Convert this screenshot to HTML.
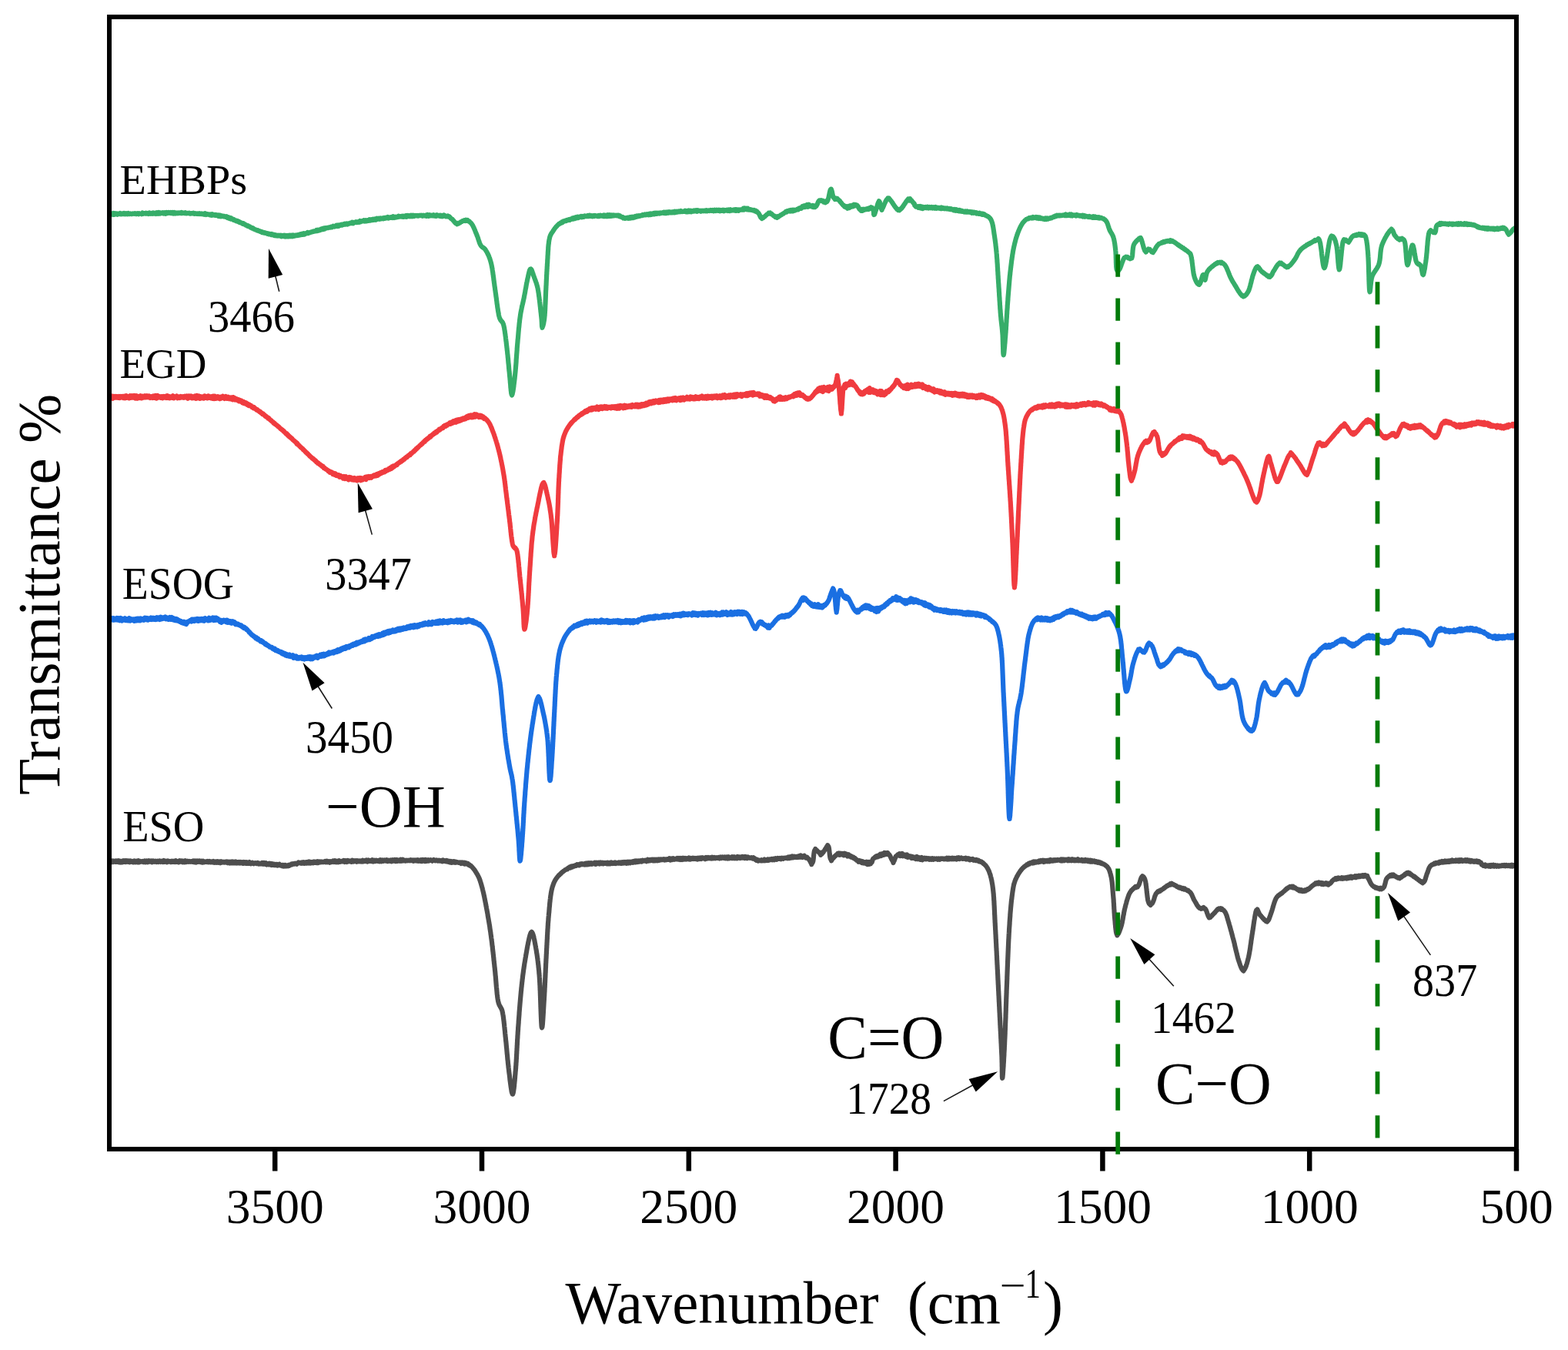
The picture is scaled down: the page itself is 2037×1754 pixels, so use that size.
<!DOCTYPE html><html><head><meta charset="utf-8"><title>FTIR spectra</title><style>html,body{margin:0;padding:0;background:#fff;overflow:hidden;width:2037px;height:1754px;}svg{display:block;}text{font-family:"Liberation Serif","Times New Roman",serif;fill:#000;}</style></head><body>
<svg width="2037" height="1754" viewBox="0 0 2037 1754">
<rect width="2037" height="1754" fill="#fff"/>
<g fill="none" stroke-width="6.2" stroke-linejoin="round" stroke-linecap="round">
<path d="M143.0,1118.6 143.6,1120.2 144.3,1118.2 144.9,1119.8 145.6,1118.4 146.4,1120.1 147.1,1118.5 147.9,1119.6 148.7,1119.0 149.5,1119.8 150.4,1118.4 151.3,1119.7 152.2,1118.6 153.1,1119.8 154.1,1118.3 155.1,1120.3 156.1,1118.7 157.1,1120.4 158.2,1119.0 159.2,1120.2 160.3,1118.3 161.4,1119.6 162.6,1118.4 163.7,1120.0 164.9,1118.2 166.0,1119.6 167.2,1118.5 168.4,1120.2 169.7,1118.4 170.9,1119.7 172.1,1118.9 173.4,1120.3 174.7,1118.6 176.0,1120.3 177.3,1118.9 178.6,1120.1 179.9,1118.3 181.2,1120.2 182.5,1119.0 183.9,1119.7 185.2,1118.9 186.6,1120.1 188.0,1118.6 189.3,1120.2 190.7,1118.6 192.1,1120.1 193.4,1118.2 194.8,1119.6 196.2,1118.5 197.6,1120.2 199.0,1118.5 200.4,1119.7 201.8,1118.7 203.2,1120.1 204.6,1118.8 205.9,1119.9 207.3,1118.5 208.7,1119.9 210.1,1118.8 211.5,1120.0 212.8,1118.1 214.2,1119.7 215.5,1118.7 216.9,1120.2 218.2,1118.4 219.6,1119.6 220.9,1119.0 222.2,1120.1 223.5,1118.7 224.8,1119.8 226.1,1118.7 227.4,1120.0 228.6,1118.4 229.9,1119.7 231.1,1119.0 232.3,1120.3 233.5,1118.2 234.7,1119.5 235.9,1118.6 237.1,1120.1 238.2,1118.7 239.5,1120.2 240.7,1118.3 242.0,1120.1 243.3,1118.8 244.6,1119.8 245.8,1118.9 247.1,1119.8 248.4,1119.1 249.7,1119.8 251.0,1118.5 252.3,1120.2 253.6,1118.6 254.9,1120.5 256.2,1118.6 257.5,1119.8 258.9,1118.5 260.2,1119.9 261.5,1118.7 262.8,1120.6 264.1,1118.9 265.4,1120.3 266.7,1119.4 268.0,1120.0 269.3,1119.0 270.6,1120.2 271.9,1119.1 273.2,1120.3 274.5,1119.5 275.8,1120.4 277.1,1119.1 278.4,1120.6 279.7,1119.4 281.0,1120.7 282.3,1119.3 283.5,1120.7 284.8,1119.5 286.1,1121.2 287.3,1119.3 288.6,1120.6 289.8,1119.7 291.0,1120.6 292.3,1119.7 293.5,1120.5 294.7,1119.5 295.9,1121.1 297.1,1119.8 298.3,1121.4 299.4,1119.9 300.6,1121.2 301.8,1119.5 302.9,1121.3 304.0,1119.8 305.2,1121.1 306.3,1119.5 307.4,1121.6 308.5,1120.2 309.6,1121.3 310.6,1120.0 311.7,1121.5 312.7,1120.1 313.8,1121.2 314.8,1120.2 315.8,1121.8 316.8,1120.1 317.7,1121.6 318.7,1120.4 319.6,1121.7 320.6,1120.4 321.5,1121.7 322.4,1120.9 323.2,1121.6 324.1,1120.1 326.0,1122.2 327.9,1120.7 329.7,1122.3 331.4,1121.1 333.1,1122.0 334.7,1121.0 336.2,1122.6 337.7,1121.6 339.1,1122.5 340.5,1121.0 341.8,1122.8 343.1,1121.1 344.3,1122.6 345.5,1121.4 346.6,1123.4 347.7,1122.3 348.8,1123.3 349.8,1121.8 350.8,1123.2 351.7,1122.1 352.7,1123.9 353.6,1122.2 354.4,1123.7 355.3,1122.9 356.2,1124.0 357.0,1123.0 357.8,1124.1 358.6,1123.1 359.4,1124.1 360.2,1123.0 361.0,1124.6 363.0,1122.8 364.7,1124.6 366.0,1124.0 367.0,1125.3 367.9,1124.1 368.7,1125.6 369.4,1124.0 370.2,1125.2 371.0,1124.1 372.0,1125.4 373.2,1124.4 374.1,1125.3 374.8,1124.0 375.5,1124.8 376.1,1123.8 376.7,1124.3 377.2,1123.5 377.9,1123.7 378.7,1122.5 379.6,1123.2 380.7,1122.2 382.0,1122.7 383.6,1121.6 385.5,1122.7 387.7,1120.5 390.4,1121.5 391.2,1120.7 391.9,1121.7 392.7,1120.4 393.5,1121.5 394.4,1120.3 395.2,1121.8 396.1,1120.5 397.0,1121.5 397.9,1120.4 398.8,1121.4 399.8,1120.1 400.8,1121.5 401.7,1119.6 402.8,1121.6 403.8,1119.9 404.8,1121.2 405.9,1120.0 406.9,1121.1 408.0,1119.4 409.1,1120.8 410.2,1119.7 411.4,1121.0 412.5,1119.2 413.7,1121.0 414.9,1119.5 416.0,1120.4 417.2,1119.5 418.5,1120.2 419.7,1119.6 420.9,1120.1 422.2,1119.1 423.4,1120.3 424.7,1118.7 426.0,1120.2 427.3,1119.2 428.6,1120.6 429.9,1119.2 431.2,1120.0 432.6,1118.5 433.9,1119.9 435.2,1118.3 436.6,1120.2 438.0,1118.8 439.3,1120.2 440.7,1118.2 442.1,1119.8 443.5,1118.8 444.9,1119.4 446.3,1118.1 447.7,1120.0 449.1,1118.2 450.5,1119.9 451.9,1118.0 453.4,1119.3 454.8,1118.5 456.2,1119.8 457.7,1117.9 459.1,1119.4 460.1,1118.3 461.2,1119.0 462.2,1118.2 463.3,1119.7 464.4,1118.3 465.5,1119.2 466.6,1118.4 467.8,1119.4 468.9,1118.4 470.1,1119.4 471.3,1117.9 472.5,1119.2 473.7,1118.1 474.9,1119.0 476.1,1117.5 477.3,1119.5 478.6,1117.6 479.8,1118.9 481.1,1118.0 482.4,1119.0 483.7,1117.4 484.9,1119.4 486.2,1117.9 487.5,1119.1 488.8,1117.8 490.2,1118.9 491.5,1117.9 492.8,1119.1 494.1,1117.4 495.5,1119.3 496.8,1117.6 498.1,1118.8 499.5,1117.4 500.8,1118.5 502.2,1117.2 503.5,1119.1 504.8,1117.7 506.2,1118.7 507.5,1117.5 508.9,1119.1 510.2,1117.3 511.5,1118.5 512.9,1117.0 514.2,1119.1 515.5,1117.1 516.8,1118.7 518.2,1117.4 519.5,1118.6 520.8,1116.9 522.1,1118.6 523.4,1116.9 524.6,1118.4 525.9,1117.7 527.2,1118.6 528.4,1117.6 529.7,1118.4 530.9,1117.7 532.2,1118.3 533.4,1117.3 534.6,1118.2 535.8,1117.5 537.0,1118.7 538.1,1117.5 539.3,1118.4 540.4,1117.4 541.6,1118.4 542.7,1117.2 543.8,1118.8 544.9,1117.7 545.9,1118.6 547.0,1117.2 548.0,1119.0 549.0,1117.1 550.0,1118.4 551.0,1117.2 552.0,1119.0 552.9,1116.9 553.8,1118.9 554.7,1117.7 555.6,1118.5 556.5,1117.3 557.3,1118.5 559.4,1117.1 561.4,1118.7 563.4,1117.0 565.2,1118.4 566.9,1117.3 568.6,1118.6 570.2,1117.6 571.7,1118.7 573.1,1117.9 574.5,1119.3 575.7,1117.6 577.0,1118.9 578.1,1118.2 579.3,1119.2 580.3,1118.1 581.4,1119.4 582.3,1118.7 583.3,1120.1 584.2,1119.1 585.1,1120.4 585.9,1119.1 586.8,1120.7 587.6,1119.4 588.4,1120.1 589.2,1119.3 590.0,1120.5 590.8,1119.4 591.6,1120.7 592.4,1119.8 593.3,1120.6 594.1,1120.2 595.9,1120.9 597.5,1120.3 599.0,1122.0 600.3,1120.5 601.6,1121.8 602.7,1120.9 603.7,1122.5 604.7,1121.0 605.6,1122.3 606.5,1121.8 607.4,1123.0 608.2,1122.4 609.1,1124.0 610.0,1123.6 610.9,1124.9 611.8,1124.9 612.6,1126.0 613.4,1126.6 614.2,1127.6 614.9,1128.3 615.6,1129.4 616.3,1130.0 617.0,1131.1 617.6,1132.0 618.2,1133.1 618.8,1134.0 619.4,1135.1 620.0,1135.9 620.5,1136.9 621.0,1137.8 621.5,1138.8 621.9,1139.6 622.3,1140.6 622.7,1141.5 623.1,1142.5 623.4,1143.4 623.8,1144.5 624.1,1145.5 624.5,1146.7 624.9,1147.9 625.2,1149.2 625.6,1150.5 626.0,1151.9 626.3,1152.8 626.5,1153.8 626.8,1154.7 627.0,1155.8 627.3,1156.8 627.5,1157.9 627.8,1158.9 628.0,1160.0 628.3,1161.1 628.5,1162.3 628.8,1163.4 629.0,1164.6 629.3,1165.8 629.5,1167.0 629.8,1168.2 630.0,1169.5 630.3,1170.7 630.5,1172.0 630.8,1173.2 631.0,1174.5 631.3,1175.8 631.5,1177.2 631.8,1178.5 632.0,1179.8 632.2,1180.8 632.4,1181.9 632.6,1182.9 632.8,1184.0 633.0,1185.1 633.2,1186.1 633.4,1187.2 633.6,1188.3 633.7,1189.4 633.9,1190.5 634.1,1191.7 634.3,1192.8 634.5,1193.9 634.7,1195.1 634.9,1196.2 635.1,1197.4 635.3,1198.6 635.5,1199.7 635.7,1200.9 635.9,1202.1 636.1,1203.3 636.3,1204.5 636.4,1205.7 636.6,1207.0 636.8,1208.2 637.0,1209.5 637.2,1210.7 637.4,1212.0 637.5,1213.2 637.7,1214.5 637.9,1215.8 638.0,1216.9 638.2,1218.0 638.3,1219.1 638.5,1220.2 638.6,1221.4 638.8,1222.5 638.9,1223.7 639.1,1224.8 639.2,1226.0 639.3,1227.2 639.5,1228.4 639.6,1229.6 639.8,1230.8 639.9,1232.0 640.0,1233.2 640.2,1234.4 640.3,1235.7 640.5,1236.9 640.6,1238.1 640.7,1239.3 640.9,1240.6 641.0,1241.8 641.1,1243.0 641.3,1244.3 641.4,1245.5 641.5,1246.7 641.6,1247.9 641.8,1249.1 641.9,1250.3 642.0,1251.5 642.2,1252.7 642.3,1253.9 642.4,1255.1 642.5,1256.3 642.7,1257.4 642.8,1258.6 642.9,1259.7 643.0,1260.9 643.2,1262.2 643.3,1263.4 643.4,1264.7 643.5,1266.0 643.6,1267.3 643.8,1268.6 643.9,1269.9 644.0,1271.2 644.1,1272.5 644.2,1273.7 644.3,1275.0 644.4,1276.3 644.5,1277.6 644.6,1278.9 644.7,1280.1 644.8,1281.4 644.9,1282.6 645.1,1283.9 645.2,1285.1 645.3,1286.3 645.4,1287.4 645.5,1288.6 645.6,1289.7 645.7,1290.8 645.8,1291.9 646.0,1293.0 646.1,1294.0 646.2,1295.0 646.3,1296.0 646.5,1297.0 646.6,1297.9 646.8,1298.7 646.9,1299.6 647.2,1301.3 647.6,1302.8 648.0,1304.0 648.4,1305.1 648.8,1306.0 649.3,1306.9 649.7,1307.5 650.1,1308.4 650.5,1309.0 651.0,1309.9 651.4,1310.6 651.8,1311.7 652.2,1312.7 652.6,1314.1 652.9,1315.6 653.1,1316.5 653.2,1317.4 653.4,1318.3 653.6,1319.3 653.7,1320.3 653.9,1321.3 654.0,1322.4 654.1,1323.5 654.3,1324.6 654.4,1325.7 654.6,1326.9 654.7,1328.1 654.8,1329.2 655.0,1330.4 655.1,1331.7 655.2,1332.9 655.3,1334.1 655.5,1335.4 655.6,1336.7 655.7,1337.9 655.9,1339.2 656.0,1340.5 656.1,1341.8 656.2,1343.1 656.4,1344.4 656.5,1345.7 656.6,1346.9 656.8,1348.2 656.9,1349.5 657.0,1350.6 657.1,1351.7 657.2,1352.8 657.4,1354.0 657.5,1355.1 657.6,1356.3 657.7,1357.5 657.8,1358.6 657.9,1359.8 658.0,1361.0 658.2,1362.2 658.3,1363.5 658.4,1364.7 658.5,1365.9 658.6,1367.1 658.7,1368.3 658.8,1369.6 659.0,1370.8 659.1,1372.0 659.2,1373.2 659.3,1374.4 659.4,1375.7 659.5,1376.9 659.7,1378.1 659.8,1379.2 659.9,1380.4 660.0,1381.6 660.1,1382.8 660.3,1383.9 660.4,1385.0 660.5,1386.1 660.6,1387.3 660.8,1388.3 660.9,1389.4 661.1,1390.8 661.2,1392.2 661.4,1393.6 661.6,1395.2 661.8,1396.7 662.0,1398.3 662.2,1399.8 662.3,1401.4 662.5,1403.0 662.7,1404.6 662.9,1406.1 663.1,1407.7 663.3,1409.2 663.5,1410.6 663.7,1412.0 663.9,1413.3 664.1,1414.6 664.3,1415.8 664.5,1416.8 664.6,1417.9 664.8,1418.7 665.0,1419.5 665.2,1420.2 665.4,1420.7 665.6,1421.0 665.7,1421.4 665.9,1421.1 666.1,1421.6 666.2,1421.1 666.4,1420.8 666.6,1420.2 666.7,1419.7 666.9,1418.9 667.0,1418.1 667.2,1417.2 667.3,1416.1 667.5,1415.0 667.7,1413.8 667.8,1412.5 668.0,1411.2 668.1,1409.8 668.2,1408.4 668.4,1406.9 668.5,1405.3 668.7,1403.8 668.8,1402.2 669.0,1400.6 669.1,1398.9 669.2,1397.3 669.4,1395.7 669.5,1394.1 669.6,1392.5 669.8,1390.9 669.9,1389.4 670.0,1388.4 670.1,1387.4 670.1,1386.4 670.2,1385.3 670.3,1384.3 670.4,1383.2 670.4,1382.1 670.5,1381.0 670.6,1379.9 670.7,1378.8 670.7,1377.6 670.8,1376.4 670.9,1375.3 670.9,1374.1 671.0,1372.9 671.1,1371.7 671.1,1370.5 671.2,1369.3 671.3,1368.0 671.3,1366.8 671.4,1365.6 671.5,1364.3 671.5,1363.1 671.6,1361.8 671.7,1360.6 671.7,1359.3 671.8,1358.1 671.9,1356.8 671.9,1355.5 672.0,1354.3 672.1,1353.0 672.1,1351.8 672.2,1350.5 672.3,1349.3 672.4,1348.0 672.4,1346.8 672.5,1345.6 672.6,1344.3 672.7,1343.1 672.7,1341.9 672.8,1340.7 672.9,1339.5 673.0,1338.3 673.1,1337.1 673.1,1335.9 673.2,1334.7 673.3,1333.5 673.4,1332.3 673.5,1331.1 673.6,1329.8 673.7,1328.6 673.7,1327.4 673.8,1326.2 673.9,1325.0 674.0,1323.7 674.1,1322.5 674.2,1321.3 674.3,1320.0 674.4,1318.8 674.5,1317.6 674.5,1316.4 674.6,1315.1 674.7,1313.9 674.8,1312.7 674.9,1311.5 675.0,1310.3 675.1,1309.1 675.2,1307.9 675.3,1306.7 675.4,1305.5 675.5,1304.3 675.6,1303.1 675.7,1302.0 675.8,1300.8 675.9,1299.6 676.0,1298.5 676.1,1297.3 676.2,1296.2 676.3,1295.1 676.4,1294.0 676.5,1292.9 676.6,1291.8 676.7,1290.7 676.8,1289.6 676.9,1288.3 677.1,1287.0 677.2,1285.7 677.3,1284.4 677.4,1283.2 677.6,1281.9 677.7,1280.7 677.8,1279.5 678.0,1278.3 678.1,1277.1 678.2,1275.9 678.4,1274.7 678.5,1273.5 678.6,1272.4 678.8,1271.2 678.9,1270.1 679.0,1268.9 679.2,1267.8 679.3,1266.6 679.5,1265.5 679.6,1264.4 679.8,1263.2 679.9,1262.1 680.1,1261.0 680.2,1259.9 680.4,1258.7 680.6,1257.6 680.7,1256.5 680.9,1255.4 681.1,1254.2 681.2,1253.1 681.4,1252.0 681.6,1250.8 681.8,1249.7 682.0,1248.5 682.2,1247.3 682.4,1246.0 682.6,1244.7 682.9,1243.3 683.1,1241.9 683.3,1240.5 683.6,1239.1 683.8,1237.7 684.1,1236.3 684.3,1234.8 684.6,1233.4 684.8,1232.0 685.1,1230.6 685.3,1229.2 685.6,1227.8 685.9,1226.5 686.1,1225.2 686.4,1223.8 686.7,1222.6 686.9,1221.4 687.2,1220.2 687.4,1219.1 687.7,1218.1 687.9,1217.1 688.2,1216.1 688.4,1215.2 688.7,1214.5 688.9,1213.7 689.1,1213.2 689.4,1212.5 689.6,1212.2 689.8,1211.6 690.2,1211.8 690.7,1210.8 691.1,1211.5 691.5,1211.8 691.9,1212.6 692.2,1213.4 692.6,1214.6 693.0,1215.9 693.4,1217.4 693.7,1218.9 694.1,1220.6 694.4,1222.4 694.8,1224.2 695.1,1226.0 695.5,1227.9 695.8,1229.7 696.0,1230.6 696.1,1231.4 696.3,1232.3 696.4,1233.2 696.6,1234.2 696.8,1235.1 696.9,1236.1 697.1,1237.1 697.2,1238.1 697.4,1239.1 697.6,1240.1 697.7,1241.2 697.9,1242.3 698.0,1243.4 698.2,1244.5 698.3,1245.6 698.5,1246.8 698.6,1247.9 698.8,1249.1 698.9,1250.4 699.1,1251.6 699.2,1252.9 699.4,1254.1 699.5,1255.4 699.6,1256.8 699.8,1258.1 699.9,1259.5 700.1,1260.9 700.2,1262.3 700.3,1263.7 700.4,1265.2 700.6,1266.7 700.7,1268.2 700.8,1269.7 700.9,1270.7 700.9,1271.7 701.0,1272.8 701.1,1273.9 701.1,1275.0 701.2,1276.2 701.3,1277.5 701.3,1278.7 701.4,1280.0 701.5,1281.3 701.5,1282.7 701.6,1284.0 701.6,1285.4 701.7,1286.8 701.8,1288.3 701.8,1289.7 701.9,1291.2 701.9,1292.7 702.0,1294.1 702.0,1295.6 702.1,1297.1 702.1,1298.6 702.2,1300.1 702.2,1301.6 702.3,1303.1 702.3,1304.6 702.4,1306.0 702.4,1307.5 702.5,1309.0 702.5,1310.4 702.6,1311.8 702.6,1313.2 702.7,1314.6 702.7,1315.9 702.8,1317.2 702.8,1318.5 702.9,1319.8 702.9,1321.0 703.0,1322.2 703.0,1323.3 703.1,1324.5 703.1,1325.5 703.2,1326.5 703.2,1327.5 703.3,1328.5 703.3,1329.3 703.4,1330.1 703.4,1330.9 703.5,1331.6 703.5,1332.3 703.6,1332.8 703.6,1333.4 703.7,1333.8 703.7,1334.2 703.8,1334.5 703.9,1334.9 704.0,1335.2 704.1,1334.5 704.2,1335.1 704.3,1334.7 704.4,1334.3 704.5,1333.7 704.6,1333.0 704.7,1332.1 704.8,1331.2 704.9,1330.1 705.0,1328.9 705.1,1327.6 705.2,1326.3 705.3,1324.8 705.4,1323.3 705.5,1321.8 705.6,1320.1 705.7,1318.5 705.8,1316.8 705.9,1315.0 706.0,1313.3 706.1,1311.5 706.2,1309.8 706.3,1308.0 706.4,1306.3 706.5,1304.6 706.6,1302.9 706.7,1301.2 706.8,1299.6 706.9,1298.6 706.9,1297.7 707.0,1296.7 707.0,1295.6 707.1,1294.6 707.2,1293.5 707.2,1292.4 707.3,1291.3 707.3,1290.2 707.4,1289.1 707.5,1287.9 707.5,1286.7 707.6,1285.6 707.6,1284.4 707.7,1283.2 707.8,1281.9 707.8,1280.7 707.9,1279.5 707.9,1278.2 708.0,1277.0 708.1,1275.7 708.1,1274.4 708.2,1273.2 708.2,1271.9 708.3,1270.6 708.4,1269.3 708.4,1268.0 708.5,1266.7 708.5,1265.4 708.6,1264.1 708.7,1262.9 708.7,1261.6 708.8,1260.3 708.8,1259.0 708.9,1257.7 709.0,1256.5 709.0,1255.2 709.1,1253.9 709.1,1252.7 709.2,1251.4 709.3,1250.2 709.3,1249.0 709.4,1247.8 709.4,1246.6 709.5,1245.4 709.6,1244.2 709.6,1243.1 709.7,1241.9 709.7,1240.8 709.8,1239.7 709.9,1238.4 709.9,1237.1 710.0,1235.8 710.1,1234.5 710.1,1233.2 710.2,1231.9 710.3,1230.7 710.3,1229.4 710.4,1228.1 710.5,1226.9 710.5,1225.6 710.6,1224.4 710.7,1223.1 710.7,1221.9 710.8,1220.6 710.9,1219.4 710.9,1218.2 711.0,1217.0 711.0,1215.8 711.1,1214.6 711.2,1213.4 711.2,1212.2 711.3,1211.0 711.4,1209.8 711.4,1208.6 711.5,1207.5 711.6,1206.3 711.7,1205.2 711.7,1204.0 711.8,1202.9 711.9,1201.8 711.9,1200.6 712.0,1199.5 712.1,1198.4 712.2,1197.3 712.3,1196.2 712.4,1195.1 712.4,1194.0 712.5,1193.0 712.6,1191.9 712.7,1190.8 712.8,1189.8 712.9,1188.4 713.0,1187.1 713.2,1185.7 713.3,1184.4 713.4,1183.0 713.5,1181.7 713.6,1180.3 713.7,1179.0 713.9,1177.7 714.0,1176.4 714.1,1175.1 714.2,1173.8 714.3,1172.6 714.5,1171.3 714.6,1170.1 714.7,1168.9 714.9,1167.6 715.0,1166.5 715.2,1165.3 715.3,1164.1 715.5,1163.0 715.7,1161.9 715.8,1160.8 716.0,1159.7 716.2,1158.6 716.4,1157.6 716.6,1156.6 716.8,1155.6 717.1,1154.6 717.3,1153.7 717.5,1152.8 717.8,1151.9 718.3,1150.4 718.8,1149.0 719.3,1147.6 719.8,1146.5 720.4,1145.2 721.0,1144.2 721.6,1143.0 722.2,1142.1 722.8,1141.1 723.5,1140.4 724.2,1139.3 724.9,1138.7 725.6,1137.6 726.4,1137.2 727.2,1135.9 728.0,1135.7 728.8,1134.5 729.7,1134.0 730.5,1132.9 731.4,1132.6 732.3,1131.6 733.2,1131.3 734.1,1130.3 735.1,1130.0 736.0,1129.2 737.0,1129.4 738.0,1127.7 739.1,1127.9 740.1,1126.6 741.2,1127.4 742.3,1125.6 743.5,1126.5 744.7,1125.1 745.9,1125.7 747.1,1124.4 748.4,1124.9 749.7,1123.2 750.7,1124.0 751.7,1123.2 752.7,1124.3 753.8,1122.6 754.9,1123.4 756.0,1122.3 757.1,1123.2 758.2,1122.4 759.4,1123.4 760.5,1121.8 761.7,1123.1 762.9,1121.4 764.1,1123.2 765.3,1121.2 766.5,1122.7 767.8,1121.4 769.0,1122.7 770.2,1121.5 771.5,1122.2 772.7,1120.9 773.9,1122.8 775.1,1120.7 776.4,1122.0 777.6,1120.8 778.8,1122.4 780.0,1120.6 781.2,1122.0 782.3,1120.8 783.5,1122.3 784.7,1121.0 785.8,1121.9 787.0,1121.0 788.2,1122.1 789.4,1120.8 790.6,1122.2 791.8,1121.0 793.0,1122.3 794.2,1120.6 795.4,1121.9 796.6,1121.0 797.8,1121.8 799.0,1120.5 800.2,1121.9 801.4,1120.9 802.6,1121.6 803.8,1120.5 804.9,1121.5 806.1,1120.5 807.3,1121.8 808.5,1120.4 809.6,1121.4 810.8,1120.1 811.9,1121.3 813.1,1120.1 814.2,1121.7 815.4,1119.8 816.4,1121.4 817.4,1119.8 818.5,1121.2 819.4,1119.8 820.4,1120.6 821.4,1119.6 822.3,1120.8 823.3,1119.1 824.3,1120.2 825.3,1118.5 826.4,1120.2 827.4,1118.4 828.5,1119.9 829.7,1118.6 830.9,1119.5 832.2,1118.3 833.5,1119.4 834.9,1117.7 836.4,1118.7 838.0,1117.6 839.6,1119.1 841.4,1116.9 842.3,1118.5 843.2,1117.3 844.1,1118.2 845.1,1117.0 846.0,1117.9 847.0,1116.9 848.0,1118.2 849.0,1116.8 850.0,1118.3 851.1,1116.8 852.1,1118.2 853.2,1116.8 854.3,1118.1 855.4,1116.5 856.5,1117.7 857.7,1116.5 858.8,1117.4 860.0,1116.4 861.1,1117.1 862.3,1116.3 863.5,1117.5 864.7,1116.4 865.9,1117.2 867.1,1116.2 868.4,1116.9 869.6,1115.4 870.8,1117.6 872.1,1115.6 873.3,1116.9 874.6,1115.3 875.9,1116.7 877.1,1115.7 878.4,1116.4 879.7,1115.1 881.0,1116.5 882.2,1115.1 883.5,1116.9 884.8,1115.1 886.1,1116.9 887.4,1114.8 888.7,1116.5 890.0,1115.0 891.3,1116.4 892.5,1115.2 893.8,1116.2 895.1,1114.6 896.4,1116.6 897.7,1115.1 898.9,1116.1 900.2,1114.8 901.4,1116.0 902.7,1115.0 903.8,1116.1 905.0,1115.1 906.1,1116.4 907.3,1114.8 908.5,1116.0 909.8,1114.6 911.0,1116.0 912.2,1114.2 913.5,1115.4 914.8,1114.7 916.0,1116.1 917.3,1114.0 918.6,1115.4 919.9,1114.1 921.2,1115.3 922.6,1114.2 923.9,1115.5 925.2,1113.9 926.5,1115.3 927.9,1114.0 929.2,1115.2 930.6,1114.2 931.9,1114.9 933.2,1114.0 934.6,1115.4 935.9,1113.5 937.2,1115.0 938.5,1113.5 939.9,1114.7 941.2,1113.6 942.5,1115.3 943.8,1113.4 945.1,1115.4 946.3,1113.3 947.6,1115.2 948.8,1113.9 950.1,1115.0 951.3,1113.3 952.5,1115.1 953.7,1113.3 954.9,1115.2 956.1,1113.8 957.2,1115.2 958.3,1113.1 959.4,1114.6 960.5,1113.6 961.6,1114.9 962.6,1113.4 963.6,1114.4 964.6,1113.1 965.6,1114.6 966.5,1113.3 967.4,1115.0 968.3,1113.1 969.1,1114.7 970.0,1113.4 970.7,1115.2 971.5,1113.4 974.1,1114.8 976.1,1114.1 977.6,1115.5 978.8,1114.4 979.7,1115.8 980.3,1115.3 980.8,1116.2 981.2,1116.2 981.6,1117.3 982.1,1116.8 982.7,1117.8 983.6,1116.8 984.9,1118.5 986.5,1117.5 988.6,1118.4 989.4,1117.4 990.3,1118.2 991.2,1117.5 992.1,1118.2 993.1,1116.6 994.1,1118.2 995.2,1117.3 996.3,1118.1 997.5,1116.5 998.7,1117.8 999.9,1116.5 1001.1,1117.1 1002.4,1115.9 1003.7,1117.1 1005.0,1115.7 1006.3,1117.1 1007.6,1115.4 1009.0,1116.7 1010.4,1115.0 1011.7,1115.9 1013.1,1114.9 1014.5,1116.3 1015.9,1114.8 1017.3,1115.8 1018.7,1114.6 1020.0,1115.0 1021.4,1114.3 1022.8,1115.3 1024.1,1113.4 1025.4,1115.0 1026.8,1113.3 1028.0,1114.4 1029.3,1112.6 1030.6,1114.3 1031.8,1112.9 1033.0,1113.9 1034.1,1113.0 1035.2,1113.9 1036.3,1112.8 1037.3,1113.7 1038.3,1112.3 1039.3,1113.7 1040.2,1111.4 1041.0,1113.6 1041.9,1112.4 1042.6,1113.9 1044.9,1111.8 1046.9,1114.6 1048.5,1113.7 1049.7,1115.8 1050.8,1116.0 1051.6,1117.7 1052.2,1118.3 1052.7,1119.6 1053.1,1120.3 1053.5,1121.2 1053.9,1121.2 1054.3,1123.1 1054.9,1121.2 1055.4,1121.3 1055.8,1120.2 1056.1,1119.4 1056.4,1118.2 1056.6,1116.9 1056.8,1115.4 1056.9,1113.9 1057.0,1112.4 1057.2,1110.9 1057.3,1109.4 1057.5,1108.1 1057.7,1106.8 1057.9,1105.8 1058.2,1104.8 1058.6,1105.0 1059.3,1102.9 1060.2,1105.1 1061.1,1104.8 1062.1,1106.0 1063.1,1106.7 1064.2,1108.1 1065.2,1108.2 1066.2,1110.9 1067.2,1107.6 1068.0,1109.2 1068.8,1107.9 1069.7,1107.2 1070.5,1105.5 1071.4,1104.5 1072.2,1102.9 1073.0,1101.9 1073.8,1100.3 1074.5,1100.1 1075.2,1098.1 1075.8,1100.3 1076.2,1099.6 1076.5,1100.7 1076.8,1101.6 1077.0,1102.8 1077.2,1104.1 1077.3,1105.6 1077.5,1107.1 1077.7,1108.7 1077.8,1110.2 1078.0,1111.7 1078.2,1113.1 1078.4,1114.3 1078.7,1115.3 1079.1,1116.3 1079.5,1116.2 1080.1,1118.3 1080.8,1115.8 1081.5,1116.2 1082.3,1114.9 1083.1,1114.4 1084.0,1112.8 1084.9,1112.5 1085.9,1111.0 1087.0,1110.5 1088.1,1109.1 1089.3,1110.5 1090.2,1108.5 1091.3,1110.8 1092.4,1108.8 1093.5,1110.3 1094.8,1109.1 1096.0,1111.2 1097.3,1108.7 1098.5,1111.1 1099.8,1109.9 1101.0,1112.4 1102.3,1110.2 1103.4,1112.4 1104.5,1111.8 1105.6,1113.5 1106.5,1112.7 1107.8,1114.5 1108.9,1113.8 1109.8,1115.4 1110.7,1115.0 1111.6,1116.7 1112.4,1116.5 1113.2,1118.0 1114.1,1117.9 1115.2,1119.7 1116.3,1118.0 1117.3,1119.8 1118.4,1118.8 1119.6,1121.0 1120.8,1119.3 1122.0,1121.6 1123.3,1120.2 1124.6,1122.0 1125.8,1119.8 1127.0,1123.1 1128.2,1120.0 1129.2,1122.9 1130.2,1119.9 1131.0,1122.3 1132.0,1120.4 1132.6,1120.5 1133.0,1119.3 1133.3,1118.4 1133.6,1117.1 1134.0,1116.2 1134.8,1115.0 1135.9,1114.9 1136.7,1113.5 1137.7,1113.9 1138.7,1112.2 1139.9,1113.3 1141.1,1111.4 1142.4,1112.4 1143.7,1109.7 1145.0,1111.9 1146.3,1109.3 1147.6,1110.8 1148.9,1107.9 1150.1,1110.3 1151.2,1108.2 1152.2,1109.7 1153.1,1108.0 1154.1,1110.0 1155.0,1110.1 1155.8,1111.5 1156.5,1112.4 1157.1,1113.9 1157.7,1115.0 1158.2,1116.3 1158.8,1117.2 1159.3,1118.4 1159.9,1118.2 1160.5,1121.0 1161.1,1118.4 1161.6,1118.6 1162.0,1117.3 1162.4,1116.4 1162.8,1115.0 1163.3,1114.0 1164.0,1112.3 1164.9,1112.1 1166.2,1110.5 1167.8,1111.3 1168.6,1109.2 1169.4,1112.2 1170.2,1110.0 1171.1,1111.4 1172.0,1108.9 1172.9,1112.3 1173.9,1110.2 1174.9,1112.1 1176.0,1110.9 1177.1,1113.0 1178.2,1110.4 1179.3,1113.9 1180.5,1111.9 1181.8,1113.5 1183.0,1112.5 1184.3,1115.0 1185.6,1113.0 1187.0,1114.9 1188.4,1113.8 1189.8,1116.1 1191.2,1113.1 1192.7,1116.3 1194.2,1114.3 1195.7,1116.8 1197.3,1113.9 1198.3,1117.2 1199.3,1114.7 1200.4,1116.3 1201.5,1114.8 1202.6,1116.2 1203.8,1115.1 1205.0,1116.1 1206.2,1115.2 1207.4,1116.7 1208.7,1115.5 1210.0,1116.8 1211.3,1115.4 1212.6,1116.7 1214.0,1115.4 1215.3,1116.2 1216.7,1115.4 1218.1,1116.7 1219.4,1115.4 1220.8,1116.7 1222.2,1115.3 1223.5,1115.9 1224.9,1115.3 1226.2,1116.4 1227.6,1115.4 1228.9,1116.3 1230.2,1114.8 1231.5,1116.6 1232.8,1114.7 1234.0,1116.3 1235.3,1115.1 1236.5,1116.2 1237.6,1114.7 1238.8,1116.1 1239.9,1115.0 1240.9,1116.0 1242.0,1115.1 1242.9,1116.4 1243.9,1114.5 1244.8,1115.7 1245.6,1114.3 1246.4,1116.1 1248.8,1114.5 1250.7,1115.9 1252.3,1115.1 1253.5,1115.8 1254.5,1114.8 1255.3,1116.4 1256.0,1115.3 1256.7,1116.2 1257.3,1115.2 1258.1,1116.5 1258.9,1115.5 1260.0,1117.3 1261.1,1116.2 1262.3,1116.9 1263.5,1116.0 1264.7,1117.7 1266.0,1116.9 1267.2,1118.0 1268.4,1117.0 1269.6,1118.4 1270.8,1117.8 1272.0,1119.4 1273.1,1118.9 1274.1,1119.9 1275.1,1119.6 1276.0,1120.8 1276.9,1120.9 1277.7,1122.3 1278.5,1122.5 1279.3,1123.4 1280.0,1123.9 1280.7,1124.9 1281.4,1125.6 1282.1,1126.8 1282.7,1127.6 1283.3,1128.9 1283.9,1130.0 1284.5,1131.4 1284.9,1132.2 1285.2,1133.2 1285.5,1134.0 1285.8,1134.9 1286.2,1135.8 1286.5,1136.8 1286.8,1137.7 1287.0,1138.8 1287.3,1139.8 1287.6,1140.9 1287.8,1142.0 1288.1,1143.1 1288.3,1144.3 1288.6,1145.6 1288.8,1146.9 1289.0,1148.2 1289.3,1149.6 1289.5,1151.1 1289.7,1152.6 1289.9,1154.2 1290.1,1155.9 1290.2,1156.8 1290.3,1157.7 1290.4,1158.7 1290.5,1159.6 1290.6,1160.6 1290.7,1161.6 1290.8,1162.7 1290.8,1163.7 1290.9,1164.8 1291.0,1165.8 1291.1,1166.9 1291.1,1168.0 1291.2,1169.2 1291.3,1170.3 1291.4,1171.5 1291.4,1172.6 1291.5,1173.8 1291.5,1175.0 1291.6,1176.2 1291.7,1177.4 1291.7,1178.6 1291.8,1179.8 1291.8,1181.1 1291.9,1182.3 1292.0,1183.6 1292.0,1184.9 1292.1,1186.1 1292.1,1187.4 1292.2,1188.7 1292.3,1190.0 1292.3,1191.2 1292.4,1192.5 1292.4,1193.8 1292.5,1195.1 1292.6,1196.4 1292.6,1197.7 1292.7,1199.0 1292.8,1200.3 1292.8,1201.6 1292.9,1202.9 1293.0,1204.0 1293.0,1205.1 1293.1,1206.2 1293.1,1207.3 1293.2,1208.4 1293.3,1209.5 1293.3,1210.6 1293.4,1211.8 1293.4,1212.9 1293.5,1214.1 1293.6,1215.2 1293.6,1216.4 1293.7,1217.5 1293.7,1218.7 1293.8,1219.9 1293.9,1221.0 1293.9,1222.2 1294.0,1223.4 1294.0,1224.6 1294.1,1225.8 1294.2,1227.0 1294.2,1228.2 1294.3,1229.4 1294.3,1230.6 1294.4,1231.8 1294.5,1233.0 1294.5,1234.2 1294.6,1235.4 1294.7,1236.6 1294.7,1237.8 1294.8,1239.0 1294.8,1240.2 1294.9,1241.4 1295.0,1242.6 1295.0,1243.9 1295.1,1245.1 1295.1,1246.3 1295.2,1247.5 1295.3,1248.7 1295.3,1249.9 1295.4,1251.1 1295.4,1252.3 1295.5,1253.5 1295.6,1254.7 1295.6,1255.9 1295.7,1257.0 1295.7,1258.2 1295.8,1259.4 1295.9,1260.6 1295.9,1261.8 1296.0,1262.9 1296.0,1264.1 1296.1,1265.3 1296.2,1266.5 1296.2,1267.6 1296.3,1268.8 1296.3,1270.0 1296.4,1271.2 1296.4,1272.3 1296.5,1273.5 1296.6,1274.7 1296.6,1275.9 1296.7,1277.0 1296.7,1278.2 1296.8,1279.4 1296.9,1280.6 1296.9,1281.7 1297.0,1282.9 1297.0,1284.1 1297.1,1285.3 1297.1,1286.4 1297.2,1287.6 1297.3,1288.8 1297.3,1289.9 1297.4,1291.1 1297.4,1292.3 1297.5,1293.5 1297.6,1294.6 1297.6,1295.8 1297.7,1297.0 1297.7,1298.2 1297.8,1299.3 1297.8,1300.5 1297.9,1301.7 1298.0,1302.9 1298.0,1304.0 1298.1,1305.2 1298.1,1306.4 1298.2,1307.6 1298.3,1308.7 1298.3,1309.9 1298.4,1311.1 1298.4,1312.3 1298.5,1313.4 1298.5,1314.6 1298.6,1315.8 1298.7,1317.0 1298.7,1318.2 1298.8,1319.4 1298.8,1320.6 1298.9,1321.8 1299.0,1323.1 1299.0,1324.3 1299.1,1325.5 1299.2,1326.8 1299.2,1328.0 1299.3,1329.3 1299.3,1330.6 1299.4,1331.9 1299.5,1333.1 1299.5,1334.4 1299.6,1335.7 1299.7,1337.0 1299.7,1338.2 1299.8,1339.5 1299.9,1340.8 1299.9,1342.0 1300.0,1343.3 1300.1,1344.6 1300.1,1345.8 1300.2,1347.1 1300.2,1348.3 1300.3,1349.5 1300.4,1350.8 1300.4,1352.0 1300.5,1353.2 1300.5,1354.4 1300.6,1355.6 1300.7,1356.7 1300.7,1357.9 1300.8,1359.0 1300.8,1360.2 1300.9,1361.3 1300.9,1362.4 1301.0,1363.5 1301.0,1364.5 1301.1,1365.6 1301.1,1366.6 1301.2,1367.6 1301.2,1368.6 1301.3,1369.5 1301.3,1370.5 1301.4,1371.4 1301.4,1372.3 1301.5,1374.1 1301.5,1375.9 1301.6,1377.7 1301.6,1379.5 1301.7,1381.3 1301.7,1383.1 1301.7,1384.9 1301.8,1386.6 1301.8,1388.3 1301.8,1389.9 1301.8,1391.4 1301.8,1392.9 1301.9,1394.2 1301.9,1395.5 1301.9,1396.7 1301.9,1397.7 1301.9,1398.6 1302.0,1399.4 1302.0,1400.0 1302.1,1400.5 1302.1,1400.8 1302.2,1400.5 1302.2,1400.8 1302.3,1400.5 1302.3,1400.2 1302.4,1399.9 1302.5,1399.5 1302.5,1399.0 1302.6,1398.4 1302.6,1397.8 1302.7,1397.1 1302.8,1396.4 1302.8,1395.6 1302.9,1394.7 1303.0,1393.8 1303.0,1392.8 1303.1,1391.8 1303.2,1390.7 1303.2,1389.6 1303.3,1388.5 1303.4,1387.3 1303.5,1386.0 1303.6,1384.8 1303.6,1383.5 1303.7,1382.1 1303.8,1380.8 1303.9,1379.4 1304.0,1377.9 1304.0,1376.5 1304.1,1375.0 1304.2,1373.6 1304.3,1372.0 1304.4,1370.5 1304.4,1369.0 1304.5,1367.5 1304.6,1365.9 1304.7,1364.4 1304.8,1362.8 1304.8,1361.2 1304.9,1359.7 1305.0,1358.1 1305.1,1356.6 1305.1,1355.0 1305.2,1353.5 1305.2,1352.5 1305.3,1351.5 1305.3,1350.5 1305.4,1349.5 1305.4,1348.4 1305.5,1347.4 1305.5,1346.3 1305.6,1345.2 1305.6,1344.1 1305.7,1343.0 1305.7,1341.9 1305.7,1340.8 1305.8,1339.6 1305.8,1338.5 1305.9,1337.3 1305.9,1336.1 1306.0,1335.0 1306.0,1333.8 1306.1,1332.6 1306.1,1331.4 1306.1,1330.1 1306.2,1328.9 1306.2,1327.7 1306.3,1326.5 1306.3,1325.2 1306.4,1324.0 1306.4,1322.7 1306.5,1321.5 1306.5,1320.2 1306.5,1318.9 1306.6,1317.7 1306.6,1316.4 1306.7,1315.1 1306.7,1313.8 1306.8,1312.6 1306.8,1311.3 1306.8,1310.0 1306.9,1308.7 1306.9,1307.5 1307.0,1306.2 1307.0,1304.9 1307.1,1303.7 1307.1,1302.4 1307.2,1301.1 1307.2,1299.9 1307.2,1298.6 1307.3,1297.3 1307.3,1296.1 1307.4,1294.8 1307.4,1293.6 1307.5,1292.4 1307.5,1291.1 1307.6,1289.9 1307.6,1288.7 1307.6,1287.5 1307.7,1286.3 1307.7,1285.1 1307.8,1283.9 1307.8,1282.8 1307.9,1281.6 1307.9,1280.5 1308.0,1279.3 1308.0,1278.2 1308.1,1276.9 1308.1,1275.6 1308.2,1274.3 1308.2,1273.1 1308.3,1271.8 1308.3,1270.5 1308.3,1269.2 1308.4,1267.9 1308.4,1266.7 1308.5,1265.4 1308.5,1264.1 1308.6,1262.8 1308.6,1261.6 1308.7,1260.3 1308.7,1259.0 1308.8,1257.8 1308.8,1256.5 1308.9,1255.3 1308.9,1254.0 1309.0,1252.7 1309.0,1251.5 1309.1,1250.3 1309.1,1249.0 1309.2,1247.8 1309.2,1246.5 1309.3,1245.3 1309.3,1244.1 1309.4,1242.9 1309.4,1241.7 1309.5,1240.4 1309.5,1239.2 1309.6,1238.0 1309.6,1236.8 1309.7,1235.7 1309.7,1234.5 1309.8,1233.3 1309.8,1232.1 1309.9,1231.0 1309.9,1229.8 1310.0,1228.7 1310.0,1227.5 1310.1,1226.4 1310.1,1225.2 1310.2,1224.1 1310.2,1223.0 1310.3,1221.9 1310.3,1220.8 1310.4,1219.7 1310.5,1218.6 1310.5,1217.5 1310.6,1216.5 1310.6,1215.4 1310.7,1214.4 1310.7,1213.3 1310.8,1212.3 1310.9,1210.9 1311.0,1209.5 1311.0,1208.1 1311.1,1206.7 1311.2,1205.4 1311.3,1204.0 1311.4,1202.7 1311.5,1201.3 1311.6,1200.0 1311.6,1198.7 1311.7,1197.4 1311.8,1196.1 1311.9,1194.8 1312.0,1193.6 1312.1,1192.3 1312.2,1191.1 1312.3,1189.8 1312.3,1188.6 1312.4,1187.4 1312.5,1186.2 1312.6,1185.0 1312.7,1183.9 1312.8,1182.7 1312.9,1181.6 1313.0,1180.4 1313.1,1179.3 1313.2,1178.2 1313.3,1177.1 1313.4,1176.1 1313.5,1175.0 1313.6,1174.0 1313.7,1173.0 1313.8,1171.9 1313.9,1170.9 1314.0,1170.0 1314.1,1169.0 1314.3,1168.1 1314.4,1167.1 1314.5,1166.2 1314.6,1165.3 1314.8,1163.6 1315.0,1162.1 1315.2,1160.6 1315.4,1159.1 1315.6,1157.8 1315.8,1156.5 1316.0,1155.2 1316.2,1154.0 1316.4,1152.9 1316.6,1151.8 1316.8,1150.7 1317.0,1149.6 1317.3,1148.7 1317.6,1147.6 1317.9,1146.7 1318.2,1145.7 1318.5,1144.8 1318.9,1143.7 1319.3,1142.8 1319.7,1141.8 1320.2,1140.8 1320.7,1139.7 1321.3,1138.7 1321.8,1137.6 1322.4,1136.6 1323.0,1135.5 1323.6,1134.6 1324.3,1133.5 1324.9,1132.7 1325.6,1131.5 1326.3,1130.8 1327.1,1129.5 1327.9,1129.0 1328.7,1127.7 1329.5,1127.3 1330.4,1126.1 1331.3,1125.9 1332.2,1124.7 1333.2,1124.5 1334.2,1123.2 1335.3,1123.5 1336.2,1121.9 1337.2,1122.6 1338.2,1121.2 1339.2,1121.5 1340.3,1120.4 1341.4,1121.4 1342.6,1119.6 1343.7,1121.1 1344.9,1119.5 1346.1,1120.6 1347.3,1119.4 1348.6,1120.3 1349.8,1118.5 1351.1,1119.6 1352.3,1118.1 1353.6,1119.3 1354.9,1117.9 1356.1,1119.9 1357.4,1118.1 1358.6,1119.3 1359.9,1118.1 1361.1,1119.3 1362.3,1117.8 1363.5,1119.1 1364.7,1117.1 1365.8,1118.5 1367.0,1117.5 1368.2,1118.5 1369.4,1117.3 1370.5,1118.2 1371.7,1117.1 1372.9,1117.8 1374.1,1117.0 1375.2,1117.7 1376.4,1117.1 1377.6,1118.2 1378.8,1116.5 1379.9,1118.4 1381.1,1116.6 1382.3,1118.2 1383.5,1116.8 1384.6,1117.6 1385.8,1116.7 1387.0,1118.1 1388.2,1116.2 1389.3,1118.1 1390.5,1116.7 1391.7,1118.1 1392.9,1116.3 1394.1,1118.0 1395.3,1116.7 1396.5,1118.3 1397.8,1117.0 1399.0,1118.0 1400.3,1116.4 1401.5,1118.2 1402.8,1117.3 1404.1,1118.3 1405.3,1117.0 1406.6,1118.8 1407.8,1117.6 1409.0,1118.6 1410.2,1117.1 1411.4,1118.5 1412.6,1117.6 1413.7,1119.1 1414.8,1117.9 1415.9,1119.4 1417.0,1117.9 1418.0,1119.5 1419.0,1118.2 1420.0,1119.6 1421.5,1118.5 1422.9,1120.1 1424.3,1119.3 1425.6,1120.7 1426.9,1119.7 1428.1,1121.1 1429.2,1120.4 1430.4,1121.9 1431.4,1121.4 1432.5,1122.5 1433.4,1122.4 1434.4,1123.3 1435.3,1123.4 1436.1,1124.5 1436.9,1124.7 1437.8,1125.6 1438.5,1126.2 1439.2,1127.3 1439.8,1128.0 1440.4,1129.1 1440.9,1130.0 1441.3,1131.1 1441.7,1132.2 1442.1,1133.4 1442.4,1134.6 1442.8,1136.0 1443.1,1137.4 1443.5,1138.9 1443.7,1139.8 1443.9,1140.8 1444.1,1141.7 1444.2,1142.7 1444.4,1143.8 1444.5,1144.9 1444.7,1146.0 1444.8,1147.1 1444.9,1148.3 1445.0,1149.4 1445.1,1150.6 1445.2,1151.8 1445.3,1153.0 1445.4,1154.3 1445.5,1155.5 1445.6,1156.7 1445.7,1158.0 1445.8,1159.2 1445.9,1160.4 1446.0,1161.7 1446.1,1162.9 1446.2,1164.1 1446.3,1165.3 1446.4,1166.4 1446.5,1167.6 1446.6,1168.8 1446.7,1170.0 1446.7,1171.2 1446.8,1172.4 1446.9,1173.6 1447.0,1174.8 1447.0,1176.1 1447.1,1177.3 1447.2,1178.5 1447.2,1179.8 1447.3,1181.0 1447.4,1182.2 1447.5,1183.4 1447.5,1184.6 1447.6,1185.8 1447.7,1186.9 1447.8,1188.1 1447.8,1189.2 1447.9,1190.3 1448.0,1191.4 1448.1,1192.5 1448.2,1193.5 1448.3,1194.9 1448.5,1196.3 1448.6,1197.8 1448.7,1199.2 1448.8,1200.7 1449.0,1202.1 1449.1,1203.6 1449.2,1205.0 1449.4,1206.3 1449.5,1207.6 1449.7,1208.8 1449.8,1209.9 1450.0,1211.0 1450.2,1211.9 1450.4,1212.7 1450.6,1213.3 1450.8,1214.0 1451.0,1214.1 1451.4,1215.4 1451.9,1213.8 1452.4,1213.9 1452.9,1212.9 1453.5,1211.9 1454.0,1210.6 1454.6,1209.2 1455.1,1207.6 1455.7,1206.1 1456.2,1204.5 1456.7,1202.9 1457.0,1202.0 1457.2,1201.1 1457.4,1200.1 1457.7,1199.1 1457.9,1197.9 1458.1,1196.8 1458.3,1195.7 1458.6,1194.5 1458.8,1193.3 1459.0,1192.1 1459.2,1190.8 1459.4,1189.6 1459.7,1188.4 1459.9,1187.2 1460.1,1185.9 1460.3,1184.8 1460.6,1183.6 1460.8,1182.5 1461.0,1181.3 1461.3,1180.3 1461.6,1179.1 1461.9,1177.9 1462.2,1176.6 1462.5,1175.4 1462.9,1174.1 1463.2,1173.0 1463.5,1171.7 1463.8,1170.6 1464.2,1169.4 1464.5,1168.3 1464.9,1167.2 1465.2,1166.2 1465.6,1165.1 1465.9,1164.2 1466.3,1163.2 1466.6,1162.4 1467.0,1161.4 1467.7,1160.1 1468.5,1158.8 1469.2,1158.0 1470.0,1156.6 1470.8,1156.3 1471.6,1155.1 1472.4,1154.9 1473.1,1153.8 1473.8,1153.6 1474.9,1152.0 1476.0,1153.1 1477.0,1151.6 1477.9,1152.2 1478.9,1150.6 1479.3,1150.1 1479.8,1149.0 1480.2,1147.9 1480.6,1146.6 1481.0,1145.3 1481.4,1143.9 1481.8,1142.7 1482.2,1141.5 1482.6,1140.7 1483.0,1139.7 1483.4,1139.8 1484.2,1138.3 1484.9,1139.7 1485.7,1139.5 1486.5,1140.7 1487.2,1142.1 1487.9,1144.5 1488.1,1145.2 1488.3,1146.1 1488.4,1147.1 1488.6,1148.2 1488.7,1149.3 1488.9,1150.6 1489.1,1151.8 1489.2,1153.2 1489.4,1154.5 1489.5,1155.9 1489.7,1157.4 1489.8,1158.8 1490.0,1160.2 1490.2,1161.6 1490.3,1162.9 1490.5,1164.2 1490.6,1165.5 1490.8,1166.7 1491.0,1167.8 1491.1,1168.9 1491.3,1169.8 1491.5,1170.6 1491.7,1171.2 1492.6,1173.7 1493.6,1174.7 1494.7,1175.9 1495.8,1174.3 1496.8,1173.9 1497.2,1173.1 1497.6,1172.5 1498.0,1171.4 1498.5,1170.4 1498.9,1169.1 1499.3,1167.9 1499.7,1166.5 1500.1,1165.2 1500.5,1163.9 1501.0,1162.9 1501.4,1161.8 1501.9,1161.1 1502.7,1159.9 1503.4,1159.5 1504.2,1158.2 1505.0,1158.7 1506.0,1157.4 1507.0,1157.9 1508.3,1156.2 1509.1,1156.2 1509.9,1155.4 1510.9,1155.1 1511.9,1153.8 1512.9,1153.7 1513.9,1152.2 1515.0,1152.0 1516.1,1150.7 1517.1,1150.9 1518.2,1149.7 1519.2,1149.9 1520.2,1148.3 1521.1,1149.5 1522.2,1147.8 1523.2,1149.1 1524.2,1148.8 1525.2,1149.9 1526.1,1149.8 1527.1,1150.8 1528.0,1150.9 1529.1,1152.1 1530.1,1152.0 1531.3,1153.2 1532.3,1152.6 1533.3,1153.9 1534.4,1153.5 1535.6,1154.8 1536.8,1154.0 1537.9,1155.5 1539.1,1154.6 1540.3,1156.0 1541.4,1156.0 1542.5,1157.2 1543.5,1156.8 1544.5,1158.2 1545.3,1158.4 1546.2,1159.5 1546.9,1160.2 1547.6,1161.3 1548.2,1162.3 1548.7,1163.5 1549.2,1164.6 1549.7,1165.8 1550.2,1166.8 1550.6,1168.0 1551.1,1169.0 1551.7,1170.0 1552.3,1171.0 1553.0,1172.2 1553.6,1173.2 1554.2,1174.4 1554.8,1175.4 1555.5,1176.6 1556.1,1177.2 1556.7,1178.3 1557.4,1178.7 1558.1,1179.8 1559.1,1179.7 1560.3,1180.8 1561.4,1179.9 1562.6,1180.4 1563.7,1179.1 1564.7,1180.5 1565.7,1180.6 1566.3,1181.6 1566.8,1182.4 1567.2,1183.5 1567.7,1184.7 1568.1,1186.0 1568.5,1187.2 1569.0,1188.5 1569.4,1189.6 1569.8,1190.6 1570.3,1191.0 1570.8,1192.3 1571.6,1190.9 1572.5,1191.7 1573.5,1190.4 1574.4,1189.9 1575.3,1188.5 1576.3,1187.7 1577.2,1186.4 1578.0,1186.1 1578.8,1184.8 1579.5,1184.2 1580.3,1183.1 1581.1,1182.5 1581.9,1181.2 1582.7,1181.5 1583.6,1180.4 1584.5,1181.0 1585.5,1180.2 1586.5,1181.7 1587.5,1180.8 1588.5,1182.2 1589.5,1182.5 1590.5,1183.8 1591.3,1184.6 1591.8,1185.5 1592.2,1186.2 1592.6,1187.2 1593.0,1188.1 1593.4,1189.2 1593.8,1190.2 1594.1,1191.4 1594.5,1192.6 1594.8,1193.9 1595.2,1195.1 1595.6,1196.5 1596.0,1197.8 1596.4,1199.3 1596.7,1200.2 1597.0,1201.3 1597.3,1202.3 1597.6,1203.3 1597.9,1204.4 1598.2,1205.5 1598.5,1206.6 1598.8,1207.8 1599.1,1208.9 1599.5,1210.1 1599.8,1211.3 1600.1,1212.5 1600.4,1213.7 1600.8,1215.0 1601.1,1216.2 1601.4,1217.4 1601.7,1218.6 1602.1,1219.9 1602.4,1221.1 1602.7,1222.3 1603.0,1223.4 1603.3,1224.6 1603.6,1225.7 1603.9,1227.0 1604.1,1228.2 1604.4,1229.4 1604.7,1230.7 1605.0,1231.9 1605.3,1233.2 1605.6,1234.5 1605.9,1235.7 1606.2,1236.9 1606.5,1238.1 1606.8,1239.4 1607.1,1240.5 1607.4,1241.7 1607.6,1242.8 1607.9,1243.9 1608.2,1244.9 1608.5,1246.0 1608.8,1246.9 1609.1,1247.8 1609.6,1249.4 1610.2,1251.0 1610.7,1252.6 1611.2,1254.1 1611.8,1255.5 1612.3,1256.9 1612.8,1257.9 1613.4,1259.1 1613.9,1259.6 1614.4,1260.5 1615.0,1260.2 1615.5,1261.5 1615.9,1259.9 1616.4,1260.1 1616.8,1259.3 1617.2,1258.8 1617.7,1257.7 1618.1,1256.9 1618.6,1255.7 1619.0,1254.5 1619.4,1253.1 1619.9,1251.8 1620.3,1250.3 1620.7,1248.8 1621.1,1247.2 1621.5,1245.6 1621.9,1244.0 1622.1,1243.1 1622.3,1242.1 1622.5,1241.1 1622.7,1240.1 1622.9,1239.0 1623.1,1237.9 1623.3,1236.8 1623.5,1235.6 1623.7,1234.4 1623.9,1233.2 1624.1,1232.0 1624.3,1230.7 1624.4,1229.5 1624.6,1228.2 1624.8,1226.9 1625.0,1225.7 1625.2,1224.4 1625.3,1223.1 1625.5,1221.8 1625.7,1220.6 1625.9,1219.3 1626.1,1218.1 1626.3,1216.8 1626.4,1215.6 1626.6,1214.4 1626.8,1213.2 1627.0,1212.1 1627.2,1210.8 1627.4,1209.6 1627.6,1208.2 1627.8,1206.9 1628.0,1205.5 1628.2,1204.1 1628.4,1202.7 1628.6,1201.3 1628.8,1199.9 1629.0,1198.5 1629.2,1197.1 1629.4,1195.7 1629.7,1194.4 1629.9,1193.1 1630.1,1191.8 1630.3,1190.6 1630.5,1189.4 1630.7,1188.4 1630.9,1187.3 1631.1,1186.4 1631.3,1185.4 1631.5,1184.7 1631.7,1183.9 1631.9,1183.4 1632.1,1182.7 1632.8,1182.3 1633.4,1181.5 1634.1,1183.0 1634.7,1184.4 1635.5,1186.2 1636.3,1187.8 1637.2,1189.2 1638.0,1189.7 1638.8,1191.0 1639.7,1191.7 1640.7,1193.1 1641.7,1193.8 1642.6,1195.2 1643.6,1195.5 1644.5,1196.9 1645.3,1196.5 1646.1,1197.5 1646.8,1196.1 1647.3,1196.2 1647.9,1195.3 1648.4,1194.5 1648.8,1193.4 1649.2,1192.2 1649.7,1190.9 1650.2,1189.5 1650.7,1188.0 1651.2,1186.6 1651.5,1185.7 1651.9,1184.7 1652.2,1183.6 1652.6,1182.5 1652.9,1181.2 1653.3,1180.0 1653.7,1178.7 1654.0,1177.5 1654.4,1176.1 1654.8,1174.9 1655.2,1173.6 1655.6,1172.4 1656.0,1171.3 1656.4,1170.2 1656.8,1169.1 1657.2,1168.3 1657.6,1167.3 1658.4,1166.2 1659.2,1164.9 1659.9,1164.4 1660.7,1163.3 1661.5,1163.2 1662.4,1162.1 1663.3,1162.1 1664.3,1160.9 1665.3,1160.7 1666.1,1159.6 1667.0,1159.0 1667.9,1158.0 1668.8,1157.4 1669.8,1156.2 1670.7,1155.8 1671.7,1154.3 1672.7,1154.4 1673.8,1153.0 1674.8,1153.0 1675.8,1151.9 1676.8,1152.5 1677.8,1151.8 1678.9,1153.2 1680.0,1151.9 1681.1,1153.6 1682.2,1153.1 1683.3,1154.4 1684.4,1154.7 1685.5,1155.9 1686.6,1155.6 1687.6,1157.2 1688.6,1156.1 1689.5,1157.5 1690.8,1156.4 1692.0,1158.1 1693.0,1157.1 1694.1,1157.9 1695.1,1156.5 1696.2,1157.5 1697.3,1155.9 1698.5,1156.3 1699.4,1154.9 1700.3,1155.2 1701.2,1153.9 1702.2,1153.5 1703.1,1152.2 1704.1,1151.8 1705.1,1150.6 1706.1,1150.2 1707.1,1149.0 1708.0,1148.9 1709.0,1147.5 1709.9,1148.4 1711.1,1147.1 1712.3,1148.2 1713.5,1146.5 1714.7,1147.9 1715.9,1147.0 1717.0,1148.8 1718.1,1147.2 1719.2,1149.1 1720.2,1147.7 1721.4,1148.6 1722.6,1147.4 1723.7,1148.8 1724.7,1147.9 1725.7,1149.5 1726.7,1148.0 1727.7,1148.3 1728.5,1147.4 1729.1,1147.0 1729.6,1146.1 1730.2,1145.4 1730.8,1144.3 1731.6,1143.8 1732.7,1142.7 1734.0,1142.7 1734.8,1141.3 1735.7,1142.6 1736.6,1140.9 1737.6,1142.0 1738.6,1140.4 1739.7,1141.6 1740.8,1140.8 1742.0,1141.6 1743.2,1140.2 1744.4,1141.8 1745.6,1140.5 1746.9,1141.3 1748.1,1140.2 1749.4,1141.4 1750.7,1139.8 1751.9,1140.9 1753.0,1139.3 1754.1,1140.5 1755.3,1138.9 1756.5,1140.7 1757.8,1139.1 1759.1,1139.9 1760.4,1138.4 1761.7,1140.1 1763.0,1138.3 1764.3,1139.3 1765.5,1137.8 1766.8,1139.0 1767.9,1137.7 1769.1,1138.6 1770.1,1137.4 1771.1,1138.7 1772.1,1137.3 1772.9,1138.4 1773.6,1137.0 1775.5,1138.3 1776.3,1138.0 1776.6,1139.1 1776.8,1139.9 1777.4,1141.2 1777.9,1141.7 1778.3,1142.7 1778.8,1143.5 1779.3,1144.7 1779.8,1145.6 1780.3,1146.9 1780.9,1147.8 1781.5,1148.9 1782.2,1149.6 1783.0,1150.8 1783.8,1151.0 1784.8,1152.2 1785.8,1152.0 1787.0,1153.6 1788.3,1153.2 1789.6,1154.3 1790.9,1153.8 1792.2,1155.2 1793.5,1153.9 1794.7,1155.2 1795.7,1153.8 1796.6,1154.2 1797.3,1153.1 1797.9,1152.6 1798.4,1151.5 1798.8,1150.4 1799.1,1149.1 1799.5,1147.9 1799.8,1146.5 1800.1,1145.3 1800.4,1144.0 1800.8,1142.9 1801.2,1141.9 1801.7,1141.2 1802.5,1140.1 1803.4,1139.5 1804.3,1138.4 1805.3,1138.4 1806.2,1137.0 1807.2,1138.3 1808.3,1136.5 1809.3,1138.0 1810.3,1136.6 1811.4,1138.1 1812.5,1138.0 1813.6,1139.4 1814.8,1139.4 1815.9,1140.5 1817.1,1140.1 1818.3,1141.2 1819.3,1139.8 1820.3,1140.0 1821.3,1138.5 1822.4,1138.4 1823.4,1137.3 1824.5,1137.1 1825.5,1135.4 1826.5,1135.6 1827.5,1134.2 1828.5,1135.0 1829.5,1133.8 1830.5,1135.2 1831.5,1134.6 1832.4,1136.2 1833.3,1136.1 1834.3,1137.3 1835.3,1137.5 1836.3,1138.8 1837.4,1138.7 1838.3,1140.1 1839.2,1140.2 1840.2,1141.5 1841.3,1141.8 1842.3,1143.1 1843.4,1143.5 1844.4,1144.7 1845.4,1144.8 1846.4,1146.1 1847.3,1145.6 1848.2,1147.2 1848.9,1145.7 1849.6,1146.2 1850.2,1145.1 1850.8,1144.5 1851.2,1143.3 1851.7,1142.2 1852.0,1140.9 1852.4,1139.6 1852.8,1138.2 1853.2,1137.0 1853.6,1135.7 1854.0,1134.7 1854.5,1133.6 1854.9,1132.5 1855.2,1131.4 1855.6,1130.3 1856.0,1129.1 1856.4,1128.1 1856.9,1127.1 1857.5,1126.3 1858.2,1125.1 1859.1,1124.7 1859.9,1123.6 1860.7,1123.7 1861.5,1122.8 1862.4,1123.0 1863.3,1121.8 1864.4,1122.4 1865.4,1120.9 1866.5,1121.6 1867.7,1120.7 1869.0,1121.6 1870.3,1119.8 1871.7,1120.7 1873.2,1119.0 1874.1,1120.6 1875.1,1119.3 1876.1,1120.2 1877.2,1118.5 1878.3,1120.1 1879.4,1118.7 1880.6,1119.8 1881.7,1118.6 1882.9,1119.7 1884.2,1118.2 1885.4,1119.2 1886.6,1117.6 1887.9,1119.1 1889.1,1118.1 1890.4,1119.0 1891.6,1117.5 1892.8,1118.8 1894.1,1117.6 1895.3,1119.1 1896.4,1117.2 1897.6,1118.7 1898.7,1117.3 1899.9,1118.9 1901.2,1117.8 1902.4,1118.5 1903.7,1117.2 1905.0,1118.9 1906.3,1117.4 1907.5,1119.0 1908.8,1117.7 1910.1,1119.6 1911.3,1117.9 1912.5,1119.3 1913.7,1118.6 1914.9,1119.7 1916.0,1118.7 1917.1,1119.5 1918.1,1118.6 1919.1,1119.9 1920.0,1119.1 1920.9,1120.3 1921.7,1119.3 1923.2,1121.1 1924.0,1120.9 1924.3,1121.8 1924.5,1122.3 1924.8,1123.3 1925.6,1123.1 1927.0,1124.9 1929.3,1123.5 1930.0,1125.6 1930.9,1124.2 1931.8,1125.0 1932.8,1124.5 1933.8,1125.5 1935.0,1124.3 1936.1,1125.7 1937.4,1124.0 1938.7,1125.2 1940.0,1123.9 1941.3,1125.6 1942.7,1124.2 1944.1,1125.7 1945.5,1124.5 1947.0,1125.7 1948.4,1124.6 1949.8,1125.3 1951.3,1124.1 1952.7,1125.1 1954.1,1123.9 1955.5,1125.3 1956.8,1124.0 1958.1,1125.1 1959.4,1124.2 1960.6,1125.2 1961.8,1124.2 1962.9,1125.4 1963.9,1123.8 1964.9,1125.5 1965.8,1124.0 1966.6,1125.1 1967.4,1124.2 1968.0,1124.9" stroke="#4e4e4e"/>
<path d="M143.0,803.6 143.6,805.7 144.3,803.4 145.1,805.0 145.9,803.2 146.8,805.5 147.8,803.3 148.8,805.5 149.8,803.7 150.9,805.3 152.0,803.1 153.2,805.5 154.4,803.2 155.7,806.2 157.0,803.0 158.3,806.5 159.6,804.0 160.9,805.5 162.3,803.3 163.6,806.1 165.0,804.2 166.4,806.3 167.8,803.2 169.1,806.6 170.5,804.2 171.8,805.8 173.2,804.6 174.5,806.8 175.8,804.2 177.1,806.4 178.3,803.7 179.5,806.2 180.7,803.7 181.9,806.4 183.1,803.5 184.4,805.5 185.7,804.1 187.0,805.7 188.3,802.7 189.6,805.0 190.9,802.9 192.2,805.6 193.6,803.6 194.9,804.8 196.2,802.6 197.5,804.9 198.9,802.8 200.2,804.8 201.5,803.1 202.7,805.0 204.0,802.2 205.2,804.6 206.4,802.5 207.6,804.9 208.8,801.6 209.9,804.4 211.0,802.6 212.0,803.7 213.0,802.4 214.0,803.5 214.9,801.6 215.8,804.2 216.6,802.3 218.7,804.8 220.5,801.9 221.9,804.8 223.2,802.0 224.2,805.0 225.1,803.1 225.8,805.7 226.6,804.2 227.4,806.0 228.3,803.9 229.3,806.4 230.4,804.6 231.5,806.7 232.6,806.0 233.7,807.7 234.8,807.0 235.9,809.1 236.9,808.1 238.0,809.6 239.0,807.8 239.9,810.2 240.8,808.9 242.0,811.0 242.9,808.2 243.8,808.7 244.6,807.3 245.6,807.6 246.8,806.2 248.5,807.5 249.4,804.8 250.4,806.9 251.5,804.7 252.6,806.9 253.8,804.6 255.1,806.1 256.4,803.9 257.7,806.9 259.1,804.3 260.4,806.2 261.7,803.9 263.0,806.2 264.2,804.1 265.4,806.7 266.6,803.2 267.6,805.5 269.0,804.2 270.4,806.3 271.7,802.8 273.0,806.0 274.2,803.6 275.4,804.8 276.5,802.6 277.5,806.0 278.5,802.7 279.5,805.7 280.4,802.6 281.8,805.5 283.0,803.8 284.0,806.1 284.9,805.9 285.8,807.8 286.8,805.8 287.8,808.7 288.7,806.5 289.6,807.8 290.6,805.6 291.8,807.3 293.2,806.1 294.1,808.4 295.1,805.7 296.2,808.9 297.4,806.8 298.5,808.9 299.8,807.2 301.0,809.8 302.3,807.3 303.5,809.5 304.7,808.2 305.9,811.2 307.0,810.1 308.1,811.4 309.2,810.8 310.3,812.2 311.4,811.9 312.5,813.1 313.5,812.5 314.6,814.5 315.7,814.2 316.7,815.9 317.7,815.0 318.7,816.7 319.6,816.5 320.5,818.3 321.3,818.2 322.1,819.5 322.9,819.8 323.6,821.4 324.4,821.4 325.2,823.1 326.1,823.3 326.9,824.9 327.9,825.0 328.9,826.3 329.7,826.2 330.6,827.8 331.5,827.4 332.4,829.3 333.4,828.6 334.4,830.6 335.4,829.9 336.4,831.7 337.4,831.7 338.4,833.2 339.4,832.3 340.4,834.1 341.4,833.5 342.4,835.2 343.3,835.2 344.2,836.9 345.3,836.2 346.3,838.1 347.3,837.8 348.3,839.2 349.3,839.1 350.3,840.7 351.2,840.4 352.2,841.4 353.2,840.9 354.1,842.8 355.1,842.5 356.0,843.8 357.0,842.8 358.1,845.0 359.1,844.4 360.2,845.8 361.2,845.2 362.3,846.9 363.3,846.4 364.4,847.7 365.5,847.0 366.5,849.4 367.6,848.0 368.6,850.1 369.7,849.0 370.8,851.4 371.8,849.8 372.9,852.1 374.0,850.8 375.0,852.5 376.1,850.4 377.2,853.1 378.2,851.8 379.3,853.2 380.4,851.3 381.4,854.8 382.5,852.7 383.7,854.5 384.8,852.4 385.9,855.6 387.1,853.9 388.2,855.6 389.4,853.9 390.5,855.2 391.7,853.4 392.9,856.0 394.1,854.3 395.3,856.5 396.3,854.1 397.4,855.8 398.4,854.2 399.4,855.7 400.4,853.4 401.4,855.8 402.5,853.1 403.5,856.2 404.7,853.5 405.9,856.2 407.2,853.5 408.5,854.5 410.0,852.6 410.9,854.0 411.9,851.8 412.8,854.8 413.9,852.1 414.9,853.1 416.0,850.8 417.1,852.7 418.2,850.2 419.3,852.4 420.5,849.7 421.6,852.2 422.8,850.0 424.0,850.8 425.2,848.9 426.4,849.9 427.5,847.6 428.7,849.2 429.9,847.7 431.1,848.4 432.2,847.1 433.4,848.4 434.5,846.3 435.6,847.4 436.7,845.6 437.9,846.9 439.0,844.1 440.1,846.2 441.2,844.1 442.3,845.1 443.4,842.6 444.6,843.9 445.7,841.8 446.8,843.0 447.9,841.1 449.0,842.7 450.2,840.0 451.3,841.3 452.4,839.7 453.5,841.1 454.6,838.9 455.7,839.7 456.9,837.8 458.0,838.8 459.1,836.8 460.2,837.7 461.3,836.1 462.4,837.4 463.6,834.8 464.7,836.4 465.8,834.6 466.9,835.3 468.0,833.8 469.1,834.3 470.2,832.8 471.4,833.7 472.5,831.3 473.6,833.2 474.7,830.4 475.8,832.1 476.9,830.4 478.0,831.3 479.1,829.0 480.3,831.0 481.4,828.7 482.5,829.9 483.6,827.0 484.7,828.7 485.8,826.7 487.0,827.6 488.1,825.8 489.2,826.8 490.3,824.9 491.4,826.9 492.5,824.1 493.7,826.2 494.8,824.2 495.9,825.5 497.0,822.7 498.1,824.9 499.3,821.8 500.4,823.7 501.5,821.1 502.6,822.7 503.7,820.3 504.8,822.6 506.0,819.8 507.1,821.8 508.2,819.5 509.4,820.8 510.5,818.5 511.7,820.6 512.9,818.7 514.0,820.3 515.2,817.6 516.4,819.3 517.5,816.8 518.7,818.8 519.9,816.4 521.0,818.4 522.2,816.3 523.4,817.7 524.5,815.5 525.7,817.0 526.9,815.6 528.0,816.7 529.2,814.3 530.4,816.0 531.5,813.8 532.7,815.7 533.9,813.0 535.0,814.9 536.2,812.7 537.4,815.3 538.6,812.2 539.7,814.6 540.9,812.4 542.1,814.5 543.2,812.0 544.4,813.7 545.6,811.2 546.8,812.3 547.9,810.7 549.1,812.2 550.3,809.8 551.4,811.6 552.6,809.3 553.8,811.0 555.0,809.9 556.1,811.4 557.3,808.3 558.5,811.1 559.7,809.1 560.8,811.2 562.0,808.0 563.2,809.6 564.4,808.5 565.6,809.9 566.8,807.6 568.0,809.9 569.2,806.9 570.4,809.7 571.6,806.5 572.8,809.2 574.0,807.2 575.1,809.4 576.3,806.2 577.4,808.8 578.5,807.3 579.6,808.6 580.7,806.9 581.8,809.2 583.1,806.5 584.4,808.4 585.8,806.0 587.1,807.7 588.4,806.7 589.7,808.3 591.0,806.4 592.2,807.6 593.4,805.6 594.7,808.6 595.8,805.8 597.0,807.6 598.1,805.4 599.1,808.9 600.1,806.5 601.1,808.4 602.0,806.5 603.5,807.5 604.8,805.9 605.8,808.4 606.8,805.5 607.6,807.6 608.5,804.6 609.4,807.3 610.4,805.8 611.6,807.2 612.5,806.4 613.5,808.4 614.5,806.3 615.6,809.4 616.7,807.8 617.8,809.8 619.0,808.8 620.1,810.6 621.2,810.2 622.2,811.9 623.3,811.1 624.3,813.0 625.2,812.9 625.9,814.3 626.6,814.4 627.3,815.7 627.9,816.1 628.6,817.3 629.2,817.9 629.8,819.1 630.4,819.8 631.0,820.9 631.6,821.8 632.1,823.0 632.7,824.0 633.3,825.2 633.8,826.2 634.4,827.6 634.9,828.7 635.3,829.8 635.7,830.7 636.1,831.7 636.4,832.6 636.8,833.7 637.2,834.7 637.5,835.9 637.9,836.9 638.2,838.1 638.6,839.1 638.9,840.3 639.3,841.5 639.6,842.7 640.0,843.8 640.3,845.1 640.6,846.3 641.0,847.6 641.3,848.8 641.6,850.1 641.9,851.4 642.3,852.7 642.6,854.0 642.9,855.1 643.1,856.1 643.4,857.2 643.6,858.2 643.9,859.4 644.2,860.4 644.4,861.6 644.7,862.7 645.0,863.8 645.2,864.9 645.5,866.1 645.7,867.2 646.0,868.4 646.2,869.6 646.5,870.8 646.7,872.0 647.0,873.2 647.2,874.4 647.5,875.6 647.7,876.8 647.9,878.1 648.2,879.3 648.4,880.6 648.6,881.8 648.8,883.1 649.0,884.3 649.2,885.6 649.4,886.9 649.6,888.0 649.7,889.1 649.9,890.2 650.0,891.3 650.1,892.5 650.3,893.6 650.4,894.7 650.5,895.9 650.7,897.1 650.8,898.2 650.9,899.4 651.0,900.6 651.1,901.8 651.3,902.9 651.4,904.1 651.5,905.3 651.6,906.5 651.7,907.7 651.8,908.9 651.9,910.1 652.0,911.4 652.1,912.6 652.2,913.8 652.3,915.0 652.4,916.2 652.5,917.4 652.6,918.6 652.7,919.8 652.8,921.0 653.0,922.1 653.1,923.3 653.2,924.5 653.3,925.7 653.4,926.9 653.5,928.1 653.7,929.2 653.8,930.5 653.9,931.6 654.0,932.9 654.1,934.0 654.2,935.3 654.3,936.5 654.5,937.7 654.6,938.9 654.7,940.1 654.8,941.3 654.9,942.5 655.0,943.7 655.1,944.9 655.3,946.1 655.4,947.3 655.5,948.5 655.6,949.7 655.7,950.9 655.8,952.1 656.0,953.2 656.1,954.4 656.2,955.6 656.3,956.7 656.4,957.8 656.6,959.0 656.7,960.1 656.8,961.2 656.9,962.3 657.1,963.3 657.2,964.4 657.4,965.7 657.5,967.0 657.7,968.3 657.9,969.5 658.0,970.8 658.2,972.0 658.4,973.3 658.6,974.5 658.8,975.7 659.0,976.9 659.1,978.2 659.3,979.3 659.5,980.5 659.7,981.7 659.9,982.9 660.1,984.0 660.2,985.1 660.4,986.2 660.6,987.3 660.8,988.4 661.0,989.4 661.2,990.5 661.3,991.5 661.5,992.5 661.7,993.5 661.8,994.4 662.0,995.4 662.3,996.8 662.5,998.1 662.7,999.3 663.0,1000.4 663.2,1001.4 663.4,1002.4 663.7,1003.3 663.9,1004.3 664.1,1005.2 664.3,1006.2 664.6,1007.1 664.8,1008.2 665.0,1009.3 665.2,1010.5 665.4,1011.8 665.7,1013.2 665.9,1014.8 666.0,1015.7 666.2,1016.7 666.3,1017.7 666.4,1018.7 666.5,1019.7 666.7,1020.8 666.8,1021.9 666.9,1023.0 667.0,1024.2 667.2,1025.3 667.3,1026.5 667.4,1027.7 667.5,1028.9 667.7,1030.1 667.8,1031.4 667.9,1032.6 668.0,1033.9 668.2,1035.1 668.3,1036.4 668.4,1037.7 668.5,1039.0 668.7,1040.2 668.8,1041.5 668.9,1042.8 669.1,1044.1 669.2,1045.4 669.3,1046.6 669.4,1047.9 669.6,1049.1 669.7,1050.4 669.8,1051.6 669.9,1052.7 670.0,1053.9 670.2,1055.1 670.3,1056.3 670.4,1057.5 670.5,1058.7 670.6,1059.9 670.8,1061.1 670.9,1062.3 671.0,1063.6 671.1,1064.8 671.3,1066.0 671.4,1067.2 671.5,1068.5 671.6,1069.7 671.8,1070.9 671.9,1072.2 672.0,1073.4 672.1,1074.6 672.2,1075.8 672.4,1077.0 672.5,1078.2 672.6,1079.4 672.7,1080.5 672.8,1081.7 672.9,1082.8 673.0,1084.0 673.1,1085.1 673.2,1086.2 673.3,1087.3 673.4,1088.3 673.5,1089.4 673.6,1090.4 673.7,1091.8 673.8,1093.3 673.9,1094.8 674.0,1096.4 674.1,1097.9 674.2,1099.5 674.3,1101.1 674.4,1102.6 674.4,1104.2 674.5,1105.7 674.6,1107.2 674.7,1108.6 674.7,1110.0 674.8,1111.3 674.9,1112.6 674.9,1113.7 675.0,1114.7 675.1,1115.7 675.2,1116.5 675.2,1117.2 675.3,1117.8 675.4,1118.1 675.5,1118.6 675.6,1116.9 675.7,1118.5 675.8,1118.2 675.9,1117.8 676.0,1117.3 676.1,1116.7 676.3,1115.9 676.4,1115.0 676.5,1114.0 676.6,1113.0 676.7,1111.8 676.9,1110.6 677.0,1109.2 677.1,1107.8 677.2,1106.4 677.4,1104.9 677.5,1103.3 677.6,1101.8 677.8,1100.2 677.9,1098.5 678.0,1096.9 678.1,1095.3 678.3,1093.6 678.4,1092.0 678.5,1090.4 678.6,1089.5 678.6,1088.5 678.7,1087.5 678.8,1086.5 678.8,1085.5 678.9,1084.4 679.0,1083.3 679.1,1082.2 679.1,1081.1 679.2,1080.0 679.3,1078.9 679.3,1077.7 679.4,1076.6 679.5,1075.4 679.5,1074.2 679.6,1073.0 679.7,1071.8 679.7,1070.6 679.8,1069.3 679.9,1068.1 679.9,1066.9 680.0,1065.6 680.1,1064.4 680.1,1063.1 680.2,1061.8 680.3,1060.6 680.3,1059.3 680.4,1058.0 680.5,1056.8 680.6,1055.5 680.6,1054.3 680.7,1053.0 680.8,1051.8 680.8,1050.5 680.9,1049.3 681.0,1048.0 681.1,1046.8 681.2,1045.6 681.2,1044.4 681.3,1043.2 681.4,1042.0 681.5,1040.8 681.6,1039.6 681.6,1038.5 681.7,1037.3 681.8,1036.1 681.9,1034.9 682.0,1033.7 682.1,1032.5 682.2,1031.4 682.2,1030.2 682.3,1029.0 682.4,1027.8 682.5,1026.6 682.6,1025.4 682.7,1024.3 682.8,1023.1 682.9,1021.9 682.9,1020.7 683.0,1019.5 683.1,1018.3 683.2,1017.2 683.3,1016.0 683.4,1014.8 683.5,1013.6 683.6,1012.4 683.7,1011.3 683.8,1010.1 683.9,1008.9 684.0,1007.7 684.1,1006.5 684.2,1005.3 684.3,1004.2 684.4,1003.0 684.5,1001.8 684.6,1000.6 684.7,999.4 684.8,998.2 685.0,997.1 685.1,995.9 685.2,994.7 685.3,993.5 685.4,992.3 685.5,991.1 685.7,989.9 685.8,988.7 685.9,987.5 686.0,986.3 686.2,985.1 686.3,983.9 686.4,982.7 686.5,981.4 686.7,980.2 686.8,979.0 686.9,977.8 687.1,976.6 687.2,975.3 687.3,974.1 687.5,972.9 687.6,971.7 687.8,970.5 687.9,969.2 688.0,968.0 688.2,966.8 688.3,965.6 688.5,964.4 688.6,963.2 688.8,962.0 688.9,960.8 689.1,959.6 689.2,958.5 689.4,957.3 689.5,956.1 689.7,955.0 689.8,953.8 690.0,952.7 690.1,951.6 690.3,950.4 690.5,949.3 690.6,948.2 690.8,947.2 690.9,946.1 691.1,945.0 691.3,943.7 691.5,942.3 691.7,940.9 692.0,939.5 692.2,938.1 692.4,936.6 692.6,935.1 692.9,933.7 693.1,932.2 693.3,930.8 693.6,929.3 693.8,927.9 694.0,926.4 694.3,925.0 694.5,923.6 694.8,922.2 695.0,920.8 695.3,919.5 695.5,918.3 695.7,917.0 696.0,915.8 696.2,914.7 696.5,913.6 696.7,912.6 697.0,911.6 697.2,910.7 697.4,909.8 697.7,909.1 697.9,908.4 698.1,907.9 698.4,907.2 698.6,907.0 698.8,906.0 699.2,907.0 699.6,905.0 700.1,906.7 700.5,906.6 700.9,907.6 701.3,908.4 701.7,909.6 702.1,910.8 702.5,912.3 702.9,913.8 703.3,915.5 703.7,917.1 704.1,918.9 704.5,920.6 704.9,922.4 705.2,924.0 705.6,925.7 705.8,926.6 706.0,927.5 706.2,928.5 706.4,929.4 706.7,930.4 706.9,931.4 707.1,932.4 707.3,933.4 707.5,934.4 707.7,935.5 707.9,936.5 708.1,937.6 708.3,938.7 708.5,939.9 708.7,941.0 708.9,942.2 709.1,943.3 709.3,944.5 709.5,945.7 709.7,947.0 709.9,948.2 710.1,949.5 710.3,950.8 710.4,952.1 710.6,953.5 710.8,954.8 710.9,956.2 711.1,957.6 711.3,959.0 711.4,960.5 711.5,961.5 711.6,962.6 711.7,963.7 711.8,964.8 711.8,966.0 711.9,967.3 712.0,968.6 712.1,969.9 712.2,971.3 712.2,972.6 712.3,974.1 712.4,975.5 712.4,976.9 712.5,978.4 712.6,979.9 712.6,981.4 712.7,982.9 712.8,984.4 712.8,985.9 712.9,987.3 712.9,988.8 713.0,990.3 713.1,991.8 713.1,993.2 713.2,994.6 713.2,996.0 713.3,997.4 713.3,998.7 713.4,1000.0 713.4,1001.3 713.5,1002.5 713.5,1003.7 713.6,1004.8 713.7,1005.9 713.7,1006.9 713.8,1007.9 713.8,1008.8 713.9,1009.7 713.9,1010.4 714.0,1011.1 714.1,1011.8 714.1,1012.3 714.2,1012.8 714.2,1013.2 714.3,1013.5 714.4,1014.0 714.5,1013.3 714.6,1014.1 714.8,1013.7 714.9,1013.3 715.0,1012.7 715.1,1012.0 715.2,1011.1 715.3,1010.1 715.5,1008.9 715.6,1007.7 715.7,1006.3 715.8,1004.9 715.9,1003.3 716.0,1001.7 716.1,1000.0 716.3,998.3 716.4,996.5 716.5,994.7 716.6,992.9 716.7,991.0 716.8,989.2 717.0,987.4 717.1,985.6 717.2,983.8 717.3,982.9 717.3,982.0 717.4,981.0 717.4,980.0 717.5,979.0 717.6,978.0 717.6,976.9 717.7,975.8 717.7,974.7 717.8,973.6 717.9,972.5 717.9,971.3 718.0,970.2 718.1,969.0 718.1,967.8 718.2,966.6 718.2,965.4 718.3,964.1 718.4,962.9 718.4,961.6 718.5,960.4 718.6,959.1 718.6,957.8 718.7,956.6 718.7,955.3 718.8,954.0 718.9,952.7 718.9,951.4 719.0,950.1 719.0,948.8 719.1,947.5 719.2,946.3 719.2,945.0 719.3,943.7 719.4,942.4 719.4,941.2 719.5,939.9 719.5,938.7 719.6,937.4 719.7,936.2 719.7,935.0 719.8,933.7 719.8,932.5 719.9,931.4 720.0,930.2 720.0,929.0 720.1,927.9 720.1,926.8 720.2,925.7 720.3,924.4 720.3,923.1 720.4,921.8 720.5,920.5 720.5,919.2 720.6,918.0 720.7,916.7 720.7,915.4 720.8,914.2 720.8,912.9 720.9,911.6 721.0,910.4 721.0,909.1 721.1,907.9 721.1,906.7 721.2,905.4 721.3,904.2 721.3,903.0 721.4,901.8 721.5,900.6 721.5,899.4 721.6,898.2 721.6,897.0 721.7,895.9 721.8,894.7 721.8,893.5 721.9,892.4 722.0,891.2 722.0,890.1 722.1,889.0 722.2,887.9 722.2,886.8 722.3,885.7 722.4,884.6 722.5,883.5 722.6,882.4 722.6,881.4 722.7,880.3 722.8,879.3 722.9,878.2 723.0,877.2 723.1,875.8 723.3,874.5 723.4,873.1 723.5,871.8 723.6,870.5 723.7,869.2 723.9,867.9 724.0,866.6 724.1,865.4 724.2,864.1 724.4,862.9 724.5,861.7 724.6,860.5 724.8,859.3 724.9,858.2 725.0,857.0 725.2,855.9 725.4,854.8 725.5,853.6 725.7,852.6 725.9,851.5 726.1,850.4 726.3,849.3 726.5,848.3 726.7,847.3 726.9,846.3 727.1,845.2 727.4,844.3 727.6,843.3 727.9,842.3 728.3,841.0 728.7,839.8 729.1,838.4 729.5,837.2 730.0,835.9 730.5,834.8 731.0,833.5 731.5,832.5 732.0,831.2 732.5,830.3 733.0,828.9 733.6,828.1 734.1,826.9 734.7,826.1 735.3,824.9 735.9,824.2 736.5,823.1 737.1,822.5 737.7,821.4 738.3,820.8 738.9,819.7 739.5,819.5 740.4,817.7 741.3,817.6 742.3,816.0 743.3,816.3 744.2,814.4 745.2,814.9 746.2,812.7 747.3,813.8 748.3,812.3 749.4,813.4 750.5,810.9 751.6,812.7 752.7,810.1 753.8,811.6 755.0,809.2 756.0,811.1 756.9,808.8 757.8,809.8 758.7,808.3 759.5,809.9 760.3,807.3 761.2,808.9 762.1,806.6 763.0,809.7 764.1,807.0 765.1,808.5 766.3,806.6 767.7,808.4 769.1,806.8 770.7,808.4 772.5,806.3 774.4,808.6 775.3,806.4 776.2,808.3 777.1,806.9 778.1,808.0 779.2,806.6 780.3,808.5 781.4,805.5 782.6,807.9 783.8,806.4 785.0,808.3 786.3,806.4 787.6,807.9 788.9,806.1 790.2,808.9 791.6,806.8 792.9,808.7 794.3,807.0 795.7,808.5 797.1,806.5 798.5,808.3 799.9,806.6 801.3,808.3 802.7,805.9 804.1,809.0 805.4,806.4 806.8,809.2 808.1,806.9 809.4,808.8 810.7,807.4 812.0,808.7 813.2,805.9 814.5,808.7 815.6,806.3 816.8,808.5 817.9,806.1 818.9,809.3 819.9,806.7 820.9,808.9 821.8,806.4 822.7,809.4 823.5,806.1 824.2,808.7 826.8,806.5 828.3,808.5 828.9,806.4 829.0,806.8 829.0,806.2 829.1,806.4 829.8,804.9 831.3,806.2 834.0,803.2 834.7,805.1 835.5,803.7 836.3,805.7 837.1,802.3 838.0,805.3 838.9,803.3 839.8,805.1 840.8,801.9 841.8,804.1 842.8,801.5 843.9,803.5 845.0,801.2 846.1,803.3 847.2,801.6 848.4,803.6 849.5,800.6 850.7,803.5 851.9,800.3 853.2,802.3 854.4,800.5 855.7,802.8 857.0,800.9 858.2,802.3 859.5,800.3 860.8,802.0 862.2,799.3 863.5,802.1 864.8,799.1 866.1,801.0 867.5,799.3 868.8,801.7 870.1,799.6 871.4,800.5 872.8,799.3 874.1,801.0 875.4,798.3 876.7,800.1 878.0,798.4 879.3,799.7 880.5,798.3 881.8,799.8 883.1,797.7 884.3,800.4 885.5,797.4 886.7,799.4 887.8,796.7 889.0,799.3 890.2,797.6 891.5,798.8 892.7,797.5 893.9,799.1 895.2,797.4 896.4,798.4 897.7,797.5 899.0,799.4 900.3,796.1 901.5,798.7 902.8,796.5 904.1,799.1 905.4,796.9 906.7,799.6 908.0,797.1 909.3,798.1 910.6,796.7 911.9,799.1 913.2,796.1 914.4,799.1 915.7,796.6 917.0,798.7 918.2,796.5 919.5,799.4 920.7,796.0 921.9,798.7 923.1,795.8 924.3,798.8 925.5,796.2 926.7,798.4 927.8,796.7 929.0,798.5 930.1,795.8 931.2,799.2 932.3,796.9 933.3,798.6 934.3,796.9 935.4,799.3 936.3,796.8 937.3,798.6 938.2,795.5 939.1,798.6 940.0,795.5 941.8,797.8 943.6,795.3 945.2,799.0 946.8,796.4 948.3,798.3 949.7,795.0 951.1,798.5 952.3,795.7 953.5,798.3 954.7,795.2 955.8,797.3 956.8,795.6 957.8,798.0 958.8,794.6 959.7,797.2 960.6,794.8 961.4,797.8 962.2,795.3 963.1,797.7 963.8,794.8 964.6,798.0 966.5,795.3 967.9,797.4 968.9,796.3 969.6,797.7 970.3,797.5 971.0,799.1 972.0,799.7 972.5,800.8 973.1,801.4 973.6,802.7 974.2,803.6 974.8,805.0 975.4,806.1 976.0,807.6 976.6,808.7 977.2,810.2 977.8,811.3 978.3,812.5 978.9,813.4 979.5,814.7 980.0,814.9 980.5,816.4 981.0,815.8 981.8,816.8 982.4,815.5 983.0,815.1 983.6,813.6 984.2,812.4 984.8,810.9 985.5,809.9 986.3,808.5 987.2,809.5 988.0,807.8 988.9,809.4 989.8,808.4 990.8,810.7 991.9,810.3 993.0,812.1 994.1,811.8 995.2,813.5 996.3,813.2 997.4,815.5 998.5,812.5 999.5,815.9 1000.3,812.9 1001.1,813.7 1001.9,812.7 1002.7,812.5 1003.5,810.9 1004.3,810.6 1005.1,809.3 1005.9,808.5 1006.7,807.1 1007.5,806.7 1008.4,805.1 1009.2,804.8 1010.1,803.5 1010.9,803.7 1011.8,801.8 1012.9,802.3 1013.9,800.8 1015.1,801.6 1016.2,799.8 1017.4,801.6 1018.5,799.9 1019.7,801.7 1020.9,799.2 1022.0,800.6 1023.1,799.0 1024.2,800.6 1025.2,798.5 1026.2,799.1 1027.1,797.2 1028.0,797.3 1028.9,795.9 1029.7,795.9 1030.6,794.3 1031.4,794.4 1032.1,793.0 1032.9,792.5 1033.6,791.2 1034.3,790.8 1035.0,789.1 1035.7,789.0 1036.4,787.6 1037.2,787.2 1037.8,785.6 1038.5,784.6 1039.1,783.2 1039.6,782.2 1040.2,780.6 1040.8,780.0 1041.4,778.5 1042.1,778.7 1042.8,776.6 1043.6,779.9 1044.4,776.5 1045.2,778.6 1046.1,777.3 1047.0,779.3 1048.0,779.4 1048.9,781.4 1049.9,781.3 1050.9,783.3 1051.9,783.0 1052.9,785.2 1053.9,784.4 1054.9,787.1 1056.0,785.4 1057.1,787.9 1058.3,785.1 1059.5,788.2 1060.7,786.7 1061.8,788.6 1063.0,785.2 1064.1,788.9 1065.2,787.0 1066.2,789.0 1067.2,787.1 1068.3,789.4 1069.4,786.7 1070.4,787.5 1071.3,785.8 1072.2,786.2 1073.1,784.3 1073.9,784.3 1074.7,782.7 1075.4,782.2 1076.0,780.7 1076.5,780.1 1077.0,778.8 1077.4,777.8 1077.8,776.4 1078.2,775.3 1078.6,774.0 1079.0,773.0 1079.3,771.8 1079.7,770.9 1080.0,769.9 1080.7,768.5 1081.2,766.8 1081.7,766.3 1082.2,764.5 1082.6,767.2 1082.8,765.7 1083.1,766.5 1083.3,767.2 1083.5,768.3 1083.7,769.3 1083.9,770.6 1084.1,772.0 1084.3,773.5 1084.5,775.0 1084.6,775.9 1084.7,777.0 1084.9,778.3 1085.0,779.7 1085.1,781.1 1085.3,782.6 1085.4,784.1 1085.5,785.6 1085.6,787.1 1085.8,788.5 1085.9,789.9 1086.0,791.1 1086.2,792.1 1086.3,793.0 1086.4,793.7 1086.6,793.9 1086.7,795.7 1086.8,793.9 1087.0,793.7 1087.1,792.9 1087.2,792.1 1087.4,791.0 1087.5,789.8 1087.6,788.4 1087.7,787.0 1087.9,785.5 1088.0,784.0 1088.1,782.5 1088.3,781.0 1088.4,779.5 1088.6,778.2 1088.7,776.9 1088.9,775.9 1089.0,775.0 1089.4,773.2 1089.7,771.5 1090.1,770.2 1090.5,769.0 1090.9,768.5 1091.3,767.1 1091.8,770.2 1092.2,767.4 1092.7,768.7 1093.2,769.4 1093.7,770.7 1094.2,771.8 1094.8,773.2 1095.4,773.9 1096.0,775.2 1096.9,774.2 1097.7,777.0 1098.7,774.6 1099.7,777.9 1100.8,775.8 1102.1,778.1 1102.6,778.0 1103.1,779.5 1103.6,780.1 1104.2,781.3 1104.7,782.2 1105.3,783.7 1105.9,784.6 1106.5,786.1 1107.1,786.9 1107.7,788.5 1108.4,789.4 1109.0,790.9 1109.7,791.4 1110.3,792.9 1111.0,792.8 1111.6,794.2 1112.3,793.1 1113.2,795.5 1114.2,792.7 1115.2,795.3 1116.1,792.9 1117.1,793.0 1118.1,791.2 1119.1,791.6 1120.2,789.2 1121.3,790.5 1122.4,787.8 1123.5,789.7 1124.7,786.4 1125.7,790.0 1126.7,786.6 1127.7,789.5 1128.7,787.2 1129.7,790.8 1130.8,788.5 1131.8,791.8 1132.9,789.8 1134.1,791.8 1135.2,791.0 1136.3,793.9 1137.5,790.4 1138.7,795.0 1139.9,790.0 1141.1,794.4 1142.0,789.9 1142.9,791.9 1143.9,789.4 1144.8,790.6 1145.8,788.5 1146.8,789.2 1147.9,787.6 1148.9,788.2 1149.9,785.5 1151.0,786.0 1152.0,783.7 1153.0,784.6 1154.1,781.9 1155.1,782.5 1156.1,780.3 1157.1,781.3 1158.0,779.3 1159.0,779.9 1159.9,777.2 1160.8,779.0 1161.6,777.1 1162.9,779.0 1164.2,775.2 1165.4,779.9 1166.6,776.4 1167.8,779.5 1168.9,777.1 1170.0,779.8 1171.0,778.8 1172.1,781.5 1173.1,779.9 1174.1,782.8 1175.0,779.9 1176.0,784.4 1177.3,780.2 1178.4,783.7 1179.3,780.6 1180.3,782.1 1181.2,779.1 1182.2,782.3 1183.3,777.3 1184.6,781.7 1186.2,778.5 1187.0,782.7 1188.0,779.3 1189.0,781.3 1190.0,779.2 1191.1,782.1 1192.3,780.2 1193.4,783.1 1194.6,781.6 1195.8,783.3 1197.1,782.2 1198.3,784.5 1199.5,783.1 1200.6,786.2 1201.8,783.3 1202.9,787.0 1203.9,785.0 1204.9,786.8 1205.8,785.4 1206.7,788.5 1208.1,786.2 1209.1,789.2 1209.9,787.6 1210.6,789.9 1211.2,788.9 1211.9,791.1 1212.7,789.7 1213.8,792.7 1215.2,790.5 1217.0,793.0 1217.8,791.5 1218.7,793.0 1219.7,792.3 1220.8,793.7 1221.9,791.9 1223.1,793.7 1224.3,792.7 1225.6,794.8 1226.9,792.5 1228.2,794.9 1229.5,792.6 1230.9,795.8 1232.3,793.3 1233.7,796.2 1235.0,794.1 1236.4,796.4 1237.7,794.1 1239.0,796.0 1240.3,794.4 1241.5,796.4 1242.7,794.2 1243.9,796.3 1245.0,795.3 1246.0,796.5 1246.9,794.8 1247.8,796.9 1249.6,795.3 1251.1,797.8 1252.3,796.1 1253.4,797.9 1254.3,796.1 1255.2,798.5 1256.0,795.6 1256.8,798.0 1257.7,795.5 1258.8,798.6 1260.0,795.8 1261.0,798.6 1262.1,796.2 1263.2,798.6 1264.3,796.2 1265.5,798.3 1266.7,796.7 1268.0,799.6 1269.2,796.6 1270.4,799.2 1271.6,797.4 1272.8,799.9 1273.9,797.9 1275.0,800.5 1276.1,798.7 1277.1,800.1 1278.3,799.4 1279.5,801.8 1280.6,800.4 1281.7,802.4 1282.7,802.1 1283.7,803.3 1284.7,803.4 1285.7,805.1 1286.6,805.0 1287.5,806.4 1288.3,806.5 1289.1,807.9 1289.9,807.9 1290.7,809.0 1291.4,809.2 1292.0,810.2 1292.6,810.4 1293.2,811.5 1293.8,812.1 1294.3,813.3 1294.8,814.4 1295.4,815.9 1295.9,817.6 1296.1,818.4 1296.3,819.2 1296.6,820.0 1296.8,820.8 1297.0,821.8 1297.2,822.6 1297.4,823.6 1297.6,824.6 1297.9,825.6 1298.1,826.6 1298.3,827.7 1298.5,828.7 1298.7,829.9 1298.9,831.0 1299.1,832.2 1299.3,833.4 1299.4,834.6 1299.6,835.8 1299.8,837.1 1300.0,838.4 1300.2,839.8 1300.3,841.1 1300.5,842.5 1300.6,844.0 1300.8,845.4 1301.0,846.9 1301.1,848.4 1301.2,849.4 1301.3,850.4 1301.4,851.4 1301.4,852.4 1301.5,853.4 1301.6,854.5 1301.7,855.6 1301.7,856.7 1301.8,857.8 1301.9,858.9 1301.9,860.1 1302.0,861.3 1302.1,862.4 1302.1,863.6 1302.2,864.8 1302.2,866.0 1302.3,867.2 1302.3,868.5 1302.4,869.7 1302.4,870.9 1302.5,872.2 1302.5,873.4 1302.6,874.7 1302.6,876.0 1302.7,877.2 1302.7,878.5 1302.8,879.8 1302.8,881.1 1302.9,882.3 1302.9,883.6 1303.0,884.9 1303.0,886.2 1303.1,887.4 1303.1,888.7 1303.2,890.0 1303.2,891.2 1303.3,892.5 1303.3,893.7 1303.4,894.9 1303.4,896.2 1303.5,897.4 1303.5,898.6 1303.6,899.8 1303.7,901.0 1303.7,902.2 1303.8,903.4 1303.8,904.6 1303.9,905.8 1304.0,907.0 1304.0,908.2 1304.1,909.3 1304.1,910.5 1304.2,911.7 1304.3,912.9 1304.3,914.1 1304.4,915.3 1304.4,916.5 1304.5,917.7 1304.6,918.9 1304.6,920.1 1304.7,921.3 1304.7,922.5 1304.8,923.7 1304.9,924.9 1304.9,926.1 1305.0,927.2 1305.0,928.4 1305.1,929.6 1305.2,930.8 1305.2,932.0 1305.3,933.2 1305.3,934.4 1305.4,935.6 1305.5,936.8 1305.5,938.0 1305.6,939.2 1305.7,940.4 1305.7,941.6 1305.8,942.7 1305.8,943.9 1305.9,945.1 1306.0,946.3 1306.0,947.5 1306.1,948.7 1306.1,949.9 1306.2,951.1 1306.3,952.3 1306.3,953.5 1306.4,954.7 1306.4,955.8 1306.5,957.0 1306.6,958.2 1306.6,959.3 1306.7,960.5 1306.7,961.7 1306.8,962.8 1306.9,964.0 1306.9,965.2 1307.0,966.3 1307.1,967.5 1307.1,968.6 1307.2,969.8 1307.2,970.9 1307.3,972.1 1307.4,973.3 1307.4,974.4 1307.5,975.6 1307.5,976.8 1307.6,977.9 1307.7,979.1 1307.7,980.3 1307.8,981.4 1307.8,982.6 1307.9,983.8 1308.0,985.0 1308.0,986.2 1308.1,987.4 1308.1,988.6 1308.2,989.8 1308.3,991.1 1308.3,992.3 1308.4,993.5 1308.4,994.8 1308.5,996.0 1308.6,997.3 1308.6,998.5 1308.7,999.8 1308.7,1001.1 1308.8,1002.4 1308.8,1003.5 1308.9,1004.7 1308.9,1005.9 1309.0,1007.1 1309.0,1008.4 1309.1,1009.7 1309.1,1011.1 1309.2,1012.5 1309.2,1013.9 1309.3,1015.3 1309.3,1016.8 1309.4,1018.2 1309.4,1019.7 1309.5,1021.2 1309.5,1022.7 1309.6,1024.2 1309.6,1025.8 1309.7,1027.3 1309.7,1028.8 1309.7,1030.4 1309.8,1031.9 1309.8,1033.4 1309.9,1034.9 1309.9,1036.4 1310.0,1037.9 1310.0,1039.4 1310.1,1040.8 1310.1,1042.2 1310.2,1043.6 1310.2,1045.0 1310.3,1046.3 1310.3,1047.7 1310.4,1048.9 1310.4,1050.2 1310.5,1051.4 1310.5,1052.5 1310.6,1053.6 1310.6,1054.7 1310.7,1055.7 1310.7,1056.7 1310.8,1057.6 1310.8,1058.4 1310.9,1059.2 1310.9,1059.9 1311.0,1060.6 1311.0,1061.2 1311.1,1061.7 1311.1,1062.1 1311.2,1062.5 1311.2,1062.8 1311.3,1063.1 1311.4,1063.0 1311.5,1064.0 1311.5,1062.9 1311.6,1062.8 1311.7,1062.4 1311.8,1062.0 1311.9,1061.3 1312.0,1060.7 1312.1,1059.8 1312.2,1058.9 1312.2,1057.9 1312.3,1056.9 1312.4,1055.7 1312.5,1054.5 1312.6,1053.2 1312.7,1051.9 1312.8,1050.4 1312.9,1049.0 1313.0,1047.5 1313.1,1046.0 1313.2,1044.4 1313.3,1042.8 1313.4,1041.2 1313.5,1039.5 1313.6,1037.9 1313.7,1036.2 1313.7,1034.6 1313.8,1033.0 1313.9,1031.3 1314.0,1029.7 1314.1,1028.1 1314.2,1026.6 1314.3,1025.1 1314.4,1023.6 1314.5,1022.2 1314.6,1020.8 1314.7,1019.5 1314.8,1018.4 1314.9,1017.3 1314.9,1016.1 1315.0,1015.0 1315.1,1013.8 1315.2,1012.7 1315.3,1011.5 1315.3,1010.3 1315.4,1009.1 1315.5,1007.9 1315.6,1006.7 1315.7,1005.5 1315.8,1004.3 1315.8,1003.1 1315.9,1001.8 1316.0,1000.6 1316.1,999.4 1316.2,998.1 1316.2,996.9 1316.3,995.7 1316.4,994.4 1316.5,993.2 1316.6,991.9 1316.7,990.7 1316.7,989.5 1316.8,988.2 1316.9,987.0 1317.0,985.8 1317.1,984.6 1317.1,983.3 1317.2,982.1 1317.3,980.9 1317.4,979.7 1317.5,978.5 1317.6,977.3 1317.6,976.2 1317.7,975.0 1317.8,973.8 1317.9,972.7 1318.0,971.5 1318.0,970.4 1318.1,969.3 1318.2,968.2 1318.3,966.9 1318.4,965.6 1318.5,964.3 1318.6,963.0 1318.7,961.7 1318.8,960.4 1318.8,959.1 1318.9,957.8 1319.0,956.5 1319.1,955.2 1319.2,953.9 1319.3,952.7 1319.4,951.4 1319.5,950.1 1319.5,948.9 1319.6,947.7 1319.7,946.4 1319.8,945.2 1319.9,944.0 1320.0,942.8 1320.1,941.6 1320.2,940.4 1320.3,939.2 1320.3,938.1 1320.4,936.9 1320.5,935.8 1320.6,934.7 1320.7,933.6 1320.8,932.5 1320.9,931.4 1321.0,930.4 1321.1,929.4 1321.3,928.3 1321.4,927.3 1321.5,926.4 1321.6,925.4 1321.8,923.9 1322.0,922.5 1322.2,921.2 1322.4,919.9 1322.6,918.7 1322.9,917.6 1323.1,916.6 1323.3,915.6 1323.6,914.5 1323.8,913.6 1324.0,912.6 1324.3,911.7 1324.5,910.6 1324.8,909.7 1325.0,908.6 1325.3,907.6 1325.5,906.4 1325.7,905.3 1326.0,904.0 1326.2,902.7 1326.5,901.3 1326.7,899.8 1326.8,898.8 1327.0,897.8 1327.1,896.8 1327.3,895.8 1327.4,894.7 1327.6,893.6 1327.7,892.4 1327.9,891.3 1328.0,890.1 1328.1,888.9 1328.3,887.7 1328.4,886.5 1328.6,885.3 1328.7,884.0 1328.9,882.7 1329.0,881.5 1329.2,880.2 1329.3,878.9 1329.4,877.7 1329.6,876.4 1329.7,875.1 1329.9,873.8 1330.0,872.5 1330.2,871.3 1330.3,870.0 1330.5,868.8 1330.6,867.5 1330.7,866.3 1330.9,865.0 1331.0,863.8 1331.2,862.6 1331.3,861.5 1331.5,860.3 1331.6,859.2 1331.8,858.1 1331.9,857.0 1332.1,855.7 1332.2,854.4 1332.4,853.0 1332.6,851.7 1332.7,850.4 1332.9,849.1 1333.1,847.8 1333.2,846.5 1333.4,845.2 1333.5,843.9 1333.7,842.7 1333.8,841.4 1334.0,840.2 1334.2,839.0 1334.3,837.7 1334.5,836.6 1334.7,835.4 1334.8,834.2 1335.0,833.1 1335.2,831.9 1335.3,830.8 1335.5,829.7 1335.7,828.7 1335.9,827.6 1336.1,826.6 1336.3,825.6 1336.5,824.6 1336.8,823.7 1337.0,822.8 1337.4,821.3 1337.8,819.8 1338.2,818.5 1338.6,817.0 1339.0,815.8 1339.4,814.4 1339.8,813.4 1340.3,812.2 1340.7,811.2 1341.2,810.0 1341.7,809.2 1342.3,808.2 1342.8,807.7 1343.4,806.4 1344.1,806.3 1344.8,805.0 1345.5,805.2 1346.4,803.4 1347.4,805.3 1348.4,802.4 1349.6,804.5 1350.7,802.9 1351.9,805.4 1353.2,802.6 1354.4,805.5 1355.7,803.8 1356.9,805.4 1358.1,802.9 1359.4,805.4 1360.5,803.3 1361.6,806.0 1362.7,803.9 1364.0,806.3 1365.2,804.0 1366.4,805.5 1367.6,803.0 1368.7,804.8 1369.8,801.7 1370.9,803.2 1372.0,801.1 1373.1,802.2 1374.2,800.5 1375.2,802.1 1376.3,800.2 1377.4,800.8 1378.4,799.2 1379.5,799.6 1380.5,797.7 1381.6,798.3 1382.6,796.7 1383.6,796.9 1384.6,795.7 1385.6,796.3 1386.5,794.1 1387.4,795.4 1388.3,794.1 1389.5,795.1 1390.7,792.8 1391.8,795.5 1392.8,793.0 1393.8,795.6 1394.8,793.9 1395.9,795.7 1396.9,795.1 1397.9,796.8 1398.9,794.9 1399.8,796.8 1400.7,796.6 1401.7,798.1 1402.8,797.5 1404.0,798.9 1405.4,797.7 1406.3,799.7 1407.2,798.8 1408.2,800.5 1409.2,799.5 1410.3,801.6 1411.3,800.3 1412.5,802.4 1413.6,801.2 1414.8,803.8 1416.0,801.7 1417.2,803.8 1418.4,802.4 1419.6,804.2 1420.8,801.6 1421.8,803.8 1422.9,801.6 1424.0,803.7 1425.2,801.6 1426.4,802.1 1427.6,800.6 1428.8,801.1 1430.0,799.7 1431.2,799.9 1432.4,798.1 1433.6,798.9 1434.7,797.3 1435.8,798.9 1436.8,795.9 1437.8,798.3 1438.8,796.6 1439.6,798.2 1440.7,796.0 1441.6,798.1 1442.5,797.7 1443.3,799.2 1444.0,799.5 1444.7,800.8 1445.3,801.6 1445.8,802.8 1446.4,803.7 1447.0,805.1 1447.6,806.2 1448.2,807.6 1448.7,808.1 1449.1,809.2 1449.6,810.0 1450.0,811.1 1450.4,811.9 1450.9,813.0 1451.3,813.8 1451.7,815.0 1452.1,816.0 1452.5,817.3 1452.9,818.3 1453.3,819.6 1453.7,820.7 1454.0,822.1 1454.4,823.4 1454.7,824.8 1455.0,826.2 1455.2,827.2 1455.4,828.1 1455.5,829.2 1455.7,830.2 1455.9,831.2 1456.0,832.3 1456.2,833.4 1456.3,834.5 1456.4,835.6 1456.6,836.7 1456.7,837.9 1456.8,839.0 1456.9,840.2 1457.0,841.4 1457.1,842.7 1457.3,843.9 1457.4,845.2 1457.5,846.4 1457.6,847.7 1457.7,849.0 1457.8,850.3 1458.0,851.6 1458.1,852.9 1458.2,854.3 1458.4,855.6 1458.5,857.0 1458.6,858.1 1458.7,859.2 1458.8,860.4 1459.0,861.7 1459.1,863.0 1459.2,864.3 1459.3,865.6 1459.4,867.0 1459.5,868.5 1459.7,869.9 1459.8,871.3 1459.9,872.8 1460.0,874.3 1460.1,875.7 1460.3,877.2 1460.4,878.7 1460.5,880.1 1460.6,881.5 1460.7,882.9 1460.9,884.3 1461.0,885.6 1461.1,886.9 1461.2,888.2 1461.4,889.3 1461.5,890.5 1461.6,891.6 1461.8,892.6 1461.9,893.5 1462.0,894.4 1462.2,895.2 1462.3,895.9 1462.4,896.5 1462.6,897.1 1462.7,897.4 1463.0,898.4 1463.4,897.7 1463.8,898.2 1464.1,897.4 1464.5,896.6 1464.9,895.3 1465.3,894.0 1465.7,892.3 1466.1,890.7 1466.5,888.9 1466.8,887.3 1467.2,885.6 1467.6,884.1 1467.9,882.7 1468.2,881.7 1468.4,880.6 1468.6,879.6 1468.9,878.4 1469.1,877.3 1469.3,876.1 1469.5,875.0 1469.7,873.8 1469.9,872.6 1470.1,871.3 1470.3,870.2 1470.5,868.9 1470.8,867.8 1471.0,866.5 1471.3,865.4 1471.5,864.3 1471.8,863.2 1472.1,862.1 1472.5,860.9 1472.8,859.6 1473.2,858.4 1473.6,857.0 1474.0,855.8 1474.4,854.4 1474.8,853.2 1475.3,851.9 1475.7,850.8 1476.2,849.5 1476.6,848.6 1477.1,847.5 1477.5,846.8 1478.0,845.8 1478.4,845.4 1478.9,843.8 1480.0,844.8 1481.1,843.4 1482.3,845.5 1483.4,845.3 1484.6,847.2 1485.6,846.3 1486.6,847.5 1487.2,846.2 1487.8,845.8 1488.3,844.6 1488.8,843.5 1489.3,842.0 1489.8,840.8 1490.3,839.5 1490.7,838.6 1491.2,837.3 1491.7,837.8 1492.7,835.4 1493.7,837.0 1494.8,836.8 1495.8,838.3 1496.8,839.4 1497.2,840.5 1497.6,841.1 1498.0,842.2 1498.4,843.1 1498.8,844.3 1499.2,845.4 1499.5,846.7 1499.9,847.9 1500.3,849.2 1500.7,850.2 1501.1,851.5 1501.5,852.5 1501.9,853.6 1502.3,854.8 1502.8,856.1 1503.2,857.3 1503.5,858.7 1503.9,859.9 1504.3,861.2 1504.8,862.2 1505.2,863.4 1505.8,863.8 1506.3,864.9 1507.0,864.2 1507.8,866.4 1508.8,864.4 1509.8,865.5 1510.8,863.6 1511.9,864.4 1513.1,862.6 1514.2,862.4 1515.2,860.8 1516.3,860.6 1517.2,858.8 1517.9,858.8 1518.6,857.4 1519.3,857.0 1520.0,855.6 1520.6,855.0 1521.2,853.7 1521.8,852.9 1522.4,851.6 1523.0,851.0 1523.7,849.8 1524.3,849.3 1524.9,848.2 1525.8,847.7 1526.8,846.2 1527.7,846.5 1528.6,844.7 1529.6,845.7 1530.5,843.2 1531.5,845.6 1532.5,843.6 1533.4,844.6 1534.4,844.0 1535.4,845.8 1536.5,845.3 1537.5,846.4 1538.6,846.2 1539.6,848.3 1540.6,847.3 1541.5,848.9 1542.7,848.5 1543.8,849.9 1544.8,847.8 1545.9,849.9 1547.0,848.2 1548.0,850.9 1549.1,849.1 1550.0,850.6 1551.0,849.9 1551.9,851.8 1552.8,850.7 1553.7,852.0 1554.7,852.1 1555.7,853.7 1556.8,854.6 1557.3,855.7 1557.8,856.3 1558.3,857.3 1558.8,858.0 1559.4,859.3 1559.9,860.2 1560.5,861.5 1561.0,862.5 1561.6,863.8 1562.2,864.8 1562.8,866.1 1563.3,867.1 1563.9,868.5 1564.4,869.3 1565.0,870.6 1565.5,871.4 1566.0,872.5 1566.5,873.1 1567.0,874.1 1567.9,875.1 1568.7,876.5 1569.5,876.8 1570.3,878.1 1571.1,877.8 1571.8,879.4 1572.6,879.3 1573.3,880.5 1574.0,880.5 1574.7,881.9 1575.4,882.5 1576.0,883.8 1576.5,884.9 1577.1,886.2 1577.6,887.2 1578.2,888.5 1578.8,889.4 1579.4,890.6 1580.2,890.8 1581.0,892.2 1582.0,891.7 1583.0,893.7 1584.2,891.5 1585.4,894.2 1586.7,892.1 1587.9,893.8 1589.2,891.3 1590.4,892.9 1591.5,890.8 1592.5,892.4 1593.5,891.0 1594.5,890.7 1595.4,889.2 1596.3,889.0 1597.2,887.4 1598.0,886.9 1598.7,885.6 1599.5,885.4 1600.2,883.7 1601.2,886.5 1602.1,884.3 1602.9,885.9 1603.7,886.1 1604.5,887.8 1605.3,889.3 1605.6,890.1 1605.9,890.8 1606.2,891.8 1606.5,892.6 1606.8,893.6 1607.1,894.6 1607.4,895.7 1607.7,896.8 1608.0,898.0 1608.3,899.2 1608.6,900.5 1608.9,901.7 1609.2,903.1 1609.5,904.4 1609.8,905.8 1610.1,907.1 1610.4,908.5 1610.6,909.5 1610.8,910.6 1611.0,911.7 1611.2,912.9 1611.4,914.0 1611.5,915.3 1611.7,916.5 1611.9,917.8 1612.1,919.1 1612.2,920.4 1612.4,921.7 1612.6,923.0 1612.8,924.2 1613.0,925.5 1613.2,926.8 1613.4,928.1 1613.6,929.3 1613.8,930.5 1614.1,931.6 1614.3,932.7 1614.6,933.7 1614.9,934.8 1615.2,935.7 1615.5,936.6 1616.1,937.9 1616.8,939.6 1617.5,940.8 1618.3,942.3 1619.1,943.2 1620.0,944.8 1620.9,945.4 1621.7,947.1 1622.6,947.2 1623.4,948.6 1624.2,948.0 1625.0,949.6 1625.7,948.6 1626.3,949.7 1626.9,948.4 1627.4,949.1 1627.9,947.9 1628.4,947.4 1628.8,946.2 1629.2,945.3 1629.6,944.0 1630.0,942.8 1630.4,941.3 1630.7,940.0 1631.1,938.4 1631.4,937.0 1631.8,935.4 1632.1,934.0 1632.3,933.0 1632.5,932.1 1632.7,931.0 1632.9,929.9 1633.0,928.8 1633.2,927.6 1633.4,926.5 1633.5,925.3 1633.7,924.0 1633.8,922.8 1634.0,921.6 1634.1,920.3 1634.3,919.1 1634.4,917.8 1634.6,916.6 1634.7,915.4 1634.9,914.1 1635.1,913.0 1635.3,911.8 1635.5,910.7 1635.7,909.5 1635.9,908.5 1636.2,907.2 1636.5,905.9 1636.8,904.4 1637.1,903.1 1637.5,901.6 1637.8,900.2 1638.2,898.8 1638.6,897.4 1638.9,896.0 1639.3,894.8 1639.7,893.6 1640.1,892.5 1640.4,891.4 1640.8,890.5 1641.2,889.5 1641.6,889.1 1641.9,888.2 1642.3,888.9 1642.9,886.8 1643.4,888.4 1644.0,888.8 1644.5,890.0 1645.1,891.0 1645.6,892.5 1646.2,893.8 1646.8,895.4 1647.4,896.4 1648.0,897.7 1648.7,898.1 1649.7,899.3 1650.8,899.6 1651.9,901.3 1653.1,900.7 1654.2,902.4 1655.4,900.3 1656.5,902.8 1657.6,900.6 1658.2,900.8 1658.9,899.4 1659.5,898.8 1660.1,897.6 1660.7,896.6 1661.3,895.2 1661.9,894.3 1662.5,892.9 1663.1,891.9 1663.6,890.5 1664.2,889.8 1664.8,888.7 1665.3,888.6 1666.5,886.8 1667.6,886.8 1668.7,885.2 1669.7,886.4 1670.7,883.6 1671.7,886.3 1672.6,885.2 1673.4,887.0 1674.2,885.9 1675.0,887.5 1675.8,887.8 1676.8,889.6 1677.3,889.9 1677.8,891.2 1678.4,892.0 1679.0,893.3 1679.6,894.5 1680.2,895.8 1680.8,897.0 1681.5,898.3 1682.1,899.3 1682.7,900.5 1683.3,900.8 1683.8,902.2 1684.4,901.5 1685.2,902.6 1685.9,901.0 1686.6,902.3 1687.3,900.6 1688.0,900.1 1688.7,898.8 1689.4,897.7 1690.1,896.0 1690.8,894.5 1691.1,893.5 1691.4,892.7 1691.8,891.7 1692.1,890.7 1692.4,889.6 1692.7,888.5 1693.0,887.2 1693.4,886.0 1693.7,884.8 1694.0,883.5 1694.3,882.2 1694.6,881.0 1695.0,879.6 1695.3,878.4 1695.6,877.1 1695.9,875.9 1696.2,874.7 1696.6,873.6 1696.9,872.5 1697.2,871.6 1697.6,870.2 1698.1,868.9 1698.5,867.5 1698.9,866.3 1699.4,865.0 1699.8,863.8 1700.3,862.5 1700.7,861.5 1701.1,860.2 1701.6,859.3 1702.0,858.2 1702.4,857.4 1702.8,856.3 1703.2,855.8 1703.6,854.8 1704.5,854.0 1705.2,852.6 1705.9,853.3 1706.7,851.4 1707.6,852.5 1708.7,850.4 1709.3,850.7 1710.0,849.6 1710.7,849.2 1711.4,847.9 1712.2,847.4 1713.0,846.1 1713.8,845.8 1714.7,844.0 1715.5,843.8 1716.4,842.3 1717.2,842.6 1718.1,841.0 1718.9,841.4 1720.0,839.5 1721.0,840.7 1722.1,838.2 1723.2,841.3 1724.3,839.0 1725.4,840.8 1726.6,838.0 1727.7,840.9 1729.0,838.3 1730.2,839.2 1731.1,837.2 1732.1,838.5 1733.0,836.8 1734.0,837.1 1735.0,835.0 1736.0,836.0 1737.0,833.6 1738.1,834.0 1739.1,832.8 1740.1,833.3 1741.1,831.5 1742.2,833.2 1743.2,830.4 1744.2,833.4 1745.3,830.4 1746.4,832.2 1747.4,831.4 1748.5,833.9 1749.6,833.5 1750.6,835.2 1751.7,834.5 1752.8,836.8 1753.9,836.1 1755.0,838.3 1756.1,836.4 1757.2,839.6 1758.3,836.8 1759.2,839.1 1760.2,836.8 1761.1,837.4 1762.1,835.5 1763.1,836.3 1764.1,834.8 1765.0,834.7 1766.0,833.2 1767.0,833.3 1768.0,831.6 1769.0,831.4 1769.9,829.7 1770.9,830.3 1771.8,828.5 1772.7,829.0 1773.6,827.7 1774.9,829.2 1776.1,826.1 1777.3,828.7 1778.5,825.5 1779.7,829.0 1780.9,826.3 1782.0,827.9 1783.2,825.9 1784.3,829.4 1785.3,827.0 1786.4,829.1 1787.5,828.0 1788.6,830.2 1789.6,829.3 1790.6,831.3 1791.6,830.6 1792.6,832.5 1793.5,832.3 1794.5,834.1 1795.5,832.8 1796.6,835.0 1797.7,833.2 1798.9,835.8 1800.0,832.6 1801.2,834.8 1802.4,833.3 1803.6,835.0 1804.8,832.7 1805.9,833.9 1807.0,831.9 1808.1,832.3 1808.8,831.0 1809.5,831.0 1810.0,829.8 1810.5,828.9 1811.0,827.7 1811.5,826.8 1812.0,825.4 1812.6,824.5 1813.2,823.2 1814.0,822.8 1814.8,821.3 1815.8,822.0 1817.0,819.8 1817.8,821.6 1818.8,819.7 1819.8,821.9 1820.9,818.9 1822.0,820.7 1823.2,818.3 1824.4,821.7 1825.7,819.5 1827.0,821.6 1828.3,819.6 1829.7,821.7 1831.0,819.2 1832.3,822.0 1833.6,820.6 1834.9,822.0 1836.1,820.5 1837.2,822.1 1838.3,820.5 1839.4,823.1 1840.3,821.1 1841.2,823.4 1842.8,821.7 1844.2,824.3 1845.4,823.0 1846.5,825.1 1847.4,824.5 1848.2,825.8 1849.0,825.8 1849.8,827.2 1850.6,827.2 1851.5,828.5 1852.3,829.0 1853.0,830.4 1853.7,831.4 1854.4,832.8 1855.1,833.9 1855.7,835.3 1856.4,836.2 1857.0,837.5 1857.7,836.8 1858.4,838.5 1859.1,837.2 1859.5,837.8 1860.0,836.7 1860.4,836.4 1860.8,835.3 1861.2,834.3 1861.6,833.1 1862.1,831.9 1862.5,830.5 1862.9,829.3 1863.4,827.8 1863.8,826.6 1864.3,825.1 1864.8,824.1 1865.4,822.7 1866.0,821.9 1866.6,820.5 1867.3,820.5 1868.0,818.8 1868.9,819.7 1869.9,817.1 1870.9,819.2 1871.9,816.5 1873.0,818.8 1874.1,817.8 1875.3,819.0 1876.5,817.6 1877.8,820.5 1879.0,818.7 1880.3,820.2 1881.7,819.0 1883.1,821.2 1884.5,819.4 1885.9,820.5 1886.9,819.5 1888.0,820.8 1889.1,818.6 1890.2,821.1 1891.4,819.0 1892.6,820.3 1893.8,818.0 1895.0,819.4 1896.3,817.1 1897.5,819.9 1898.8,817.1 1900.1,819.5 1901.3,817.7 1902.6,818.7 1903.8,817.0 1905.0,818.1 1906.1,816.2 1907.3,818.5 1908.4,816.8 1909.4,818.6 1910.4,815.9 1911.4,818.0 1912.8,816.2 1914.2,819.1 1915.4,817.3 1916.6,819.3 1917.8,816.7 1918.8,819.2 1919.9,818.3 1920.9,820.0 1921.9,818.4 1922.9,820.6 1923.9,819.7 1924.8,820.9 1925.8,820.6 1926.8,821.9 1927.9,821.1 1928.9,823.1 1929.8,822.7 1930.6,823.7 1931.5,823.7 1932.3,825.3 1933.2,824.6 1934.2,827.0 1935.3,825.8 1936.5,827.4 1937.9,826.9 1939.5,828.9 1940.4,826.6 1941.4,828.6 1942.5,826.2 1943.7,829.8 1944.9,826.9 1946.2,829.7 1947.5,826.5 1948.9,828.9 1950.3,827.1 1951.7,829.3 1953.1,826.8 1954.5,829.1 1956.0,827.0 1957.3,828.0 1958.7,825.9 1960.0,828.5 1961.3,826.4 1962.5,828.7 1963.7,825.8 1964.7,828.8 1965.7,825.4 1966.6,827.9 1967.3,825.4 1968.0,828.5" stroke="#1a6fe2"/>
<path d="M143.0,514.3 143.6,517.5 144.3,514.6 145.0,517.0 145.7,514.8 146.5,517.8 147.3,514.9 148.1,516.4 149.0,515.0 149.9,516.6 150.8,514.9 151.8,516.6 152.8,515.2 153.8,516.7 154.8,514.9 155.9,517.1 157.0,515.1 158.1,516.3 159.2,515.1 160.4,517.0 161.6,514.8 162.8,517.3 164.0,514.1 165.3,516.8 166.5,515.2 167.8,517.3 169.1,514.2 170.4,516.8 171.7,514.3 173.0,516.6 174.4,513.9 175.7,517.5 177.1,514.1 178.4,517.7 179.8,515.0 181.2,517.0 182.6,514.2 184.0,517.4 185.4,514.7 186.8,516.4 188.2,514.3 189.5,516.3 190.9,514.2 192.3,516.2 193.7,514.6 195.1,516.9 196.5,515.2 197.9,516.9 199.2,514.6 200.6,516.7 202.0,513.9 203.3,517.6 204.6,513.9 206.0,516.6 207.3,515.3 208.6,516.8 209.9,515.2 211.1,517.3 212.4,515.0 213.6,516.4 214.8,515.0 216.0,516.9 217.2,514.2 218.4,517.0 219.6,514.9 220.8,517.3 222.1,515.4 223.3,516.6 224.6,514.3 225.8,517.4 227.1,515.3 228.4,516.3 229.7,514.6 231.0,517.3 232.3,515.4 233.6,516.9 234.9,515.0 236.2,516.4 237.6,515.2 238.9,516.7 240.2,514.7 241.5,516.4 242.8,514.5 244.2,517.7 245.5,514.4 246.8,516.4 248.1,514.4 249.4,517.3 250.7,515.5 252.0,516.9 253.3,514.4 254.6,517.8 255.9,514.0 257.2,517.2 258.5,514.6 259.7,517.9 261.0,515.2 262.2,517.2 263.4,515.5 264.7,517.6 265.9,514.5 267.1,516.7 268.2,515.3 269.4,517.3 270.6,514.4 271.7,516.7 272.8,515.2 273.9,517.3 275.0,515.3 276.1,517.9 277.1,514.6 278.2,518.1 279.2,514.8 280.2,517.7 281.1,515.4 282.1,517.5 283.0,515.2 283.9,517.5 284.8,515.9 285.7,518.2 286.5,515.8 287.3,517.6 289.5,514.7 291.6,517.9 293.4,515.1 295.0,517.8 296.5,515.9 297.9,518.2 299.1,516.4 300.2,518.4 301.2,516.5 302.2,519.3 303.0,516.1 303.9,518.5 304.7,517.0 305.4,519.5 306.2,517.9 307.0,519.3 307.8,518.5 308.7,520.2 309.7,519.2 310.7,521.3 311.8,520.0 312.8,521.7 313.8,520.9 314.9,523.2 315.9,521.7 316.9,524.0 317.9,522.9 319.0,524.6 320.0,523.5 321.0,525.7 322.0,524.7 323.1,526.9 324.1,525.8 325.1,527.3 326.1,526.9 327.2,529.0 328.2,528.5 329.2,530.3 330.2,529.4 331.3,531.2 332.3,531.2 333.3,532.6 334.3,532.2 335.4,534.0 336.4,534.0 337.3,535.3 338.2,534.9 339.1,536.6 340.0,536.4 341.0,538.1 341.9,537.5 342.8,539.1 343.7,539.1 344.6,540.9 345.5,540.6 346.4,542.0 347.3,542.0 348.3,543.6 349.2,543.2 350.1,544.8 351.0,545.1 351.9,546.3 352.8,546.7 353.7,548.0 354.6,548.0 355.5,549.8 356.5,549.6 357.4,551.1 358.3,551.3 359.2,552.5 360.1,552.7 361.0,554.1 361.9,554.0 362.8,555.6 363.6,555.9 364.5,557.2 365.4,557.4 366.3,558.6 367.1,558.7 368.0,560.1 368.9,560.2 369.8,561.8 370.6,562.1 371.5,563.5 372.4,563.2 373.3,565.1 374.1,564.9 375.0,566.8 375.9,566.8 376.8,568.2 377.6,568.2 378.5,569.7 379.4,569.7 380.3,571.4 381.1,571.7 382.0,572.8 382.9,573.2 383.8,574.4 384.6,574.7 385.5,576.5 386.3,576.1 387.2,578.0 388.0,578.1 388.9,579.3 389.7,579.8 390.6,581.2 391.4,581.4 392.3,582.5 393.1,582.8 393.9,584.5 394.8,584.5 395.6,585.8 396.5,586.4 397.3,587.8 398.2,587.8 399.0,589.3 399.9,589.3 400.7,590.9 401.6,591.3 402.4,592.8 403.2,592.9 404.1,594.1 404.9,594.4 405.8,595.8 406.6,595.7 407.5,597.1 408.3,597.1 409.2,598.5 410.0,598.3 411.0,600.4 412.0,600.3 412.9,601.9 413.9,601.9 414.9,603.4 415.8,603.4 416.8,604.8 417.8,604.8 418.7,606.2 419.7,606.0 420.6,608.1 421.6,607.9 422.6,609.4 423.5,609.3 424.5,610.5 425.5,610.5 426.5,612.3 427.5,611.9 428.4,613.7 429.4,613.0 430.4,614.3 431.4,613.8 432.5,616.1 433.5,614.9 434.5,616.8 435.6,615.2 436.7,617.8 437.8,616.7 438.9,618.3 440.0,617.3 441.2,619.7 442.3,617.9 443.5,619.9 444.7,619.3 445.8,621.6 447.0,619.0 448.1,622.1 449.3,619.2 450.5,622.0 451.6,620.6 452.8,623.3 453.9,619.9 455.0,622.3 456.2,620.6 457.3,623.3 458.3,621.8 459.4,623.6 460.5,621.0 461.5,623.6 462.8,621.8 464.0,624.4 465.2,621.1 466.4,623.4 467.6,620.9 468.8,624.2 469.9,621.3 471.0,623.4 472.1,621.4 473.3,622.3 474.4,619.9 475.5,623.0 476.6,619.4 477.7,621.2 478.9,619.1 480.0,620.9 481.2,619.1 482.4,620.8 483.6,618.6 484.6,619.1 485.6,617.6 486.7,618.5 487.7,616.9 488.8,618.2 489.8,616.0 490.9,617.7 492.0,615.2 493.0,616.0 494.1,614.2 495.2,614.9 496.3,613.2 497.4,614.0 498.5,612.4 499.6,613.3 500.6,610.9 501.7,611.9 502.8,610.5 503.9,610.9 505.0,609.1 506.1,609.8 507.1,607.6 508.2,609.0 509.1,606.5 510.1,607.6 511.0,605.5 512.0,606.3 512.9,604.8 513.9,604.8 514.8,603.6 515.7,604.0 516.7,602.0 517.6,602.1 518.6,600.9 519.5,600.8 520.5,599.4 521.4,599.6 522.3,598.1 523.3,598.2 524.2,596.7 525.2,596.9 526.1,595.1 527.0,595.2 528.0,593.6 528.9,594.0 529.9,592.2 530.8,592.2 531.8,590.9 532.7,591.2 533.6,589.1 534.5,589.3 535.3,588.0 536.2,587.9 537.1,586.5 538.0,586.6 538.8,584.8 539.7,584.7 540.6,583.0 541.5,583.2 542.4,581.4 543.2,581.5 544.1,580.0 545.0,579.6 545.9,578.3 546.8,578.2 547.6,576.6 548.5,576.7 549.4,575.1 550.3,574.9 551.2,573.2 552.0,573.6 552.9,571.6 553.8,571.7 554.7,570.1 555.5,570.4 556.4,568.9 557.3,569.0 558.3,567.1 559.3,567.6 560.3,565.9 561.3,565.8 562.3,564.0 563.3,564.1 564.3,562.4 565.4,562.9 566.4,561.0 567.4,561.6 568.4,559.7 569.4,559.7 570.5,557.8 571.5,558.5 572.5,557.0 573.4,557.0 574.4,555.5 575.4,556.1 576.4,553.7 577.3,554.3 578.2,552.7 579.2,553.8 580.1,552.1 580.9,552.5 581.8,551.1 583.0,551.3 584.3,549.3 585.5,550.6 586.7,548.5 587.9,549.8 589.0,547.3 590.2,548.7 591.3,546.6 592.4,548.7 593.4,545.6 594.5,547.7 595.5,545.1 596.4,547.2 597.4,545.1 598.3,546.4 599.2,544.6 600.0,545.6 601.4,543.4 602.7,544.8 603.8,543.0 604.8,544.3 605.7,541.8 606.6,543.2 607.6,540.7 608.6,542.8 609.7,539.9 610.8,541.9 611.9,539.4 613.0,542.4 614.2,539.5 615.4,541.9 616.6,538.2 617.8,541.5 618.9,538.5 620.1,540.8 621.3,539.9 622.4,542.1 623.5,539.6 624.6,541.7 625.7,540.4 626.8,542.5 627.9,541.5 629.0,544.1 630.1,543.2 631.1,544.8 632.1,544.8 633.0,546.6 633.6,546.8 634.2,547.9 634.8,548.3 635.3,549.6 635.9,550.2 636.4,551.4 636.9,552.1 637.3,553.4 637.8,554.3 638.3,555.5 638.8,556.5 639.2,557.9 639.7,559.0 640.2,560.5 640.7,561.6 641.1,562.7 641.4,563.5 641.8,564.6 642.1,565.6 642.5,566.7 642.8,567.7 643.2,568.9 643.6,569.9 643.9,571.2 644.3,572.3 644.7,573.5 645.0,574.6 645.4,575.9 645.7,577.0 646.1,578.3 646.4,579.5 646.8,580.8 647.1,581.9 647.4,583.2 647.8,584.4 648.1,585.7 648.4,586.9 648.7,588.0 648.9,589.1 649.2,590.2 649.5,591.3 649.7,592.5 650.0,593.6 650.2,594.8 650.5,595.9 650.7,597.1 651.0,598.2 651.2,599.5 651.5,600.6 651.7,601.8 651.9,603.0 652.2,604.2 652.4,605.3 652.6,606.6 652.9,607.7 653.1,608.9 653.3,610.1 653.5,611.3 653.7,612.5 653.9,613.7 654.1,614.8 654.3,616.0 654.5,617.1 654.7,618.3 654.9,619.5 655.0,620.6 655.2,621.8 655.4,622.9 655.5,624.1 655.7,625.2 655.8,626.4 656.0,627.5 656.1,628.7 656.3,629.8 656.4,631.0 656.5,632.1 656.7,633.3 656.8,634.4 656.9,635.6 657.1,636.7 657.2,637.9 657.4,639.1 657.5,640.2 657.7,641.4 657.8,642.6 657.9,643.8 658.1,645.0 658.2,646.1 658.4,647.2 658.5,648.4 658.7,649.5 658.8,650.6 659.0,651.8 659.1,652.9 659.2,654.0 659.4,655.2 659.5,656.3 659.7,657.5 659.8,658.6 660.0,659.8 660.1,660.9 660.3,662.1 660.4,663.3 660.6,664.4 660.7,665.6 660.8,666.8 661.0,667.9 661.1,669.1 661.3,670.2 661.4,671.4 661.6,672.5 661.7,673.7 661.9,674.8 662.0,676.0 662.1,677.2 662.3,678.4 662.4,679.6 662.6,680.8 662.7,682.0 662.8,683.3 663.0,684.6 663.1,685.8 663.2,687.1 663.4,688.4 663.5,689.7 663.6,691.0 663.8,692.2 663.9,693.5 664.0,694.7 664.2,695.9 664.3,697.1 664.5,698.2 664.6,699.4 664.8,700.5 664.9,701.5 665.1,702.6 665.2,703.5 665.4,704.5 665.6,705.4 665.7,706.2 665.9,707.0 666.4,708.8 667.0,709.8 667.6,710.9 668.2,710.8 668.8,712.2 669.4,711.8 670.0,712.7 670.6,713.4 671.2,714.9 671.7,716.6 671.9,717.5 672.0,718.3 672.2,719.2 672.3,720.1 672.5,721.0 672.6,722.0 672.7,723.0 672.9,724.1 673.0,725.2 673.1,726.3 673.3,727.5 673.4,728.7 673.5,729.9 673.6,731.1 673.8,732.3 673.9,733.6 674.0,734.9 674.1,736.1 674.3,737.4 674.4,738.7 674.5,740.1 674.6,741.4 674.7,742.7 674.9,744.0 675.0,745.3 675.1,746.6 675.2,747.8 675.3,749.1 675.5,750.4 675.6,751.6 675.7,752.7 675.8,753.9 676.0,755.0 676.1,756.2 676.2,757.4 676.3,758.6 676.5,759.8 676.6,761.0 676.7,762.2 676.8,763.4 677.0,764.7 677.1,765.9 677.2,767.2 677.4,768.4 677.5,769.6 677.6,770.9 677.7,772.1 677.9,773.3 678.0,774.6 678.1,775.8 678.2,777.0 678.3,778.2 678.5,779.4 678.6,780.6 678.7,781.7 678.8,782.9 678.9,784.0 679.0,785.1 679.1,786.2 679.2,787.3 679.3,788.4 679.4,789.4 679.5,790.4 679.6,791.9 679.7,793.4 679.8,794.9 679.9,796.5 680.0,798.1 680.1,799.7 680.2,801.3 680.2,802.8 680.3,804.4 680.4,805.9 680.4,807.4 680.5,808.8 680.5,810.1 680.6,811.4 680.7,812.5 680.7,813.6 680.8,814.6 680.9,815.4 681.0,816.1 681.1,816.7 681.2,817.1 681.3,817.7 681.4,816.1 681.5,817.6 681.7,817.0 681.8,816.8 682.0,816.3 682.1,815.6 682.3,814.8 682.5,813.9 682.6,812.9 682.8,811.8 683.0,810.6 683.2,809.3 683.4,808.0 683.6,806.6 683.8,805.1 683.9,803.5 684.1,802.0 684.3,800.4 684.5,798.7 684.7,797.1 684.8,795.4 685.0,793.7 685.1,792.0 685.3,790.4 685.4,789.5 685.5,788.5 685.5,787.5 685.6,786.5 685.7,785.5 685.8,784.5 685.8,783.4 685.9,782.3 686.0,781.2 686.1,780.1 686.1,778.9 686.2,777.8 686.3,776.6 686.3,775.5 686.4,774.3 686.5,773.1 686.5,771.8 686.6,770.6 686.7,769.4 686.7,768.2 686.8,766.9 686.9,765.7 686.9,764.4 687.0,763.1 687.0,761.9 687.1,760.6 687.2,759.4 687.2,758.1 687.3,756.8 687.4,755.6 687.5,754.3 687.5,753.0 687.6,751.8 687.7,750.5 687.7,749.3 687.8,748.0 687.9,746.8 688.0,745.6 688.0,744.4 688.1,743.2 688.2,742.0 688.3,740.8 688.4,739.6 688.4,738.4 688.5,737.2 688.6,736.0 688.7,734.8 688.8,733.6 688.8,732.4 688.9,731.2 689.0,730.0 689.1,728.7 689.2,727.5 689.2,726.3 689.3,725.1 689.4,723.9 689.5,722.6 689.6,721.4 689.6,720.2 689.7,719.0 689.8,717.8 689.9,716.5 690.0,715.3 690.1,714.1 690.2,712.9 690.3,711.7 690.4,710.5 690.4,709.4 690.5,708.2 690.6,707.0 690.7,705.8 690.8,704.7 690.9,703.5 691.1,702.4 691.2,701.2 691.3,700.1 691.4,699.0 691.5,697.8 691.6,696.7 691.7,695.7 691.9,694.6 692.0,693.5 692.2,692.2 692.3,690.9 692.5,689.6 692.7,688.3 692.9,687.0 693.1,685.7 693.2,684.4 693.4,683.2 693.6,681.9 693.8,680.7 694.0,679.4 694.3,678.2 694.5,677.0 694.7,675.8 694.9,674.5 695.1,673.4 695.3,672.1 695.5,671.0 695.8,669.8 696.0,668.7 696.2,667.5 696.4,666.4 696.6,665.3 696.9,664.2 697.1,663.1 697.3,662.0 697.5,660.9 697.7,659.9 698.0,658.8 698.2,657.8 698.4,656.7 698.6,655.7 698.8,654.7 699.1,653.3 699.4,651.9 699.7,650.5 699.9,649.0 700.2,647.5 700.5,646.0 700.8,644.6 701.1,643.1 701.4,641.7 701.7,640.3 702.0,639.0 702.3,637.6 702.6,636.4 702.8,635.1 703.1,634.0 703.4,632.9 703.7,631.9 704.0,630.9 704.2,630.2 704.5,629.3 704.8,628.8 705.1,628.2 705.3,628.0 705.6,627.4 706.0,628.7 706.4,626.8 706.8,628.1 707.1,628.4 707.5,629.5 707.9,630.3 708.3,631.5 708.6,632.7 709.0,634.2 709.3,635.7 709.7,637.2 710.0,638.8 710.4,640.4 710.7,641.9 711.1,643.5 711.4,645.0 711.6,646.0 711.8,646.9 712.0,647.8 712.2,648.8 712.5,649.8 712.7,650.8 712.9,651.8 713.1,652.8 713.3,653.8 713.5,654.9 713.7,656.0 713.9,657.1 714.1,658.2 714.3,659.4 714.5,660.6 714.6,661.7 714.8,663.0 715.0,664.2 715.2,665.5 715.4,666.9 715.6,668.2 715.8,669.6 715.9,671.0 716.1,672.5 716.3,674.0 716.4,675.0 716.5,676.1 716.6,677.2 716.7,678.4 716.8,679.7 716.9,681.0 717.0,682.3 717.1,683.8 717.2,685.2 717.3,686.7 717.4,688.2 717.5,689.7 717.6,691.3 717.7,692.9 717.8,694.4 717.9,696.0 718.0,697.6 718.1,699.2 718.2,700.7 718.3,702.3 718.4,703.8 718.5,705.2 718.6,706.7 718.7,708.1 718.8,709.5 718.9,710.8 719.0,712.0 719.1,713.2 719.2,714.4 719.3,715.4 719.3,716.4 719.4,717.3 719.5,718.1 719.6,718.9 719.7,719.5 719.8,720.0 719.9,720.4 720.0,720.9 720.1,720.6 720.2,722.2 720.3,720.8 720.4,720.8 720.5,720.4 720.6,720.1 720.7,719.6 720.8,719.1 720.9,718.4 721.0,717.6 721.1,716.8 721.2,715.9 721.3,714.9 721.4,713.9 721.5,712.7 721.6,711.6 721.7,710.3 721.8,709.0 721.9,707.7 722.0,706.3 722.1,704.9 722.2,703.5 722.3,702.0 722.4,700.5 722.5,698.9 722.6,697.4 722.7,695.8 722.8,694.3 722.9,692.7 723.0,691.2 723.1,689.6 723.2,688.0 723.3,686.5 723.4,685.0 723.4,683.5 723.5,682.0 723.6,680.6 723.7,679.2 723.8,677.8 723.9,676.5 723.9,675.2 724.0,674.0 724.1,672.8 724.1,671.7 724.2,670.5 724.3,669.3 724.3,668.1 724.4,666.9 724.4,665.7 724.5,664.5 724.5,663.3 724.6,662.1 724.6,660.9 724.7,659.7 724.7,658.5 724.8,657.2 724.8,656.0 724.9,654.8 724.9,653.6 725.0,652.4 725.0,651.2 725.0,649.9 725.1,648.7 725.1,647.5 725.2,646.3 725.2,645.1 725.2,643.9 725.3,642.7 725.3,641.5 725.4,640.4 725.4,639.2 725.4,638.0 725.5,636.8 725.5,635.7 725.6,634.5 725.6,633.4 725.7,632.3 725.7,631.2 725.8,630.0 725.8,628.9 725.9,627.8 725.9,626.8 726.0,625.7 726.1,624.4 726.1,623.1 726.2,621.8 726.3,620.5 726.4,619.2 726.4,617.9 726.5,616.6 726.6,615.3 726.7,614.0 726.8,612.7 726.8,611.5 726.9,610.2 727.0,609.0 727.1,607.8 727.2,606.5 727.2,605.3 727.3,604.1 727.4,603.0 727.5,601.8 727.6,600.6 727.7,599.5 727.8,598.3 727.9,597.2 727.9,596.1 728.0,595.0 728.1,593.9 728.2,592.9 728.3,591.8 728.5,590.8 728.6,589.8 728.7,588.8 728.8,587.8 728.9,586.9 729.1,585.4 729.3,583.9 729.5,582.5 729.6,581.2 729.8,579.8 730.0,578.6 730.2,577.4 730.4,576.2 730.6,575.0 730.8,573.9 731.0,572.8 731.2,571.8 731.4,570.7 731.7,569.7 732.0,568.6 732.3,567.7 732.6,566.6 732.9,565.7 733.3,564.6 733.7,563.7 734.2,562.4 734.6,561.5 735.1,560.2 735.7,559.3 736.2,558.1 736.8,557.3 737.4,556.0 738.0,555.4 738.6,554.2 739.2,553.5 739.9,552.3 740.6,551.8 741.3,550.3 742.1,550.1 742.8,548.4 743.6,548.2 744.5,546.9 745.3,546.5 746.1,545.2 746.9,545.2 747.8,543.5 748.7,543.6 749.7,541.8 750.7,542.1 751.7,540.2 752.7,540.3 753.7,538.9 754.8,538.9 755.8,537.1 756.9,537.6 757.9,536.0 758.9,536.3 760.0,534.3 761.0,535.3 761.9,533.4 762.9,534.6 763.8,532.5 764.7,533.3 765.9,531.0 766.9,532.4 767.8,530.5 768.6,532.6 769.3,529.9 770.1,532.1 770.9,530.0 771.8,531.1 772.9,529.9 774.3,531.8 775.8,528.5 777.7,532.0 780.0,528.5 780.8,530.9 781.7,528.4 782.6,531.0 783.5,529.0 784.6,530.2 785.6,528.1 786.7,530.5 787.8,528.2 789.0,530.8 790.2,528.7 791.4,529.8 792.6,528.7 793.9,530.4 795.2,528.3 796.5,529.7 797.8,528.2 799.2,530.3 800.5,528.0 801.9,530.8 803.2,527.5 804.6,530.6 806.0,526.9 807.4,529.3 808.7,527.5 810.1,530.3 811.4,526.7 812.8,529.7 814.1,527.3 815.4,529.1 816.7,527.2 818.0,528.4 819.2,526.7 820.5,528.8 821.7,526.0 822.8,528.0 824.0,527.1 825.0,528.2 826.1,525.7 827.1,528.2 828.1,525.7 829.0,528.7 830.6,525.9 832.1,528.2 833.4,525.2 834.6,527.6 835.8,525.2 836.8,527.1 837.8,524.6 838.7,526.6 839.6,523.8 840.5,526.1 841.3,523.7 842.1,525.5 843.0,522.4 843.9,524.3 844.8,522.0 845.8,524.4 846.8,521.7 848.0,523.6 849.2,521.0 850.5,523.2 852.0,520.5 853.6,522.0 854.5,520.7 855.4,523.1 856.4,520.0 857.4,522.8 858.4,519.6 859.4,522.2 860.5,519.6 861.6,522.2 862.7,519.2 863.9,521.8 865.0,519.0 866.2,521.4 867.4,518.4 868.6,521.1 869.8,518.4 871.0,519.9 872.3,518.2 873.5,520.3 874.8,517.4 876.1,519.7 877.4,517.0 878.6,520.3 879.9,517.8 881.2,518.9 882.5,517.3 883.8,520.1 885.0,516.8 886.3,519.5 887.6,516.5 888.8,519.6 890.1,517.2 891.3,518.2 892.5,515.8 893.7,518.4 894.9,516.7 896.1,518.6 897.2,515.4 898.4,518.0 899.5,515.9 900.6,518.3 901.7,516.2 902.7,518.4 904.0,515.3 905.4,518.0 906.7,515.9 908.0,518.0 909.4,515.6 910.7,517.0 912.0,514.6 913.3,517.5 914.5,515.5 915.8,517.5 917.1,515.0 918.3,517.7 919.5,514.6 920.8,517.2 922.0,515.1 923.2,516.8 924.3,514.7 925.5,517.5 926.7,514.6 927.8,516.6 928.9,514.5 930.0,516.4 931.1,514.3 932.2,517.2 933.2,514.8 934.2,515.9 935.3,514.2 936.2,517.2 937.2,514.6 938.2,516.7 939.1,513.5 940.0,516.0 941.6,513.1 943.1,516.7 944.6,514.3 945.9,515.9 947.1,513.5 948.3,516.2 949.4,513.3 950.5,515.3 951.5,513.6 952.6,515.8 953.6,512.8 954.6,515.8 955.6,512.5 956.6,515.5 957.7,512.1 958.8,514.3 960.0,513.0 961.2,514.0 962.3,512.2 963.6,515.1 964.8,512.4 966.0,513.6 967.3,512.3 968.6,513.9 969.8,511.3 971.1,514.1 972.3,510.9 973.5,513.1 974.7,510.4 975.9,512.6 977.0,510.2 978.1,513.5 979.1,510.0 980.1,512.8 981.0,511.4 982.5,512.6 983.9,511.5 985.1,513.1 986.2,511.6 987.2,514.8 988.2,512.5 989.1,514.4 990.1,513.3 991.0,515.2 992.0,513.7 993.2,516.8 994.3,514.0 995.5,516.8 996.6,514.3 997.7,516.9 998.8,515.8 999.8,517.4 1000.7,516.1 1001.5,517.8 1002.6,517.4 1003.5,519.3 1004.1,519.3 1004.8,521.0 1005.7,519.1 1006.6,521.6 1007.5,519.5 1008.5,520.1 1009.5,517.8 1010.7,518.2 1012.0,516.0 1012.9,518.9 1013.8,515.4 1014.8,518.9 1015.8,516.8 1016.9,518.8 1018.0,517.0 1019.3,518.8 1020.6,516.3 1022.0,518.2 1022.9,516.4 1023.9,517.1 1025.0,515.8 1026.0,516.3 1027.2,515.1 1028.3,515.3 1029.5,514.1 1030.7,515.2 1031.9,512.1 1033.1,514.1 1034.2,511.2 1035.4,513.7 1036.5,510.4 1037.5,512.7 1038.5,510.1 1039.7,513.8 1040.8,512.2 1041.9,514.0 1042.9,513.3 1043.9,515.0 1044.9,514.8 1045.9,516.8 1046.9,516.7 1047.8,518.3 1048.8,517.5 1049.8,518.8 1050.8,517.5 1051.7,518.3 1052.5,517.2 1053.3,517.1 1054.2,515.7 1055.0,515.3 1055.8,513.9 1056.6,513.4 1057.5,511.7 1058.3,511.3 1059.2,509.2 1060.1,509.7 1061.0,507.4 1062.0,508.6 1063.0,505.1 1064.1,507.4 1065.2,504.0 1066.4,507.7 1067.7,503.5 1069.0,509.1 1070.3,502.9 1071.7,506.4 1073.0,504.3 1074.2,507.3 1075.5,503.0 1076.6,508.1 1077.7,502.3 1078.6,506.1 1079.5,502.9 1080.9,505.8 1082.0,502.7 1082.8,503.5 1083.4,502.2 1084.0,502.3 1084.5,500.8 1085.0,500.2 1085.4,499.0 1085.8,497.8 1086.1,496.2 1086.4,494.8 1086.7,493.3 1086.9,492.1 1087.2,490.9 1087.4,490.7 1087.7,487.9 1087.9,491.2 1088.1,491.1 1088.2,491.9 1088.4,492.6 1088.6,493.6 1088.8,494.6 1088.9,495.9 1089.1,497.1 1089.3,498.6 1089.4,500.0 1089.6,501.6 1089.8,503.3 1090.0,505.0 1090.1,505.9 1090.2,507.0 1090.3,508.2 1090.4,509.5 1090.5,510.8 1090.6,512.2 1090.7,513.7 1090.9,515.3 1091.0,516.8 1091.1,518.4 1091.2,520.0 1091.3,521.6 1091.4,523.2 1091.5,524.7 1091.7,526.2 1091.8,527.6 1091.9,529.0 1092.0,530.3 1092.1,531.4 1092.2,532.5 1092.4,533.4 1092.5,534.2 1092.6,534.8 1092.7,535.4 1092.8,535.3 1092.9,537.5 1093.0,535.3 1093.1,535.3 1093.2,534.8 1093.3,534.1 1093.4,533.2 1093.5,532.3 1093.6,531.1 1093.7,529.9 1093.7,528.6 1093.8,527.2 1093.9,525.7 1094.0,524.1 1094.1,522.5 1094.2,520.9 1094.3,519.3 1094.4,517.7 1094.5,516.1 1094.6,514.5 1094.7,513.0 1094.8,511.5 1094.9,510.2 1095.0,508.9 1095.1,507.7 1095.2,506.7 1095.4,505.7 1095.5,505.1 1096.1,502.5 1096.7,501.9 1097.4,499.6 1098.2,504.1 1099.0,498.6 1100.0,501.6 1100.8,499.2 1101.7,500.4 1102.7,497.9 1103.7,500.1 1104.8,495.6 1105.9,499.4 1107.0,496.1 1108.2,500.4 1108.9,498.7 1109.6,500.6 1110.3,500.5 1111.0,502.0 1111.7,502.3 1112.5,504.0 1113.2,504.5 1114.0,506.6 1114.7,506.7 1115.5,508.5 1116.3,508.4 1117.0,510.8 1117.8,509.8 1118.5,512.1 1119.5,510.1 1120.5,512.4 1121.4,510.2 1122.3,511.6 1123.3,508.4 1124.2,509.7 1125.3,507.1 1126.3,508.6 1127.5,505.7 1128.8,509.9 1129.7,504.1 1130.7,509.9 1131.8,506.2 1132.9,508.8 1134.1,506.2 1135.3,510.1 1136.5,507.4 1137.7,510.6 1138.9,508.3 1140.1,512.4 1141.3,509.2 1142.3,511.1 1143.4,507.9 1144.3,513.2 1145.2,508.1 1146.6,513.2 1147.8,509.9 1148.9,513.3 1149.8,510.0 1150.7,511.9 1151.5,508.3 1152.4,510.1 1153.4,508.7 1154.2,509.1 1155.0,506.8 1155.8,507.7 1156.7,505.9 1157.6,505.8 1158.4,504.0 1159.2,503.5 1160.0,502.0 1160.7,502.2 1161.4,500.3 1162.0,500.3 1162.8,498.4 1163.4,497.6 1163.9,496.1 1164.3,495.8 1164.9,493.8 1165.7,497.1 1166.3,494.2 1166.9,495.8 1167.4,496.1 1168.1,497.8 1168.8,498.3 1169.5,500.2 1170.4,500.3 1171.4,502.0 1172.6,501.5 1173.9,504.0 1174.7,501.8 1175.7,504.3 1176.7,500.9 1177.8,505.1 1178.9,499.6 1180.1,505.0 1181.4,501.3 1182.6,503.3 1183.9,499.7 1185.2,502.9 1186.5,500.8 1187.7,502.3 1189.0,499.3 1190.2,502.2 1191.3,499.2 1192.4,501.7 1193.4,498.6 1194.4,501.7 1195.8,499.9 1197.0,502.3 1198.1,499.4 1199.1,504.0 1200.1,501.3 1201.0,503.5 1202.0,502.1 1203.0,505.3 1204.1,503.0 1205.3,506.3 1206.7,503.0 1207.6,506.1 1208.6,504.2 1209.6,506.7 1210.7,505.6 1211.8,508.0 1212.9,505.3 1214.1,509.5 1215.2,507.1 1216.4,508.7 1217.6,507.2 1218.8,509.2 1220.1,507.7 1221.3,510.6 1222.5,508.2 1223.7,511.0 1224.9,509.6 1226.0,511.7 1227.2,509.2 1228.3,512.7 1229.5,510.8 1230.6,512.2 1231.7,510.8 1232.9,512.5 1234.0,511.1 1235.1,512.7 1236.3,510.9 1237.4,513.9 1238.5,511.2 1239.7,513.3 1240.8,510.6 1242.0,513.2 1243.1,511.6 1244.3,514.0 1245.4,512.1 1246.6,514.6 1247.8,512.1 1249.0,514.2 1250.1,511.7 1251.4,514.4 1252.6,512.0 1253.9,514.9 1255.2,512.8 1256.5,515.9 1257.8,513.6 1259.1,516.1 1260.4,513.5 1261.7,515.4 1262.9,513.5 1264.1,515.9 1265.2,514.0 1266.3,515.9 1267.4,514.9 1268.3,517.0 1269.2,514.2 1270.0,516.7 1271.9,513.6 1273.0,516.5 1273.6,513.8 1274.2,515.9 1275.0,512.9 1276.5,515.8 1277.3,513.4 1278.3,516.0 1279.3,514.3 1280.4,517.3 1281.6,515.6 1282.8,517.8 1284.0,516.2 1285.3,518.2 1286.5,517.5 1287.7,519.4 1288.9,518.0 1290.1,520.8 1291.1,519.9 1292.1,521.6 1293.0,521.0 1294.1,522.6 1295.1,522.5 1295.9,524.1 1296.8,523.8 1297.5,525.3 1298.2,525.4 1298.9,526.7 1299.5,527.4 1300.1,528.7 1300.7,529.7 1301.3,531.4 1301.6,532.0 1301.9,532.9 1302.2,533.7 1302.4,534.6 1302.7,535.4 1302.9,536.4 1303.2,537.2 1303.4,538.2 1303.7,539.1 1303.9,540.2 1304.1,541.2 1304.3,542.3 1304.5,543.4 1304.7,544.6 1304.9,545.8 1305.1,547.2 1305.3,548.5 1305.5,549.9 1305.7,551.3 1305.9,552.9 1306.1,554.4 1306.3,556.1 1306.4,557.0 1306.5,557.9 1306.6,558.9 1306.7,559.9 1306.8,560.9 1306.9,561.9 1306.9,562.9 1307.0,564.0 1307.1,565.1 1307.2,566.2 1307.3,567.3 1307.4,568.5 1307.4,569.6 1307.5,570.8 1307.6,572.0 1307.7,573.2 1307.8,574.4 1307.8,575.6 1307.9,576.9 1308.0,578.1 1308.1,579.3 1308.1,580.6 1308.2,581.9 1308.3,583.1 1308.3,584.4 1308.4,585.7 1308.5,587.0 1308.6,588.2 1308.6,589.5 1308.7,590.8 1308.8,592.1 1308.9,593.4 1308.9,594.6 1309.0,595.9 1309.1,597.1 1309.1,598.4 1309.2,599.6 1309.3,600.9 1309.4,602.1 1309.4,603.3 1309.5,604.5 1309.6,605.7 1309.7,606.9 1309.8,608.1 1309.8,609.2 1309.9,610.4 1310.0,611.6 1310.1,612.8 1310.2,614.0 1310.2,615.2 1310.3,616.3 1310.4,617.5 1310.5,618.7 1310.6,619.9 1310.6,621.1 1310.7,622.2 1310.8,623.4 1310.9,624.6 1311.0,625.8 1311.1,627.0 1311.1,628.1 1311.2,629.3 1311.3,630.5 1311.4,631.7 1311.5,632.9 1311.5,634.0 1311.6,635.2 1311.7,636.4 1311.8,637.6 1311.9,638.8 1311.9,639.9 1312.0,641.1 1312.1,642.3 1312.2,643.5 1312.2,644.7 1312.3,645.9 1312.4,647.0 1312.5,648.2 1312.5,649.4 1312.6,650.6 1312.7,651.8 1312.8,652.9 1312.8,654.1 1312.9,655.3 1313.0,656.5 1313.0,657.7 1313.1,658.8 1313.2,660.0 1313.2,661.2 1313.3,662.3 1313.4,663.5 1313.4,664.6 1313.5,665.8 1313.6,666.9 1313.6,668.1 1313.7,669.3 1313.7,670.4 1313.8,671.6 1313.9,672.7 1313.9,673.9 1314.0,675.0 1314.0,676.2 1314.1,677.3 1314.1,678.5 1314.2,679.6 1314.3,680.8 1314.3,682.0 1314.4,683.1 1314.4,684.3 1314.5,685.5 1314.5,686.6 1314.6,687.8 1314.7,689.0 1314.7,690.2 1314.8,691.4 1314.8,692.6 1314.9,693.8 1314.9,695.0 1315.0,696.2 1315.0,697.4 1315.1,698.6 1315.2,699.9 1315.2,701.1 1315.3,702.4 1315.3,703.6 1315.4,704.9 1315.5,706.0 1315.5,707.2 1315.6,708.5 1315.6,709.8 1315.7,711.1 1315.7,712.5 1315.8,713.9 1315.8,715.3 1315.9,716.8 1315.9,718.3 1316.0,719.8 1316.0,721.3 1316.1,722.9 1316.1,724.4 1316.2,726.0 1316.2,727.6 1316.3,729.2 1316.3,730.8 1316.4,732.4 1316.4,733.9 1316.5,735.5 1316.5,737.1 1316.6,738.6 1316.6,740.1 1316.7,741.6 1316.7,743.1 1316.8,744.5 1316.8,745.9 1316.9,747.3 1316.9,748.6 1317.0,749.9 1317.0,751.1 1317.1,752.3 1317.1,753.5 1317.2,754.6 1317.2,755.6 1317.3,756.5 1317.3,757.4 1317.4,758.3 1317.4,759.0 1317.5,759.7 1317.5,760.3 1317.6,760.8 1317.7,761.2 1317.7,761.5 1317.8,761.8 1317.8,761.9 1317.9,763.3 1318.0,761.8 1318.0,761.9 1318.1,761.5 1318.1,761.2 1318.2,760.8 1318.3,760.3 1318.3,759.7 1318.4,759.0 1318.5,758.3 1318.6,757.4 1318.6,756.5 1318.7,755.6 1318.8,754.6 1318.8,753.5 1318.9,752.3 1319.0,751.1 1319.0,749.9 1319.1,748.6 1319.2,747.3 1319.3,745.9 1319.3,744.5 1319.4,743.1 1319.5,741.6 1319.6,740.1 1319.6,738.6 1319.7,737.1 1319.8,735.5 1319.8,733.9 1319.9,732.4 1320.0,730.8 1320.1,729.2 1320.1,727.6 1320.2,726.0 1320.3,724.4 1320.3,722.9 1320.4,721.3 1320.5,719.8 1320.6,718.3 1320.6,716.8 1320.7,715.3 1320.8,713.9 1320.8,712.5 1320.9,711.1 1321.0,709.8 1321.0,708.5 1321.1,707.2 1321.1,706.0 1321.2,704.9 1321.3,703.6 1321.3,702.4 1321.4,701.1 1321.5,699.9 1321.5,698.6 1321.6,697.4 1321.7,696.2 1321.7,695.0 1321.8,693.8 1321.8,692.6 1321.9,691.4 1321.9,690.2 1322.0,689.0 1322.1,687.8 1322.1,686.6 1322.2,685.5 1322.2,684.3 1322.3,683.1 1322.3,682.0 1322.4,680.8 1322.5,679.6 1322.5,678.5 1322.6,677.3 1322.6,676.2 1322.7,675.0 1322.7,673.9 1322.8,672.7 1322.8,671.6 1322.9,670.4 1322.9,669.3 1323.0,668.1 1323.0,666.9 1323.1,665.8 1323.1,664.6 1323.2,663.5 1323.3,662.3 1323.3,661.2 1323.4,660.0 1323.4,658.8 1323.5,657.7 1323.5,656.5 1323.6,655.3 1323.7,654.1 1323.7,652.9 1323.8,651.7 1323.8,650.6 1323.9,649.4 1323.9,648.2 1324.0,647.0 1324.1,645.8 1324.1,644.6 1324.2,643.4 1324.2,642.2 1324.3,641.0 1324.3,639.8 1324.4,638.6 1324.5,637.4 1324.5,636.3 1324.6,635.1 1324.6,633.9 1324.7,632.7 1324.7,631.5 1324.8,630.3 1324.9,629.1 1324.9,627.9 1325.0,626.7 1325.0,625.5 1325.1,624.4 1325.1,623.2 1325.2,622.0 1325.3,620.8 1325.3,619.6 1325.4,618.5 1325.4,617.3 1325.5,616.1 1325.6,614.9 1325.6,613.8 1325.7,612.6 1325.8,611.5 1325.8,610.3 1325.9,609.1 1326.0,608.0 1326.0,606.8 1326.1,605.7 1326.2,604.5 1326.2,603.2 1326.3,602.0 1326.4,600.7 1326.5,599.4 1326.5,598.1 1326.6,596.8 1326.7,595.5 1326.8,594.2 1326.8,592.9 1326.9,591.6 1327.0,590.3 1327.1,589.0 1327.2,587.7 1327.2,586.4 1327.3,585.2 1327.4,583.9 1327.5,582.6 1327.6,581.3 1327.6,580.1 1327.7,578.8 1327.8,577.6 1327.9,576.3 1328.0,575.1 1328.1,573.9 1328.1,572.8 1328.2,571.6 1328.3,570.4 1328.4,569.3 1328.5,568.2 1328.6,567.1 1328.7,566.1 1328.8,565.0 1328.9,564.0 1329.0,563.0 1329.1,562.1 1329.2,561.2 1329.3,560.3 1329.4,559.4 1329.6,557.6 1329.8,556.0 1330.1,554.5 1330.3,553.0 1330.5,551.7 1330.7,550.4 1330.9,549.3 1331.1,548.2 1331.4,547.3 1331.6,546.2 1331.9,545.4 1332.2,544.4 1332.5,543.7 1332.8,542.7 1333.2,542.1 1333.5,541.1 1334.0,540.6 1334.4,539.4 1335.0,538.7 1335.6,537.3 1336.3,536.7 1336.9,535.5 1337.6,534.9 1338.3,533.8 1339.1,533.4 1339.9,532.4 1340.9,532.6 1342.0,530.8 1343.2,531.1 1344.5,529.5 1346.0,530.5 1346.9,528.8 1347.8,529.9 1348.8,527.6 1349.9,529.2 1351.0,527.8 1352.2,529.0 1353.4,527.2 1354.6,529.6 1355.9,526.4 1357.2,528.8 1358.5,526.3 1359.9,527.9 1361.2,526.9 1362.6,528.1 1363.9,525.8 1365.2,528.2 1366.5,525.4 1367.8,528.2 1369.1,526.3 1370.3,528.6 1371.5,525.4 1372.6,527.8 1373.7,524.7 1374.7,527.0 1375.7,524.5 1377.3,527.4 1378.7,525.4 1380.0,527.2 1381.1,526.0 1382.2,527.3 1383.3,525.5 1384.3,528.6 1385.2,525.4 1386.2,528.8 1387.3,525.8 1388.4,528.7 1389.5,526.4 1390.8,528.6 1392.2,526.0 1393.2,527.6 1394.3,526.3 1395.4,528.0 1396.5,526.0 1397.7,528.4 1398.9,525.1 1400.2,528.0 1401.4,525.7 1402.7,526.5 1404.0,524.9 1405.2,526.7 1406.5,524.3 1407.8,526.1 1409.0,523.9 1410.3,526.2 1411.5,524.7 1412.7,525.4 1413.8,522.9 1414.9,525.2 1416.0,523.7 1417.0,525.2 1418.5,524.1 1419.9,526.6 1421.3,523.3 1422.6,526.7 1423.9,523.2 1425.1,525.5 1426.3,523.8 1427.5,525.9 1428.6,524.7 1429.7,526.4 1430.7,524.5 1431.7,526.3 1432.7,525.8 1433.6,527.6 1435.0,526.5 1436.2,528.0 1437.1,527.7 1438.0,529.2 1438.8,529.0 1439.7,530.4 1440.7,530.3 1441.8,532.5 1442.8,530.6 1443.8,533.3 1444.9,531.6 1446.0,533.3 1447.2,531.0 1448.4,534.1 1449.5,532.2 1450.6,534.5 1451.7,532.5 1452.6,534.7 1453.4,533.8 1454.2,535.4 1454.8,535.7 1455.4,536.7 1455.8,537.1 1456.3,538.1 1456.7,538.9 1457.0,540.0 1457.4,541.2 1457.8,542.8 1458.3,544.5 1458.5,545.3 1458.7,546.2 1458.9,547.1 1459.1,548.0 1459.4,549.1 1459.6,550.1 1459.8,551.2 1460.0,552.3 1460.2,553.5 1460.5,554.6 1460.7,555.9 1460.9,557.1 1461.1,558.4 1461.3,559.6 1461.5,560.9 1461.8,562.2 1462.0,563.5 1462.2,564.8 1462.4,566.1 1462.6,567.4 1462.8,568.7 1462.9,570.0 1463.1,571.3 1463.3,572.6 1463.4,573.7 1463.6,574.8 1463.7,576.0 1463.9,577.2 1464.0,578.4 1464.1,579.6 1464.3,580.9 1464.4,582.1 1464.5,583.4 1464.6,584.7 1464.7,586.0 1464.9,587.2 1465.0,588.5 1465.1,589.8 1465.2,591.1 1465.3,592.3 1465.4,593.6 1465.5,594.8 1465.6,596.0 1465.7,597.2 1465.8,598.4 1465.9,599.5 1466.1,600.6 1466.2,601.7 1466.3,602.8 1466.4,603.8 1466.5,604.8 1466.6,605.7 1466.8,607.3 1467.0,608.8 1467.1,610.4 1467.3,611.9 1467.5,613.4 1467.7,614.7 1467.8,616.1 1468.0,617.3 1468.2,618.5 1468.3,619.6 1468.5,620.6 1468.7,621.4 1468.9,622.2 1469.1,622.7 1469.3,623.3 1469.5,623.2 1469.9,624.8 1470.3,622.9 1470.7,622.8 1471.1,621.6 1471.6,620.6 1472.0,619.2 1472.5,617.7 1472.9,616.1 1473.4,614.6 1473.8,613.0 1474.0,612.1 1474.3,611.1 1474.5,610.1 1474.7,608.9 1474.9,607.8 1475.2,606.6 1475.4,605.4 1475.6,604.2 1475.8,602.9 1476.0,601.7 1476.3,600.5 1476.5,599.2 1476.7,598.1 1476.9,596.9 1477.2,595.8 1477.4,594.8 1477.7,593.8 1478.1,592.4 1478.5,591.3 1478.9,590.0 1479.3,588.9 1479.7,587.7 1480.2,586.8 1480.6,585.6 1481.1,584.8 1481.5,583.6 1481.9,582.9 1482.4,581.9 1482.8,581.2 1483.4,579.7 1484.1,578.8 1484.7,577.5 1485.4,576.9 1486.0,575.7 1486.6,575.7 1487.3,574.0 1487.9,574.8 1488.9,572.8 1489.9,575.1 1491.0,572.6 1492.0,574.2 1493.0,572.5 1493.5,572.4 1494.0,571.0 1494.5,570.0 1495.0,568.6 1495.5,567.4 1496.1,565.9 1496.6,564.9 1497.1,563.6 1497.6,563.3 1498.1,561.9 1499.0,563.5 1499.8,561.0 1500.7,563.4 1501.6,563.5 1502.4,565.3 1503.2,566.9 1503.4,567.8 1503.7,568.7 1503.9,569.7 1504.1,570.8 1504.3,572.0 1504.5,573.3 1504.7,574.6 1504.8,576.0 1505.0,577.4 1505.2,578.7 1505.4,580.1 1505.6,581.4 1505.8,582.6 1506.0,583.8 1506.2,584.9 1506.5,585.8 1506.7,586.8 1507.0,587.2 1507.9,589.3 1508.9,589.3 1510.0,592.0 1511.1,589.2 1512.2,590.8 1513.4,588.5 1514.0,589.3 1514.5,587.9 1515.0,587.6 1515.5,586.5 1516.1,585.8 1516.6,584.6 1517.2,583.8 1517.8,582.4 1518.5,581.7 1519.3,580.1 1520.1,579.9 1521.1,578.1 1521.8,578.0 1522.6,576.9 1523.4,576.6 1524.3,575.5 1525.1,575.1 1526.1,573.5 1527.0,573.8 1528.0,572.3 1529.0,571.9 1530.0,570.7 1531.0,571.2 1532.1,568.7 1533.2,570.3 1534.3,568.1 1535.4,569.8 1536.5,566.2 1537.6,568.3 1538.6,566.5 1539.7,568.2 1540.9,567.1 1542.1,568.8 1543.3,567.0 1544.5,569.0 1545.8,566.7 1547.1,569.4 1548.4,568.0 1549.6,570.4 1550.9,568.7 1552.1,571.0 1553.3,570.2 1554.5,572.0 1555.6,570.7 1556.6,572.4 1557.6,572.0 1558.5,574.0 1559.3,572.5 1560.5,574.9 1561.6,574.6 1562.4,576.3 1563.1,576.7 1563.7,578.2 1564.3,579.0 1564.8,580.2 1565.3,580.9 1565.8,582.2 1566.4,582.7 1567.0,584.1 1568.0,584.4 1569.0,585.9 1569.9,585.5 1570.9,587.2 1571.9,586.7 1572.9,588.2 1573.8,587.4 1574.7,589.8 1575.8,588.4 1576.9,590.4 1578.0,587.3 1579.0,590.4 1580.0,588.6 1581.0,590.5 1581.6,590.4 1582.1,591.8 1582.6,592.7 1583.1,594.0 1583.6,595.1 1584.1,596.5 1584.6,597.5 1585.1,598.9 1585.6,599.4 1586.1,600.9 1587.1,600.3 1588.1,601.6 1589.0,599.5 1590.1,601.0 1591.3,599.4 1592.1,599.9 1593.0,598.1 1593.9,598.0 1594.9,596.3 1595.8,596.1 1596.9,594.2 1597.9,596.1 1598.9,593.4 1599.8,595.2 1600.8,593.5 1601.8,595.9 1602.8,594.8 1603.8,596.8 1604.8,596.5 1605.8,598.2 1606.8,598.8 1607.8,600.6 1608.4,600.6 1608.9,601.9 1609.5,602.7 1610.1,603.9 1610.7,604.6 1611.3,606.0 1611.9,606.9 1612.5,608.2 1613.1,609.3 1613.7,610.6 1614.3,611.5 1614.8,612.9 1615.4,613.8 1615.9,615.0 1616.3,615.8 1616.8,616.9 1617.4,617.9 1617.9,619.1 1618.4,619.9 1618.8,621.0 1619.2,621.7 1619.5,622.7 1619.9,623.4 1620.3,624.5 1620.8,625.5 1621.3,626.9 1621.9,628.2 1622.2,629.3 1622.6,630.1 1623.0,631.3 1623.4,632.3 1623.8,633.6 1624.3,634.8 1624.7,636.2 1625.2,637.5 1625.6,638.9 1626.1,640.1 1626.6,641.5 1627.1,642.8 1627.5,644.1 1628.0,645.3 1628.4,646.5 1628.9,647.5 1629.3,648.6 1629.7,649.2 1630.1,650.2 1630.5,650.6 1630.8,651.4 1631.7,650.7 1632.5,652.6 1633.3,651.4 1633.9,650.6 1634.6,648.9 1635.2,647.1 1635.9,644.8 1636.1,644.2 1636.4,643.3 1636.6,642.4 1636.8,641.4 1637.0,640.4 1637.3,639.3 1637.5,638.2 1637.7,637.0 1637.9,635.8 1638.1,634.5 1638.4,633.3 1638.6,632.0 1638.8,630.7 1639.0,629.4 1639.3,628.1 1639.5,626.8 1639.8,625.5 1640.0,624.2 1640.2,623.0 1640.5,621.7 1640.7,620.5 1641.0,619.3 1641.3,618.1 1641.5,616.8 1641.8,615.6 1642.1,614.2 1642.4,612.8 1642.7,611.4 1643.0,610.0 1643.3,608.6 1643.7,607.2 1644.0,605.8 1644.3,604.4 1644.6,603.0 1644.9,601.8 1645.2,600.5 1645.5,599.4 1645.8,598.3 1646.1,597.3 1646.4,596.3 1646.6,595.6 1646.9,594.7 1647.2,594.3 1647.4,593.6 1647.9,593.7 1648.4,592.8 1648.8,593.9 1649.1,594.7 1649.5,596.0 1649.8,597.5 1650.2,599.3 1650.7,601.0 1651.2,602.7 1651.5,603.5 1651.8,604.5 1652.1,605.5 1652.4,606.8 1652.8,607.9 1653.1,609.3 1653.5,610.5 1653.8,611.9 1654.2,613.1 1654.6,614.5 1655.0,615.8 1655.3,617.1 1655.7,618.3 1656.0,619.5 1656.4,620.5 1656.7,621.6 1657.0,622.4 1657.3,623.2 1657.6,623.5 1658.6,625.8 1659.4,624.9 1660.2,625.6 1661.4,623.0 1661.7,622.8 1662.1,621.7 1662.5,621.1 1662.8,620.0 1663.3,619.1 1663.7,617.9 1664.1,616.9 1664.6,615.6 1665.0,614.5 1665.5,613.1 1665.9,612.0 1666.4,610.6 1666.9,609.5 1667.3,608.2 1667.8,607.1 1668.2,606.0 1668.7,605.0 1669.1,603.9 1669.6,602.9 1670.2,601.4 1670.7,600.3 1671.2,598.8 1671.7,597.7 1672.3,596.2 1672.8,595.1 1673.3,593.8 1673.9,593.1 1674.4,591.9 1675.0,591.5 1675.6,590.3 1676.2,590.7 1676.8,588.1 1677.5,590.5 1678.2,589.4 1679.0,591.4 1679.8,591.4 1680.6,592.6 1681.4,593.3 1682.2,594.6 1683.1,595.5 1683.9,597.1 1684.7,598.0 1685.5,599.5 1686.3,600.3 1687.0,601.7 1687.7,602.2 1688.4,603.7 1689.1,604.5 1689.8,605.9 1690.5,606.9 1691.2,608.3 1691.9,609.2 1692.5,610.7 1693.2,611.4 1693.8,612.7 1694.4,613.3 1694.9,614.5 1695.4,614.7 1695.9,615.8 1697.1,614.9 1698.0,617.1 1698.7,615.1 1699.7,613.1 1700.0,612.2 1700.3,611.6 1700.7,610.6 1701.0,609.7 1701.4,608.5 1701.8,607.4 1702.2,606.1 1702.5,605.0 1702.9,603.6 1703.3,602.5 1703.7,601.1 1704.1,599.8 1704.5,598.5 1704.9,597.3 1705.3,596.0 1705.7,594.9 1706.1,593.7 1706.5,592.7 1706.9,591.4 1707.3,590.2 1707.7,588.9 1708.1,587.7 1708.4,586.3 1708.8,585.2 1709.2,583.8 1709.6,582.7 1710.0,581.5 1710.4,580.6 1710.8,579.4 1711.2,578.7 1711.6,577.7 1712.1,577.4 1712.5,575.7 1713.5,576.9 1714.6,575.1 1715.7,577.5 1716.8,576.8 1718.0,579.3 1719.1,576.8 1720.2,578.9 1721.0,577.6 1721.9,578.2 1722.7,576.5 1723.5,576.6 1724.3,574.8 1725.1,574.4 1725.9,573.1 1726.8,572.4 1727.7,571.2 1728.4,570.7 1729.1,569.6 1729.8,569.0 1730.5,567.8 1731.2,567.5 1732.0,566.0 1732.7,565.8 1733.5,564.2 1734.3,563.8 1735.0,562.5 1735.8,562.1 1736.6,560.9 1737.4,560.6 1738.2,558.9 1739.0,558.4 1739.9,557.0 1740.7,556.5 1741.5,555.0 1742.4,554.7 1743.3,553.2 1744.1,553.3 1745.0,552.0 1745.9,553.7 1746.8,550.4 1747.6,552.7 1748.3,552.7 1749.1,554.0 1749.9,554.4 1750.7,555.9 1751.4,556.9 1752.2,558.5 1753.0,559.4 1753.9,560.9 1754.7,561.5 1755.6,563.1 1756.4,562.8 1757.4,564.2 1758.3,562.0 1759.0,564.3 1759.8,562.0 1760.6,563.2 1761.4,561.7 1762.2,561.3 1763.1,560.1 1763.9,559.6 1764.8,558.1 1765.7,557.4 1766.5,555.9 1767.4,555.4 1768.3,553.5 1769.1,553.1 1769.9,551.6 1770.7,551.1 1771.5,549.8 1772.2,549.6 1772.9,548.6 1773.6,548.6 1775.0,546.3 1776.3,548.6 1777.5,545.3 1778.6,547.9 1779.6,546.2 1780.6,548.2 1781.6,547.8 1782.5,549.2 1783.3,549.2 1784.0,550.4 1784.7,550.8 1785.3,552.1 1785.9,552.7 1786.6,554.0 1787.3,554.7 1788.0,556.3 1788.9,557.0 1789.6,558.2 1790.3,558.8 1791.0,560.0 1791.8,560.9 1792.5,562.3 1793.4,563.1 1794.2,564.6 1795.0,565.2 1795.8,566.5 1796.7,566.6 1797.5,568.3 1798.3,567.5 1799.1,569.1 1800.1,566.9 1801.2,569.2 1802.3,567.6 1803.4,567.9 1804.5,566.2 1805.6,566.3 1806.6,564.7 1807.6,565.2 1808.5,563.2 1809.3,565.1 1810.6,563.0 1811.6,565.1 1812.4,565.8 1813.3,567.2 1814.4,564.9 1814.9,566.1 1815.3,564.8 1815.8,564.1 1816.3,562.8 1816.9,561.8 1817.4,560.3 1817.9,559.2 1818.5,557.7 1819.1,556.6 1819.6,555.2 1820.2,554.5 1820.8,553.3 1821.5,553.1 1822.1,551.1 1823.1,552.1 1824.1,550.9 1825.2,553.3 1826.3,552.0 1827.5,554.1 1828.6,552.8 1829.8,555.9 1831.0,554.2 1832.3,556.7 1833.4,553.9 1834.5,555.9 1835.7,553.5 1837.0,555.8 1838.2,552.8 1839.5,555.5 1840.7,553.0 1841.9,554.9 1843.1,552.6 1844.1,554.4 1845.1,552.1 1846.3,554.8 1847.2,553.7 1848.1,554.8 1848.9,555.0 1849.7,556.2 1850.6,556.4 1851.5,557.8 1852.7,558.3 1853.5,559.6 1854.4,559.4 1855.4,561.1 1856.4,561.3 1857.5,563.1 1858.6,563.4 1859.6,565.1 1860.7,565.0 1861.8,566.8 1862.8,566.7 1863.8,568.6 1864.7,565.8 1865.5,568.1 1866.1,566.8 1866.7,566.6 1867.3,565.5 1867.8,564.8 1868.3,563.5 1868.8,562.5 1869.2,561.1 1869.7,559.8 1870.1,558.4 1870.5,557.2 1871.0,555.8 1871.4,554.6 1871.8,553.3 1872.3,552.5 1872.7,551.3 1873.2,551.1 1874.2,549.3 1875.2,549.4 1876.2,547.5 1877.2,549.5 1878.3,546.9 1879.4,549.0 1880.8,547.8 1881.7,549.4 1882.6,548.3 1883.5,549.7 1884.5,548.7 1885.5,550.5 1886.6,550.6 1887.6,551.7 1888.8,550.8 1889.9,552.9 1891.1,551.7 1892.3,554.7 1893.6,552.9 1894.7,554.3 1895.8,551.6 1896.9,555.3 1898.1,551.7 1899.3,554.5 1900.6,552.1 1901.9,554.3 1903.1,551.3 1904.4,553.7 1905.7,551.2 1906.9,553.0 1908.1,550.8 1909.2,552.5 1910.3,550.1 1911.4,552.6 1912.7,549.5 1913.9,551.2 1914.9,549.6 1915.9,551.2 1916.8,549.4 1917.8,550.6 1918.8,548.2 1919.9,550.1 1921.2,548.3 1922.6,550.6 1924.2,548.7 1925.1,551.0 1926.1,549.2 1927.1,551.6 1928.2,548.7 1929.3,551.7 1930.4,549.7 1931.6,551.5 1932.8,549.8 1934.1,553.0 1935.3,550.7 1936.6,553.8 1937.9,552.2 1939.2,554.1 1940.4,552.8 1941.7,553.9 1942.9,553.3 1944.1,555.5 1945.3,552.6 1946.5,554.8 1947.6,553.9 1948.7,555.6 1949.7,553.3 1951.1,556.2 1952.5,554.1 1953.8,556.4 1955.2,553.4 1956.6,555.4 1957.9,552.6 1959.2,555.0 1960.4,551.8 1961.6,553.6 1962.8,552.4 1963.9,553.0 1964.9,551.1 1965.8,553.6 1966.6,550.8 1967.4,552.4 1968.0,550.7" stroke="#f03b3f"/>
<path d="M143.0,277.2 143.6,278.7 144.3,277.3 145.0,278.8 145.8,277.6 146.6,278.6 147.5,277.1 148.4,278.7 149.4,277.3 150.4,278.2 151.5,277.4 152.5,278.8 153.7,277.6 154.8,278.2 156.0,277.0 157.2,278.3 158.5,277.5 159.8,278.2 161.1,276.9 162.5,278.2 163.8,277.2 165.2,278.3 166.6,276.9 168.0,278.2 169.5,277.4 171.0,278.2 172.4,277.4 173.9,277.8 175.4,277.2 176.9,278.2 178.5,277.1 180.0,278.2 181.0,277.2 182.0,277.7 183.0,277.3 184.0,278.1 185.1,276.6 186.2,277.7 187.3,277.0 188.4,277.5 189.5,276.7 190.6,277.7 191.8,277.0 192.9,277.9 194.1,276.6 195.3,277.7 196.5,276.9 197.7,277.8 198.9,276.5 200.1,277.6 201.4,276.7 202.6,277.9 203.9,276.2 205.1,277.6 206.4,276.0 207.6,277.5 208.9,276.4 210.1,277.1 211.4,276.2 212.7,277.4 213.9,276.3 215.2,277.7 216.5,276.0 217.7,277.0 219.0,275.9 220.2,276.9 221.5,276.0 222.7,277.1 223.9,276.0 225.2,277.5 226.4,276.1 227.6,277.4 228.8,276.4 230.0,277.3 231.2,276.4 232.4,277.2 233.5,276.3 234.7,277.0 235.8,276.0 236.9,277.0 238.0,276.4 239.3,277.1 240.6,276.2 241.9,277.3 243.2,276.8 244.6,277.2 245.9,276.7 247.2,277.7 248.5,277.0 249.8,277.4 251.1,276.6 252.4,277.9 253.7,277.1 255.0,277.9 256.3,277.3 257.6,278.0 258.9,277.2 260.2,278.1 261.4,277.5 262.7,278.3 263.9,277.6 265.2,278.7 266.4,277.4 267.6,278.9 268.8,277.9 270.0,278.7 271.2,278.3 272.4,279.3 273.5,278.4 274.7,279.7 275.8,278.2 276.9,279.5 278.0,278.9 279.1,279.8 280.2,278.9 281.2,279.9 282.2,279.4 283.2,280.7 284.2,279.6 285.1,281.0 286.1,279.9 287.0,281.2 288.6,280.3 290.0,281.3 291.5,280.8 292.8,281.9 294.1,281.3 295.3,282.9 296.4,282.2 297.5,283.7 298.6,282.9 299.6,284.4 300.6,283.6 301.5,284.7 302.5,284.6 303.4,285.8 304.3,285.5 305.2,286.6 306.2,286.3 307.1,287.4 308.0,286.9 309.0,288.0 309.9,287.7 311.0,289.0 312.0,288.7 313.1,289.7 314.1,289.7 315.2,290.8 316.2,290.3 317.3,291.6 318.3,291.3 319.3,292.6 320.4,292.6 321.4,293.8 322.5,293.4 323.5,294.5 324.5,294.4 325.5,295.7 326.6,295.5 327.6,296.7 328.7,296.4 329.7,297.7 330.7,297.7 331.8,298.5 332.8,298.6 333.9,299.4 334.9,299.1 336.0,300.1 337.1,300.2 338.2,301.0 339.4,300.9 340.5,302.1 341.6,301.7 342.8,302.7 343.9,302.1 345.0,303.0 346.2,302.8 347.3,303.9 348.5,303.4 349.6,304.4 350.8,303.8 351.9,305.0 353.0,304.1 354.2,305.3 355.3,304.6 356.5,306.0 357.6,305.2 358.7,306.4 359.9,305.6 361.0,306.5 362.2,305.7 363.4,306.5 364.5,305.7 365.7,307.2 366.9,306.0 368.0,307.0 369.2,305.8 370.4,307.5 371.5,306.0 372.7,307.2 373.9,306.0 375.0,307.3 376.2,305.9 377.4,307.1 378.5,305.7 379.7,307.1 380.8,305.6 382.0,306.7 383.2,305.6 384.3,306.3 385.5,305.3 386.7,306.0 387.8,305.0 389.0,305.6 390.2,304.3 391.3,305.1 392.5,303.8 393.7,304.8 394.8,303.3 396.0,304.4 397.2,303.2 398.3,303.4 399.5,302.0 400.7,303.0 401.8,302.0 403.0,302.1 404.2,301.3 405.3,301.5 406.5,300.7 407.7,300.8 408.8,300.1 410.0,300.4 411.1,299.1 412.1,299.9 413.1,298.7 414.1,299.5 415.1,298.5 416.0,299.0 416.9,297.7 417.9,298.3 418.8,297.0 419.8,297.9 420.7,296.6 421.7,297.5 422.7,296.2 423.8,296.6 424.9,295.8 426.0,296.2 427.3,295.3 428.5,295.7 429.9,294.7 431.3,295.3 432.9,293.7 434.5,294.6 435.4,293.6 436.3,293.9 437.2,292.7 438.2,294.0 439.2,292.4 440.2,293.6 441.3,292.4 442.3,292.8 443.4,291.8 444.5,292.5 445.6,291.4 446.7,291.9 447.9,290.7 449.0,291.5 450.2,290.4 451.4,291.4 452.6,290.3 453.8,290.7 455.0,289.7 456.3,290.2 457.5,288.9 458.8,290.2 460.0,288.9 461.3,289.2 462.5,288.2 463.8,289.0 465.1,288.1 466.3,288.8 467.6,287.1 468.9,288.2 470.1,287.2 471.4,287.5 472.6,286.3 473.9,287.5 475.1,286.2 476.4,287.3 477.6,286.1 478.8,286.7 480.0,285.2 481.2,286.5 482.4,285.3 483.6,286.1 484.8,284.7 485.9,285.7 487.1,284.6 488.3,285.6 489.5,283.8 490.7,284.7 491.8,283.8 493.0,284.7 494.2,283.5 495.4,284.3 496.6,283.4 497.8,284.3 499.0,282.9 500.1,283.8 501.3,282.6 502.5,283.4 503.7,282.1 504.9,283.5 506.1,282.3 507.3,282.9 508.5,281.9 509.6,282.9 510.8,281.4 512.0,282.9 513.2,281.7 514.3,282.6 515.5,281.6 516.7,282.2 517.9,280.8 519.0,281.7 520.2,281.0 521.3,281.5 522.5,280.7 523.6,281.8 524.8,280.8 525.9,281.6 527.1,280.4 528.2,281.6 529.3,280.1 530.5,281.1 531.6,280.2 532.7,281.3 534.0,279.9 535.3,281.1 536.6,279.7 537.9,281.0 539.2,279.8 540.5,280.4 541.9,279.8 543.2,280.7 544.6,279.8 545.9,280.2 547.3,279.6 548.6,280.7 550.0,279.7 551.3,280.4 552.7,279.7 554.0,280.8 555.3,279.1 556.7,280.8 558.0,279.3 559.2,280.4 560.5,279.6 561.7,280.4 563.0,279.2 564.2,280.6 565.4,279.8 566.5,280.9 567.6,279.3 568.7,280.3 569.8,279.9 570.8,280.7 571.8,279.7 572.8,281.0 573.7,280.0 574.6,281.2 575.4,280.0 576.2,280.7 577.0,279.6 579.6,281.4 581.6,280.4 582.9,281.7 583.9,281.4 584.5,282.5 585.0,282.7 585.5,283.6 586.0,283.9 586.8,284.6 587.8,285.0 588.6,286.2 589.5,286.9 590.2,288.2 591.0,288.8 591.8,290.0 592.7,290.1 593.7,291.2 594.6,290.0 595.6,290.5 596.6,289.5 597.7,289.4 598.8,288.2 599.8,288.0 600.9,287.1 602.0,286.8 603.0,286.2 604.0,287.0 605.2,285.8 606.3,286.9 607.4,286.1 608.5,287.3 609.5,287.4 610.5,288.8 611.5,289.3 612.5,290.6 613.0,291.2 613.6,292.1 614.1,292.9 614.6,294.0 615.1,294.9 615.6,296.1 616.1,297.1 616.6,298.4 617.1,299.4 617.5,300.6 618.0,301.7 618.4,302.9 618.9,303.9 619.3,305.0 619.7,306.1 620.2,307.2 620.6,308.3 621.0,309.5 621.3,310.6 621.7,311.8 622.1,312.9 622.5,314.0 622.8,315.0 623.2,316.1 623.6,317.0 624.1,317.9 624.5,318.7 625.2,319.7 625.9,320.3 626.6,321.2 627.4,321.4 628.2,322.3 629.0,322.6 629.8,323.5 630.5,324.2 631.3,325.6 631.7,326.2 632.2,327.1 632.6,327.8 633.1,328.7 633.5,329.5 634.0,330.5 634.4,331.3 634.9,332.4 635.3,333.4 635.7,334.6 636.2,335.7 636.6,337.0 637.0,338.2 637.4,339.7 637.8,341.1 638.2,342.7 638.4,343.6 638.6,344.6 638.8,345.5 639.0,346.6 639.2,347.6 639.4,348.7 639.6,349.8 639.7,350.9 639.9,352.1 640.1,353.2 640.3,354.4 640.4,355.7 640.6,356.9 640.8,358.1 640.9,359.4 641.1,360.6 641.3,361.9 641.4,363.2 641.6,364.5 641.8,365.7 641.9,367.0 642.1,368.3 642.3,369.5 642.4,370.8 642.6,372.0 642.8,373.3 643.0,374.5 643.1,375.7 643.3,376.9 643.5,378.1 643.6,379.3 643.8,380.5 644.0,381.8 644.2,383.1 644.3,384.3 644.5,385.6 644.7,386.9 644.9,388.2 645.0,389.5 645.2,390.8 645.4,392.1 645.5,393.4 645.7,394.7 645.9,396.0 646.1,397.2 646.2,398.5 646.4,399.7 646.6,400.9 646.8,402.0 646.9,403.2 647.1,404.3 647.3,405.4 647.5,406.4 647.7,407.4 647.8,408.4 648.0,409.3 648.2,410.2 648.4,411.0 648.9,412.7 649.4,414.1 649.9,415.0 650.4,416.0 650.9,416.6 651.4,417.3 652.0,417.7 652.5,418.5 653.0,419.1 653.5,420.2 654.0,421.4 654.4,423.0 654.6,423.8 654.8,424.8 655.0,425.7 655.2,426.7 655.3,427.7 655.5,428.8 655.7,429.9 655.9,431.0 656.0,432.2 656.2,433.4 656.4,434.6 656.5,435.8 656.7,437.1 656.9,438.3 657.0,439.6 657.2,440.9 657.3,442.2 657.5,443.5 657.7,444.8 657.8,446.2 658.0,447.5 658.1,448.8 658.3,450.1 658.4,451.4 658.6,452.6 658.7,453.9 658.8,455.0 659.0,456.2 659.1,457.3 659.2,458.5 659.3,459.7 659.5,460.9 659.6,462.1 659.7,463.3 659.8,464.5 660.0,465.8 660.1,467.0 660.2,468.2 660.3,469.5 660.4,470.7 660.5,471.9 660.7,473.2 660.8,474.4 660.9,475.6 661.0,476.8 661.1,478.0 661.2,479.2 661.3,480.3 661.4,481.5 661.6,482.6 661.7,483.7 661.8,484.8 661.9,485.9 662.0,487.0 662.1,488.0 662.2,489.4 662.4,490.9 662.5,492.5 662.7,494.1 662.8,495.7 662.9,497.3 663.1,498.9 663.2,500.4 663.3,502.0 663.4,503.5 663.6,504.9 663.7,506.3 663.8,507.5 664.0,508.7 664.1,509.8 664.2,510.7 664.4,511.5 664.5,512.1 664.7,512.6 664.8,512.8 665.0,513.5 665.2,512.7 665.3,512.7 665.5,512.3 665.7,511.8 665.8,511.1 666.0,510.3 666.2,509.4 666.4,508.4 666.6,507.2 666.8,506.0 667.0,504.7 667.2,503.4 667.4,502.0 667.5,500.5 667.7,499.0 667.9,497.5 668.1,495.9 668.3,494.3 668.5,492.7 668.7,491.1 668.8,489.6 669.0,488.0 669.1,487.0 669.2,486.0 669.3,485.0 669.4,484.0 669.5,482.9 669.6,481.8 669.7,480.6 669.8,479.5 669.9,478.3 670.0,477.1 670.1,475.9 670.2,474.7 670.3,473.4 670.4,472.2 670.5,470.9 670.6,469.6 670.6,468.3 670.7,467.1 670.8,465.8 670.9,464.5 671.0,463.2 671.1,461.9 671.2,460.6 671.3,459.3 671.4,458.1 671.5,456.8 671.6,455.5 671.7,454.3 671.7,453.1 671.8,451.9 671.9,450.7 672.0,449.5 672.1,448.3 672.2,447.2 672.3,446.1 672.4,445.0 672.5,443.7 672.6,442.4 672.7,441.1 672.9,439.8 673.0,438.5 673.1,437.2 673.2,436.0 673.3,434.7 673.4,433.5 673.5,432.3 673.6,431.1 673.7,429.9 673.8,428.7 673.9,427.5 674.0,426.3 674.2,425.2 674.3,424.0 674.4,422.9 674.5,421.7 674.6,420.6 674.7,419.5 674.9,418.4 675.0,417.3 675.1,416.3 675.2,415.2 675.4,414.1 675.5,413.1 675.7,412.0 675.8,411.0 676.0,409.7 676.2,408.3 676.4,407.1 676.6,405.8 676.9,404.6 677.1,403.3 677.4,402.1 677.6,400.9 677.8,399.8 678.1,398.6 678.3,397.5 678.6,396.3 678.9,395.2 679.1,394.1 679.4,393.0 679.6,391.9 679.9,390.8 680.1,389.7 680.3,388.7 680.6,387.6 680.8,386.5 681.0,385.4 681.2,384.1 681.5,382.9 681.7,381.6 682.0,380.4 682.2,379.1 682.4,377.8 682.6,376.6 682.8,375.4 683.1,374.2 683.3,373.0 683.5,371.8 683.7,370.6 683.9,369.5 684.1,368.3 684.3,367.3 684.6,366.2 684.8,365.2 685.0,364.1 685.2,363.2 685.5,361.7 685.9,360.2 686.2,358.6 686.5,357.1 686.9,355.7 687.2,354.3 687.5,353.1 687.8,352.0 688.2,351.0 688.5,350.4 688.8,349.7 689.2,349.7 689.6,349.4 690.1,350.0 690.5,350.5 691.0,351.6 691.4,352.7 691.9,354.1 692.4,355.4 692.8,357.0 693.3,358.4 693.8,359.8 694.1,360.7 694.5,361.7 694.8,362.5 695.2,363.5 695.5,364.4 695.9,365.4 696.2,366.3 696.6,367.4 697.0,368.5 697.3,369.7 697.7,370.9 698.0,372.3 698.4,373.7 698.7,375.3 699.0,376.9 699.2,377.8 699.3,378.8 699.5,379.8 699.7,380.9 699.8,382.0 700.0,383.2 700.1,384.4 700.3,385.6 700.5,386.9 700.6,388.2 700.8,389.5 701.0,390.8 701.1,392.1 701.3,393.5 701.4,394.8 701.6,396.1 701.7,397.5 701.9,398.8 702.0,400.1 702.1,401.3 702.3,402.6 702.4,403.8 702.5,405.0 702.7,406.1 702.8,407.2 702.9,408.2 703.0,409.2 703.1,410.1 703.2,411.0 703.4,413.0 703.6,414.8 703.7,416.6 703.8,418.2 703.9,419.7 703.9,421.0 704.0,422.2 704.0,423.2 704.1,423.9 704.2,424.5 704.3,424.8 704.5,425.8 704.7,424.7 704.9,424.6 705.2,423.9 705.4,423.2 705.7,422.2 706.0,421.0 706.3,419.7 706.5,418.2 706.8,416.6 707.1,414.8 707.3,413.0 707.5,411.0 707.6,410.1 707.7,409.3 707.7,408.3 707.8,407.3 707.9,406.3 707.9,405.3 708.0,404.2 708.1,403.1 708.1,401.9 708.2,400.8 708.2,399.6 708.3,398.4 708.3,397.1 708.4,395.9 708.5,394.6 708.5,393.4 708.6,392.1 708.6,390.8 708.7,389.5 708.7,388.2 708.8,387.0 708.8,385.7 708.9,384.4 708.9,383.1 709.0,381.9 709.0,380.6 709.1,379.4 709.1,378.2 709.2,377.0 709.3,375.8 709.3,374.6 709.4,373.4 709.4,372.3 709.5,371.1 709.6,369.9 709.6,368.7 709.7,367.5 709.7,366.3 709.8,365.1 709.8,363.9 709.9,362.7 710.0,361.5 710.0,360.2 710.1,359.1 710.1,357.9 710.2,356.7 710.3,355.5 710.3,354.3 710.4,353.1 710.5,351.9 710.5,350.7 710.6,349.6 710.7,348.4 710.7,347.3 710.8,346.1 710.9,345.0 710.9,343.8 711.0,342.7 711.1,341.4 711.2,340.2 711.2,338.9 711.3,337.6 711.4,336.3 711.5,335.0 711.5,333.7 711.6,332.3 711.7,331.0 711.8,329.7 711.8,328.4 711.9,327.2 712.0,325.9 712.1,324.7 712.2,323.4 712.2,322.2 712.3,321.0 712.4,319.9 712.5,318.7 712.6,317.6 712.8,316.6 712.9,315.6 713.0,314.6 713.1,313.6 713.3,312.7 713.4,311.9 713.8,310.1 714.1,308.6 714.5,307.2 714.9,306.1 715.4,305.0 715.9,304.2 716.3,303.3 716.9,302.6 717.4,301.7 718.0,301.0 718.6,299.9 719.2,299.1 719.9,298.0 720.5,297.2 721.2,296.1 721.9,295.4 722.6,294.4 723.4,293.8 724.2,292.6 725.1,292.1 726.1,290.9 727.1,290.8 728.0,289.6 728.9,289.9 729.9,288.5 730.9,289.0 732.0,287.4 733.1,287.7 734.3,286.7 735.4,287.2 736.6,285.8 737.8,286.2 739.0,285.1 740.2,285.9 741.3,284.5 742.5,284.8 743.6,283.6 744.7,284.5 745.8,283.1 746.9,284.0 748.0,282.3 749.1,283.2 750.2,281.9 751.3,283.0 752.4,281.7 753.6,282.1 754.8,281.0 755.9,282.2 757.1,281.0 758.4,281.8 759.6,280.5 760.6,281.2 761.7,280.6 762.8,281.0 763.9,279.9 765.0,280.9 766.1,279.8 767.2,280.9 768.4,280.2 769.5,281.3 770.6,280.2 771.8,281.0 773.0,279.9 774.1,280.7 775.3,280.3 776.5,281.1 777.6,280.0 778.8,281.0 780.0,279.7 781.1,280.7 782.3,280.0 783.5,280.9 784.7,279.5 785.9,281.0 787.2,279.7 788.4,281.1 789.7,279.3 790.9,280.9 792.1,279.3 793.4,280.8 794.6,279.6 795.7,280.5 796.9,279.5 798.0,280.3 799.1,279.7 800.1,280.2 801.1,279.7 802.0,280.3 803.4,279.6 804.6,281.2 805.5,280.5 806.4,281.7 807.1,281.5 807.9,282.4 808.8,282.0 809.7,283.5 810.9,282.9 812.3,283.9 814.0,282.9 814.8,283.5 815.6,282.8 816.5,283.7 817.4,282.4 818.3,283.5 819.2,282.0 820.2,283.3 821.2,281.8 822.2,283.0 823.2,281.7 824.3,282.5 825.4,281.1 826.5,281.8 827.6,280.5 828.8,281.3 830.0,280.1 831.2,280.8 832.5,279.8 833.8,280.1 835.1,278.9 836.4,279.7 837.8,278.5 839.2,279.4 840.6,278.2 842.1,279.2 843.6,277.8 844.5,279.1 845.5,277.5 846.5,278.7 847.4,277.7 848.4,278.3 849.4,277.0 850.4,278.2 851.4,276.8 852.5,277.8 853.5,276.7 854.6,277.6 855.6,276.8 856.7,277.6 857.8,276.5 858.9,277.1 860.0,276.3 861.1,276.8 862.2,275.8 863.4,276.9 864.5,275.7 865.7,277.0 866.9,275.6 868.1,276.6 869.3,275.2 870.5,276.4 871.7,275.5 872.9,276.4 874.2,275.2 875.4,276.3 876.7,274.7 877.9,276.0 879.2,274.7 880.5,275.5 881.8,274.5 883.2,275.3 884.5,274.1 885.8,275.2 887.2,274.6 888.5,275.0 889.9,273.8 891.3,275.3 892.7,274.1 893.7,275.2 894.8,273.6 895.9,274.9 897.0,273.9 898.1,275.1 899.3,274.0 900.5,274.6 901.7,273.5 902.9,274.4 904.2,273.3 905.5,274.7 906.7,273.3 908.0,274.2 909.4,273.7 910.7,274.7 912.0,273.6 913.4,274.3 914.7,273.6 916.1,274.4 917.5,273.2 918.8,274.4 920.2,273.3 921.6,274.0 923.0,273.0 924.4,273.9 925.7,272.9 927.1,274.3 928.5,272.8 929.9,274.0 931.2,272.8 932.6,273.9 933.9,272.8 935.3,274.2 936.6,273.0 937.9,273.9 939.2,272.7 940.5,274.2 941.7,272.9 943.0,273.6 944.2,272.7 945.4,273.9 946.6,272.5 947.8,274.0 948.9,272.3 950.0,273.6 951.1,272.9 952.1,273.3 953.2,272.5 954.2,273.5 955.1,272.2 956.1,273.8 956.9,272.3 957.8,273.1 958.6,272.6 959.4,273.8 960.1,272.5 960.8,273.0 961.5,272.4 966.4,272.7 967.5,271.4 966.6,271.2 965.7,270.8 966.4,271.4 967.2,270.5 968.2,271.6 969.2,270.8 970.4,272.1 971.6,270.9 972.9,272.6 974.2,272.0 975.5,272.8 976.9,272.5 978.2,273.4 979.4,272.9 980.6,274.4 981.7,273.8 982.7,275.2 983.5,274.8 984.6,276.2 985.5,276.9 986.2,278.2 986.8,279.3 987.3,280.5 987.8,281.5 988.3,282.5 988.9,282.7 989.7,284.0 990.5,282.6 991.4,283.1 992.4,282.0 993.4,281.5 994.4,280.3 995.4,279.7 996.4,278.4 997.5,278.1 998.5,276.8 999.5,277.4 1000.5,276.6 1001.4,277.9 1002.3,277.7 1003.2,278.8 1004.2,279.4 1005.1,280.5 1006.1,280.5 1007.1,282.0 1008.2,281.5 1009.3,282.8 1010.2,281.2 1011.2,281.7 1012.2,280.5 1013.3,280.5 1014.3,279.4 1015.4,279.2 1016.5,278.0 1017.6,277.8 1018.7,276.6 1019.8,276.2 1020.8,275.0 1021.8,275.5 1022.8,274.2 1024.0,274.3 1025.1,273.4 1026.2,274.4 1027.3,273.1 1028.4,274.3 1029.4,272.8 1030.5,274.3 1031.6,272.8 1032.7,273.5 1033.9,272.5 1034.9,272.7 1035.9,271.6 1036.9,272.2 1037.9,270.7 1039.0,271.1 1040.0,269.9 1041.1,270.7 1042.2,268.3 1043.3,269.0 1044.3,267.6 1045.4,269.0 1046.4,267.1 1047.4,268.6 1048.6,266.0 1049.8,268.7 1051.0,265.8 1052.2,268.0 1053.4,267.4 1054.6,268.5 1055.8,267.0 1056.8,269.1 1057.8,267.6 1058.8,269.1 1059.6,267.2 1060.5,267.7 1061.2,266.3 1061.8,265.4 1062.2,264.1 1062.6,263.1 1063.1,261.9 1063.7,261.2 1064.5,260.3 1065.4,260.7 1066.5,260.1 1067.6,261.2 1068.8,260.6 1070.1,262.6 1071.3,261.7 1072.4,263.3 1073.5,261.2 1074.4,262.0 1074.9,260.9 1075.4,260.2 1075.8,258.9 1076.2,257.6 1076.6,256.2 1076.9,254.7 1077.2,253.1 1077.5,251.7 1077.8,250.2 1078.1,248.9 1078.4,247.7 1078.7,246.8 1079.0,246.1 1079.3,246.6 1079.7,245.7 1080.1,246.5 1080.4,247.4 1080.8,248.7 1081.1,250.1 1081.4,251.7 1081.8,253.2 1082.1,254.8 1082.5,255.8 1083.0,256.9 1083.8,257.0 1084.7,259.0 1085.6,257.5 1086.6,258.8 1087.7,258.0 1089.0,259.6 1089.7,259.7 1090.4,260.9 1091.1,261.2 1091.9,262.7 1092.7,263.3 1093.5,264.5 1094.4,265.4 1095.3,266.7 1096.2,266.9 1097.1,268.6 1098.0,268.0 1099.0,269.4 1100.0,268.3 1101.1,270.7 1102.3,267.9 1103.5,270.1 1104.7,267.3 1105.9,268.7 1107.2,266.8 1108.3,268.3 1109.5,265.8 1110.5,267.3 1111.5,265.9 1112.4,267.1 1113.5,266.6 1114.3,267.9 1114.9,268.5 1115.4,269.9 1116.0,270.7 1116.6,272.0 1117.5,271.8 1118.6,273.8 1119.5,271.9 1120.5,273.7 1121.7,271.8 1122.9,272.7 1124.2,271.7 1125.5,272.2 1126.9,270.9 1128.2,272.0 1129.4,270.2 1130.6,271.0 1131.6,269.3 1132.5,270.8 1133.3,270.1 1134.2,271.2 1134.7,272.2 1134.9,273.9 1135.0,275.5 1135.1,277.1 1135.1,278.3 1135.3,279.1 1135.7,278.3 1136.0,278.7 1136.3,277.8 1136.7,276.9 1137.0,275.8 1137.4,274.6 1137.9,273.1 1138.3,271.7 1138.7,270.2 1139.2,268.8 1139.6,267.3 1140.0,266.0 1140.4,264.7 1140.8,263.7 1141.2,262.7 1141.6,262.3 1141.9,261.2 1142.4,262.0 1142.8,262.5 1143.1,263.9 1143.5,265.5 1143.8,267.3 1144.1,268.9 1144.5,270.4 1145.0,271.2 1145.6,272.9 1146.0,271.1 1146.5,270.7 1147.0,269.6 1147.5,268.6 1148.1,267.2 1148.6,265.9 1149.2,264.4 1149.9,263.1 1150.5,261.6 1151.2,260.5 1151.9,259.3 1152.6,259.1 1153.3,257.6 1154.1,258.4 1154.8,257.5 1155.5,258.9 1156.2,259.2 1157.0,260.4 1157.7,260.9 1158.5,262.4 1159.4,263.4 1160.2,265.0 1161.0,265.9 1161.9,267.5 1162.7,268.3 1163.6,269.8 1164.4,270.3 1165.2,271.9 1166.0,272.0 1166.8,273.1 1167.6,272.5 1168.4,273.2 1169.2,271.6 1170.1,271.9 1170.9,270.9 1171.7,270.3 1172.5,268.8 1173.3,268.0 1174.1,266.5 1174.9,265.5 1175.7,264.1 1176.5,263.3 1177.2,261.8 1177.9,261.3 1178.6,260.1 1179.3,259.9 1179.9,258.5 1181.1,260.5 1182.2,258.1 1183.1,260.3 1184.1,260.2 1184.9,261.7 1185.7,262.3 1186.5,263.6 1187.3,264.0 1188.0,265.1 1188.1,265.9 1188.2,267.0 1188.7,267.1 1189.9,268.7 1192.2,268.2 1192.9,269.7 1193.7,268.6 1194.6,269.9 1195.5,268.1 1196.5,270.5 1197.6,268.4 1198.7,271.1 1199.8,269.0 1201.0,270.1 1202.3,268.9 1203.5,270.1 1204.8,268.8 1206.1,270.4 1207.4,269.1 1208.8,270.2 1210.1,269.0 1211.5,270.5 1212.8,269.2 1214.2,270.6 1215.5,269.1 1216.8,270.7 1218.1,269.6 1219.3,270.5 1220.6,269.8 1221.8,271.0 1222.9,269.4 1224.0,271.0 1225.3,270.1 1226.6,271.2 1227.9,270.3 1229.2,271.3 1230.4,270.5 1231.7,271.5 1232.9,271.0 1234.1,272.0 1235.4,271.2 1236.6,272.3 1237.8,271.9 1238.9,273.1 1240.1,272.0 1241.3,273.7 1242.4,272.4 1243.5,273.7 1244.6,273.0 1245.7,274.3 1246.8,273.0 1247.9,274.4 1249.0,273.7 1250.0,274.8 1251.3,274.3 1252.7,275.5 1254.0,274.5 1255.2,275.6 1256.5,274.4 1257.7,275.6 1259.0,275.0 1260.1,275.9 1261.3,275.2 1262.5,276.7 1263.6,275.5 1264.7,276.7 1265.7,275.7 1266.8,276.6 1267.8,276.2 1268.8,277.6 1269.7,276.7 1271.1,277.8 1272.4,276.8 1273.6,278.1 1274.8,277.4 1275.9,278.8 1276.9,277.8 1277.9,278.9 1278.9,278.5 1279.8,279.7 1280.7,279.6 1281.5,280.6 1282.6,280.5 1283.6,281.5 1284.5,281.7 1285.3,282.8 1286.0,283.4 1286.7,284.4 1287.4,285.4 1288.0,286.8 1288.3,287.5 1288.6,288.4 1288.9,289.3 1289.2,290.2 1289.4,291.2 1289.6,292.2 1289.8,293.3 1290.1,294.5 1290.3,295.6 1290.5,296.9 1290.7,298.2 1290.9,299.5 1291.1,300.9 1291.3,302.4 1291.4,303.3 1291.6,304.3 1291.7,305.2 1291.9,306.2 1292.0,307.2 1292.2,308.2 1292.3,309.2 1292.5,310.3 1292.6,311.3 1292.8,312.4 1292.9,313.5 1293.1,314.6 1293.2,315.8 1293.4,317.0 1293.5,318.2 1293.6,319.4 1293.8,320.6 1293.9,321.9 1294.1,323.2 1294.2,324.6 1294.3,325.9 1294.5,327.3 1294.6,328.7 1294.7,329.7 1294.8,330.7 1294.9,331.8 1294.9,332.9 1295.0,333.9 1295.1,335.1 1295.2,336.2 1295.3,337.3 1295.4,338.5 1295.4,339.7 1295.5,340.8 1295.6,342.0 1295.7,343.2 1295.8,344.5 1295.8,345.7 1295.9,346.9 1296.0,348.2 1296.1,349.4 1296.1,350.7 1296.2,351.9 1296.3,353.2 1296.4,354.4 1296.4,355.7 1296.5,356.9 1296.6,358.2 1296.7,359.4 1296.7,360.7 1296.8,361.9 1296.9,363.2 1297.0,364.4 1297.0,365.6 1297.1,366.8 1297.2,368.0 1297.3,369.2 1297.4,370.4 1297.4,371.6 1297.5,372.8 1297.6,374.1 1297.7,375.3 1297.8,376.6 1297.8,377.8 1297.9,379.1 1298.0,380.3 1298.1,381.6 1298.1,382.8 1298.2,384.1 1298.3,385.4 1298.4,386.6 1298.5,387.8 1298.5,389.1 1298.6,390.3 1298.7,391.5 1298.8,392.8 1298.9,394.0 1298.9,395.2 1299.0,396.4 1299.1,397.5 1299.2,398.7 1299.2,399.8 1299.3,401.0 1299.4,402.1 1299.5,403.1 1299.6,404.2 1299.6,405.3 1299.7,406.3 1299.8,407.3 1299.9,408.8 1300.0,410.2 1300.2,411.5 1300.3,412.8 1300.4,414.1 1300.5,415.4 1300.7,416.6 1300.8,417.7 1300.9,418.9 1301.1,420.0 1301.2,421.1 1301.3,422.2 1301.4,423.3 1301.6,424.4 1301.7,425.5 1301.8,426.6 1301.9,427.7 1302.0,428.8 1302.1,430.0 1302.2,431.1 1302.3,432.3 1302.4,433.5 1302.5,434.7 1302.6,436.0 1302.6,437.4 1302.7,438.9 1302.7,440.4 1302.8,442.0 1302.8,443.5 1302.9,445.1 1302.9,446.7 1303.0,448.3 1303.0,449.8 1303.1,451.4 1303.1,452.8 1303.2,454.2 1303.2,455.5 1303.2,456.6 1303.3,457.7 1303.3,458.7 1303.4,459.5 1303.5,460.1 1303.5,460.6 1303.6,460.9 1303.7,461.3 1303.8,460.8 1303.9,460.7 1304.0,460.3 1304.1,459.7 1304.2,459.1 1304.3,458.3 1304.4,457.4 1304.5,456.3 1304.6,455.2 1304.7,454.0 1304.8,452.8 1305.0,451.4 1305.1,450.0 1305.2,448.6 1305.3,447.1 1305.5,445.6 1305.6,444.0 1305.7,442.5 1305.8,440.9 1305.9,439.4 1306.1,437.9 1306.2,436.4 1306.3,434.9 1306.4,433.5 1306.5,432.5 1306.6,431.4 1306.6,430.4 1306.7,429.3 1306.8,428.2 1306.9,427.1 1306.9,425.9 1307.0,424.8 1307.1,423.6 1307.2,422.5 1307.2,421.3 1307.3,420.1 1307.4,418.9 1307.5,417.7 1307.5,416.4 1307.6,415.2 1307.7,414.0 1307.8,412.7 1307.9,411.5 1307.9,410.2 1308.0,409.0 1308.1,407.7 1308.2,406.5 1308.2,405.2 1308.3,404.0 1308.4,402.7 1308.5,401.5 1308.6,400.3 1308.7,399.0 1308.7,397.8 1308.8,396.6 1308.9,395.4 1309.0,394.2 1309.1,393.0 1309.2,391.8 1309.3,390.6 1309.4,389.4 1309.4,388.2 1309.5,387.0 1309.6,385.8 1309.7,384.5 1309.8,383.3 1309.9,382.1 1310.0,380.9 1310.1,379.6 1310.2,378.4 1310.3,377.2 1310.4,376.0 1310.5,374.8 1310.6,373.5 1310.7,372.3 1310.8,371.1 1310.9,369.9 1311.0,368.7 1311.1,367.5 1311.2,366.3 1311.3,365.1 1311.4,364.0 1311.5,362.8 1311.6,361.7 1311.7,360.5 1311.8,359.4 1311.9,358.2 1312.1,357.1 1312.2,356.0 1312.3,354.9 1312.4,353.6 1312.6,352.3 1312.7,351.1 1312.9,349.8 1313.0,348.5 1313.2,347.3 1313.3,346.0 1313.5,344.8 1313.6,343.5 1313.8,342.3 1313.9,341.0 1314.1,339.8 1314.2,338.6 1314.4,337.4 1314.6,336.2 1314.7,335.1 1314.9,333.9 1315.1,332.8 1315.2,331.6 1315.4,330.5 1315.6,329.4 1315.8,328.3 1315.9,327.2 1316.1,326.2 1316.3,325.1 1316.5,324.1 1316.7,323.1 1316.9,322.1 1317.2,320.7 1317.5,319.4 1317.8,318.1 1318.1,316.8 1318.4,315.6 1318.7,314.4 1319.0,313.1 1319.3,312.0 1319.6,310.8 1319.9,309.7 1320.3,308.6 1320.6,307.6 1320.9,306.5 1321.3,305.5 1321.6,304.5 1322.0,303.5 1322.3,302.5 1322.7,301.6 1323.0,300.7 1323.4,299.8 1324.0,298.4 1324.5,297.2 1325.1,295.9 1325.6,294.9 1326.2,293.6 1326.8,292.7 1327.4,291.6 1328.0,290.7 1328.6,289.6 1329.3,289.0 1329.9,288.1 1330.6,287.5 1331.3,286.6 1332.2,286.0 1333.1,285.0 1334.0,284.8 1334.9,284.1 1335.8,284.4 1336.8,283.2 1337.9,283.5 1339.1,282.6 1340.4,283.5 1341.8,282.1 1342.7,283.3 1343.7,282.5 1344.8,283.1 1345.9,282.0 1347.1,283.5 1348.3,282.3 1349.5,283.9 1350.8,282.5 1352.1,284.1 1353.3,283.4 1354.6,284.5 1355.8,283.8 1357.0,284.9 1358.2,283.5 1359.3,285.0 1360.4,283.5 1361.4,284.5 1362.7,283.7 1363.9,283.9 1365.0,282.9 1366.0,283.4 1367.0,282.3 1367.9,282.5 1368.9,281.4 1369.9,281.9 1370.9,280.4 1372.0,281.1 1373.2,279.7 1374.5,280.4 1375.5,279.7 1376.5,280.3 1377.6,279.6 1378.7,280.2 1379.8,279.5 1381.0,279.8 1382.1,279.3 1383.3,280.0 1384.5,278.6 1385.8,280.1 1387.0,279.1 1388.2,279.8 1389.4,278.6 1390.6,280.2 1391.8,278.6 1393.0,280.4 1394.2,279.3 1395.4,279.8 1396.5,279.4 1397.7,280.4 1398.9,279.0 1400.1,280.1 1401.3,279.7 1402.4,280.6 1403.6,279.8 1404.8,280.7 1406.0,279.8 1407.1,281.5 1408.3,280.0 1409.5,281.6 1410.6,280.6 1411.7,281.5 1412.8,281.1 1413.9,282.0 1415.1,281.0 1416.4,282.2 1417.6,281.6 1418.9,282.8 1420.2,281.4 1421.4,282.7 1422.6,281.5 1423.8,282.9 1425.0,282.1 1426.1,283.1 1427.2,282.2 1428.2,283.6 1429.2,282.7 1430.1,283.4 1430.9,283.0 1432.4,284.0 1433.6,284.1 1434.6,285.3 1435.4,285.3 1436.1,286.3 1436.8,286.9 1437.5,288.1 1438.0,288.8 1438.4,289.8 1438.8,290.7 1439.2,291.8 1439.5,292.9 1439.9,294.0 1440.2,295.1 1440.6,296.3 1441.0,297.4 1441.4,298.5 1441.9,299.5 1442.4,300.5 1442.9,301.4 1443.5,302.4 1444.1,303.3 1444.6,304.4 1445.2,305.3 1445.7,306.5 1446.2,307.7 1446.6,309.0 1446.9,309.9 1447.1,310.9 1447.3,311.9 1447.5,312.9 1447.7,313.9 1447.9,315.0 1448.1,316.1 1448.3,317.2 1448.4,318.4 1448.6,319.6 1448.7,320.8 1448.9,322.1 1449.0,323.3 1449.2,324.7 1449.3,326.0 1449.4,327.0 1449.5,328.1 1449.5,329.3 1449.6,330.5 1449.7,331.8 1449.7,333.1 1449.7,334.4 1449.8,335.7 1449.8,337.1 1449.9,338.4 1449.9,339.7 1449.9,341.1 1450.0,342.3 1450.0,343.5 1450.1,344.7 1450.1,345.8 1450.2,346.9 1450.3,347.8 1450.4,348.6 1450.5,349.4 1450.6,350.0 1451.4,351.7 1452.3,352.7 1453.4,351.0 1454.5,349.7 1454.9,348.8 1455.3,348.1 1455.7,346.9 1456.2,345.8 1456.6,344.5 1457.1,343.2 1457.6,341.8 1458.0,340.6 1458.5,339.3 1458.9,338.3 1459.3,337.2 1459.7,336.6 1460.7,334.8 1461.6,334.6 1462.6,333.6 1463.7,334.1 1464.7,333.8 1465.8,335.3 1467.0,335.0 1468.2,336.3 1469.3,335.7 1470.2,335.5 1470.5,334.5 1470.7,333.8 1470.9,332.8 1471.1,331.8 1471.2,330.6 1471.3,329.3 1471.4,328.0 1471.5,326.6 1471.6,325.3 1471.8,323.9 1471.9,322.6 1472.1,321.4 1472.3,320.2 1472.6,319.2 1472.9,318.2 1473.5,317.0 1474.2,315.7 1475.1,314.8 1475.9,313.5 1476.9,312.9 1477.8,311.7 1478.6,311.4 1479.4,310.2 1480.1,310.2 1480.7,309.3 1481.8,309.0 1482.6,310.8 1482.9,311.5 1483.2,312.4 1483.5,313.5 1483.8,314.7 1484.2,316.0 1484.6,317.3 1485.0,318.8 1485.3,320.1 1485.7,321.5 1486.1,322.7 1486.5,323.8 1486.9,324.8 1487.3,325.8 1487.7,326.0 1488.7,327.5 1489.7,325.9 1490.8,325.3 1491.8,323.6 1492.8,324.4 1493.6,323.9 1494.4,325.0 1495.2,325.9 1496.0,327.2 1496.9,326.8 1497.9,328.0 1498.5,326.7 1499.0,326.4 1499.6,325.4 1500.2,324.5 1500.8,323.4 1501.4,322.3 1502.1,321.0 1502.8,320.1 1503.6,318.8 1504.5,318.2 1505.5,316.9 1506.4,316.8 1507.3,316.0 1508.4,316.0 1509.5,314.8 1510.6,315.3 1511.8,313.9 1513.0,314.5 1514.2,313.4 1515.4,313.7 1516.6,312.8 1517.7,313.3 1518.8,312.7 1519.8,313.6 1520.8,312.3 1522.0,313.6 1523.1,312.9 1524.2,314.2 1525.1,314.0 1526.1,315.1 1527.0,315.3 1527.9,316.4 1528.9,316.8 1529.9,317.9 1531.0,318.1 1531.9,319.4 1532.9,319.4 1534.0,320.7 1535.0,320.9 1536.1,322.2 1537.2,322.2 1538.3,323.7 1539.4,323.8 1540.4,325.0 1541.4,325.2 1542.3,326.2 1543.1,326.7 1543.8,327.5 1544.8,328.2 1545.5,329.0 1546.1,329.1 1546.4,329.9 1546.8,330.6 1547.1,331.9 1547.6,333.8 1547.8,334.6 1547.9,335.5 1548.1,336.4 1548.3,337.5 1548.4,338.6 1548.6,339.8 1548.7,341.0 1548.9,342.3 1549.1,343.6 1549.2,345.0 1549.4,346.3 1549.6,347.7 1549.7,349.0 1549.9,350.3 1550.1,351.7 1550.3,352.9 1550.4,354.2 1550.6,355.3 1550.8,356.5 1551.1,357.5 1551.3,358.4 1551.5,359.3 1552.0,360.9 1552.5,362.4 1553.1,363.9 1553.7,365.1 1554.3,366.3 1554.9,367.3 1555.6,368.4 1556.2,368.7 1556.8,369.5 1557.4,369.2 1557.9,369.8 1558.4,369.1 1558.9,368.6 1559.3,367.5 1559.8,366.4 1560.2,364.9 1560.7,363.5 1561.1,361.9 1561.5,360.5 1561.9,359.2 1562.3,358.1 1562.7,357.1 1563.0,357.0 1563.6,356.9 1564.0,358.2 1564.3,359.9 1564.7,361.7 1565.0,362.9 1565.5,363.8 1565.8,362.8 1566.0,362.2 1566.2,361.3 1566.4,360.3 1566.6,359.1 1566.9,357.9 1567.2,356.5 1567.6,355.2 1568.0,353.9 1568.6,352.8 1569.3,351.7 1569.9,351.0 1570.7,349.9 1571.5,349.4 1572.4,348.2 1573.4,347.6 1574.4,346.4 1575.4,346.0 1576.4,344.8 1577.4,344.4 1578.5,343.2 1579.5,343.1 1580.4,342.0 1581.3,342.3 1582.1,340.9 1583.4,341.3 1584.6,340.7 1585.8,341.7 1586.9,340.7 1587.9,341.9 1589.0,342.0 1590.0,343.1 1591.0,343.9 1591.5,344.7 1592.0,345.4 1592.6,346.4 1593.1,347.3 1593.6,348.4 1594.1,349.5 1594.6,350.7 1595.1,351.9 1595.6,353.1 1596.1,354.3 1596.5,355.5 1597.0,356.6 1597.4,357.8 1597.9,358.8 1598.3,359.8 1598.7,360.6 1599.4,362.0 1599.9,362.9 1600.4,364.0 1600.9,364.8 1601.3,365.7 1601.8,366.4 1602.4,367.4 1603.0,368.3 1603.8,369.7 1604.3,370.4 1604.9,371.5 1605.6,372.4 1606.2,373.7 1606.9,374.7 1607.6,376.1 1608.4,377.2 1609.1,378.5 1609.9,379.5 1610.6,380.7 1611.3,381.5 1612.0,382.6 1612.7,383.1 1613.4,384.1 1614.0,384.0 1615.1,385.3 1616.1,384.1 1617.1,384.6 1618.1,383.4 1619.0,382.8 1619.9,381.4 1620.8,380.2 1621.7,378.4 1622.1,377.8 1622.4,376.8 1622.8,375.9 1623.1,374.8 1623.5,373.7 1623.8,372.4 1624.2,371.2 1624.5,369.9 1624.8,368.6 1625.2,367.3 1625.5,366.0 1625.8,364.6 1626.1,363.4 1626.5,362.1 1626.8,360.9 1627.1,359.7 1627.4,358.7 1627.7,357.7 1628.0,356.8 1628.6,355.2 1629.1,353.8 1629.6,352.3 1630.1,351.1 1630.6,349.9 1631.1,349.0 1631.6,348.0 1632.1,347.4 1632.6,346.8 1633.2,347.2 1633.9,346.4 1634.6,347.3 1635.3,347.6 1636.0,348.9 1636.8,349.7 1637.6,351.2 1638.5,352.0 1639.5,353.2 1640.4,353.5 1641.4,354.8 1642.4,355.0 1643.5,356.3 1644.7,356.7 1645.8,358.1 1646.9,358.2 1647.9,359.5 1648.9,358.5 1649.7,359.8 1650.6,358.6 1651.3,358.5 1651.9,357.5 1652.5,356.6 1653.0,355.2 1653.5,354.1 1654.2,352.8 1654.9,351.8 1655.5,350.8 1656.1,350.0 1656.7,348.7 1657.4,347.8 1658.0,346.6 1658.7,345.8 1659.4,344.6 1660.2,343.9 1660.9,342.9 1661.7,342.8 1662.5,341.4 1663.4,342.4 1664.4,341.7 1665.4,343.2 1666.5,343.3 1667.5,344.4 1668.6,345.0 1669.6,346.1 1670.7,346.0 1671.7,347.3 1672.7,346.2 1673.6,346.8 1674.4,345.4 1675.2,345.4 1676.1,344.5 1676.9,343.8 1677.7,342.7 1678.5,341.9 1679.3,340.7 1680.1,339.8 1680.9,338.5 1681.7,337.7 1682.3,336.7 1682.9,335.9 1683.4,334.8 1684.0,334.0 1684.5,332.8 1685.0,331.8 1685.5,330.7 1686.1,329.7 1686.7,328.5 1687.3,327.6 1688.0,326.5 1688.8,325.7 1689.7,324.3 1690.6,323.8 1691.4,322.7 1692.3,322.4 1693.2,321.3 1694.2,321.0 1695.3,319.8 1696.4,319.6 1697.5,318.2 1698.6,318.2 1699.8,316.9 1701.0,316.9 1702.1,315.5 1703.3,315.6 1704.4,314.5 1705.4,314.3 1706.4,313.3 1707.4,313.2 1708.2,312.1 1709.0,312.9 1709.7,311.8 1711.6,311.6 1712.7,310.0 1713.4,310.8 1714.0,312.0 1714.8,314.7 1715.0,315.4 1715.2,316.2 1715.4,317.2 1715.5,318.3 1715.7,319.5 1715.9,320.8 1716.1,322.2 1716.3,323.6 1716.5,325.1 1716.7,326.7 1716.9,328.2 1717.0,329.8 1717.2,331.4 1717.4,333.0 1717.6,334.6 1717.8,336.2 1718.0,337.7 1718.2,339.1 1718.4,340.5 1718.6,341.8 1718.8,343.1 1719.0,344.2 1719.2,345.2 1719.4,346.0 1719.6,346.7 1719.8,347.4 1720.1,347.7 1720.3,348.2 1720.5,347.5 1720.7,348.1 1720.9,347.5 1721.1,347.1 1721.3,346.5 1721.6,345.8 1721.8,344.9 1722.0,344.0 1722.3,342.9 1722.5,341.7 1722.7,340.5 1723.0,339.2 1723.2,337.8 1723.4,336.3 1723.7,334.8 1723.9,333.3 1724.2,331.7 1724.4,330.2 1724.6,328.6 1724.9,327.0 1725.1,325.4 1725.3,323.9 1725.6,322.4 1725.8,320.9 1726.0,319.5 1726.3,318.1 1726.5,316.8 1726.7,315.6 1726.9,314.5 1727.1,313.4 1727.3,312.5 1727.5,311.7 1727.7,311.0 1728.8,308.1 1729.8,306.5 1730.7,307.0 1731.6,307.1 1732.5,308.4 1732.9,308.7 1733.2,309.4 1733.6,310.0 1733.9,310.8 1734.3,311.7 1734.6,312.7 1735.0,313.7 1735.3,315.0 1735.6,316.3 1736.0,317.8 1736.3,319.3 1736.6,321.0 1736.7,321.9 1736.9,323.0 1737.0,324.1 1737.2,325.4 1737.3,326.8 1737.4,328.3 1737.6,329.8 1737.7,331.4 1737.8,333.0 1737.9,334.6 1738.1,336.2 1738.2,337.8 1738.3,339.4 1738.4,340.9 1738.6,342.3 1738.7,343.7 1738.8,345.0 1739.0,346.2 1739.1,347.2 1739.2,348.1 1739.4,348.9 1739.5,349.5 1739.7,349.8 1739.8,350.4 1740.0,349.9 1740.1,349.8 1740.3,349.4 1740.4,348.9 1740.5,348.2 1740.7,347.4 1740.8,346.5 1741.0,345.4 1741.1,344.3 1741.3,343.1 1741.4,341.7 1741.5,340.3 1741.7,338.9 1741.8,337.4 1742.0,335.8 1742.1,334.3 1742.3,332.7 1742.5,331.1 1742.6,329.5 1742.8,327.9 1742.9,326.3 1743.1,324.8 1743.3,323.3 1743.4,321.8 1743.6,320.4 1743.8,319.1 1744.0,317.9 1744.2,316.8 1744.3,315.7 1744.5,314.8 1744.7,314.0 1744.9,313.5 1746.0,311.2 1747.1,311.6 1748.3,311.7 1749.5,313.3 1750.7,313.7 1751.9,314.8 1752.6,313.4 1753.2,312.9 1753.8,311.8 1754.4,310.9 1755.1,309.7 1755.7,308.9 1756.5,307.7 1757.3,307.1 1758.3,306.1 1759.3,306.3 1760.3,305.5 1761.5,306.1 1762.8,304.7 1764.1,305.5 1765.5,304.0 1766.8,305.4 1768.0,304.4 1769.1,305.7 1770.2,304.6 1771.0,305.8 1772.2,305.0 1773.0,306.2 1773.6,306.4 1774.0,307.4 1774.4,308.7 1774.9,310.8 1775.1,311.5 1775.2,312.3 1775.4,313.1 1775.5,313.9 1775.6,314.8 1775.8,315.8 1775.9,316.7 1776.0,317.7 1776.2,318.8 1776.3,319.9 1776.4,321.0 1776.5,322.2 1776.6,323.5 1776.7,324.8 1776.9,326.1 1777.0,327.5 1777.1,329.0 1777.2,330.5 1777.3,332.1 1777.4,333.8 1777.5,334.7 1777.5,335.7 1777.6,336.8 1777.6,337.9 1777.7,339.1 1777.7,340.3 1777.8,341.6 1777.8,342.9 1777.9,344.3 1777.9,345.6 1778.0,347.1 1778.0,348.5 1778.0,349.9 1778.1,351.4 1778.1,352.9 1778.2,354.4 1778.2,355.8 1778.3,357.3 1778.3,358.8 1778.4,360.2 1778.4,361.7 1778.4,363.1 1778.5,364.5 1778.5,365.8 1778.6,367.1 1778.6,368.4 1778.7,369.6 1778.7,370.7 1778.8,371.9 1778.8,372.9 1778.9,373.9 1778.9,374.8 1779.0,375.6 1779.0,376.4 1779.1,377.0 1779.2,377.6 1779.2,378.1 1779.3,378.5 1779.4,378.9 1779.6,379.3 1779.7,378.9 1779.8,378.3 1780.0,377.5 1780.1,376.3 1780.2,375.0 1780.4,373.5 1780.5,371.9 1780.7,370.2 1780.9,368.5 1781.1,366.7 1781.3,365.0 1781.6,363.4 1781.8,361.8 1782.2,360.5 1782.5,359.3 1782.9,358.2 1783.4,357.1 1783.9,356.2 1784.5,355.1 1785.1,354.2 1785.7,353.1 1786.3,352.4 1787.0,351.2 1787.6,350.4 1788.3,349.3 1788.9,348.4 1789.5,347.2 1790.1,346.3 1790.6,345.1 1791.1,344.0 1791.5,342.7 1791.8,341.7 1792.0,340.7 1792.2,339.6 1792.4,338.5 1792.6,337.4 1792.7,336.2 1792.9,335.0 1793.0,333.8 1793.1,332.6 1793.2,331.4 1793.3,330.2 1793.4,329.0 1793.5,327.7 1793.7,326.5 1793.8,325.3 1794.0,324.1 1794.2,323.0 1794.4,321.8 1794.7,320.7 1795.0,319.5 1795.3,318.5 1795.7,317.4 1796.2,316.2 1796.7,315.0 1797.2,313.9 1797.8,312.6 1798.4,311.4 1799.0,310.1 1799.7,309.0 1800.3,307.7 1801.0,306.7 1801.6,305.4 1802.3,304.6 1802.9,303.4 1803.6,302.6 1804.2,301.6 1804.8,301.0 1805.3,300.1 1805.9,299.7 1806.4,298.9 1806.8,299.1 1807.7,297.6 1808.5,299.0 1809.2,299.4 1809.8,300.7 1810.3,302.0 1810.8,303.5 1811.3,304.7 1811.9,305.8 1812.6,306.4 1813.3,307.4 1813.9,308.1 1814.6,309.0 1815.4,309.4 1816.1,310.3 1817.0,310.6 1818.0,311.6 1819.1,310.3 1820.3,311.1 1821.5,309.8 1822.7,310.8 1823.8,311.4 1824.7,313.5 1824.9,314.1 1825.1,315.0 1825.3,316.0 1825.5,317.1 1825.6,318.4 1825.8,319.7 1825.9,321.1 1826.1,322.6 1826.2,324.1 1826.3,325.7 1826.4,327.3 1826.6,328.9 1826.7,330.5 1826.8,332.0 1826.9,333.6 1827.0,335.0 1827.1,336.5 1827.3,337.8 1827.4,339.0 1827.5,340.2 1827.7,341.2 1827.8,342.1 1828.0,342.8 1828.1,343.4 1828.3,343.8 1828.5,344.3 1828.7,343.9 1829.0,343.6 1829.3,343.0 1829.5,342.1 1829.8,341.1 1830.1,339.8 1830.4,338.4 1830.7,336.9 1831.0,335.2 1831.3,333.5 1831.6,331.8 1831.9,330.1 1832.2,328.3 1832.6,326.7 1832.9,325.0 1833.2,323.6 1833.5,322.2 1833.8,321.0 1834.1,320.0 1834.4,319.3 1834.6,318.6 1834.9,319.0 1835.2,318.4 1835.5,319.0 1835.8,319.4 1836.0,320.3 1836.3,321.2 1836.6,322.4 1836.8,323.7 1837.1,325.2 1837.4,326.7 1837.6,328.2 1837.9,329.8 1838.1,331.4 1838.4,333.0 1838.6,334.5 1838.9,335.9 1839.2,337.2 1839.4,338.4 1839.7,339.4 1840.0,340.1 1840.8,341.8 1841.7,342.4 1842.5,343.4 1843.4,343.0 1844.2,344.0 1845.0,344.2 1845.7,345.3 1846.1,346.3 1846.5,347.7 1846.8,349.3 1847.1,351.0 1847.4,352.6 1847.7,354.2 1848.0,355.5 1848.3,356.5 1848.6,356.8 1848.9,357.1 1849.1,356.4 1849.3,356.1 1849.5,355.4 1849.7,354.7 1849.9,353.8 1850.1,352.9 1850.3,351.8 1850.5,350.7 1850.8,349.5 1851.0,348.2 1851.2,346.8 1851.4,345.4 1851.6,344.0 1851.8,342.5 1852.1,341.0 1852.3,339.5 1852.5,337.9 1852.7,336.4 1852.8,335.4 1853.0,334.4 1853.1,333.2 1853.2,332.1 1853.3,330.9 1853.4,329.6 1853.6,328.3 1853.7,327.0 1853.8,325.6 1853.9,324.2 1854.0,322.8 1854.1,321.4 1854.2,320.0 1854.4,318.6 1854.5,317.2 1854.6,315.8 1854.7,314.4 1854.8,313.1 1855.0,311.8 1855.1,310.5 1855.3,309.3 1855.4,308.1 1855.6,307.0 1855.7,306.0 1855.9,305.0 1856.0,304.1 1856.2,303.3 1856.4,302.6 1856.6,301.8 1857.5,300.5 1858.6,299.2 1859.8,300.7 1861.0,300.5 1862.2,302.0 1863.3,301.6 1864.2,302.3 1864.7,301.2 1865.0,300.4 1865.2,299.3 1865.3,298.1 1865.5,296.8 1865.6,295.6 1865.9,294.4 1866.4,293.3 1867.1,292.3 1868.0,292.0 1868.8,291.2 1869.6,291.8 1870.6,290.1 1871.6,291.7 1872.6,289.9 1873.8,291.0 1875.0,290.3 1876.2,291.0 1877.5,290.3 1878.8,291.3 1880.2,290.7 1881.6,291.7 1883.0,290.5 1884.5,291.3 1885.9,290.6 1886.9,291.9 1888.0,290.7 1889.1,291.6 1890.2,290.8 1891.4,291.5 1892.6,290.5 1893.9,291.8 1895.1,290.2 1896.4,291.4 1897.7,290.3 1899.0,291.6 1900.2,290.9 1901.5,291.7 1902.7,290.3 1904.0,291.6 1905.2,290.5 1906.3,291.9 1907.4,291.0 1908.5,291.9 1909.5,291.2 1910.5,291.9 1911.4,291.3 1912.9,292.3 1914.2,291.9 1915.3,292.9 1916.4,292.7 1917.3,293.7 1918.2,293.7 1919.1,294.8 1919.9,294.4 1920.8,295.6 1921.8,295.2 1922.9,296.2 1924.2,295.8 1925.2,296.5 1926.2,295.8 1927.3,296.8 1928.4,296.0 1929.6,297.3 1930.8,296.2 1932.0,297.6 1933.3,296.2 1934.5,297.6 1935.7,296.7 1936.9,297.7 1938.1,296.7 1939.3,297.8 1940.4,296.7 1941.5,298.2 1942.5,297.0 1943.4,297.8 1944.9,296.5 1946.3,298.0 1947.6,296.7 1948.8,297.3 1950.0,296.2 1951.1,296.9 1952.1,295.9 1953.0,296.9 1953.9,296.0 1954.8,296.9 1955.7,297.2 1956.5,298.4 1957.2,299.4 1957.7,300.7 1958.2,301.8 1958.8,302.9 1959.3,303.2 1960.0,304.7 1960.8,303.2 1961.6,303.2 1962.5,302.1 1963.4,301.2 1964.2,299.8 1965.0,299.0 1965.7,297.8 1966.3,297.7 1967.5,296.6 1968.0,297.3" stroke="#36ad69"/>
</g>
<rect x="142" y="22" width="1828" height="1471" fill="none" stroke="#000" stroke-width="6"/>
<line x1="357.2" y1="1493" x2="357.2" y2="1521.5" stroke="#000" stroke-width="6.5"/>
<text x="357.2" y="1589" font-size="63.5" text-anchor="middle">3500</text>
<line x1="626.0" y1="1493" x2="626.0" y2="1521.5" stroke="#000" stroke-width="6.5"/>
<text x="626.0" y="1589" font-size="63.5" text-anchor="middle">3000</text>
<line x1="894.8" y1="1493" x2="894.8" y2="1521.5" stroke="#000" stroke-width="6.5"/>
<text x="894.8" y="1589" font-size="63.5" text-anchor="middle">2500</text>
<line x1="1163.6" y1="1493" x2="1163.6" y2="1521.5" stroke="#000" stroke-width="6.5"/>
<text x="1163.6" y="1589" font-size="63.5" text-anchor="middle">2000</text>
<line x1="1432.4" y1="1493" x2="1432.4" y2="1521.5" stroke="#000" stroke-width="6.5"/>
<text x="1432.4" y="1589" font-size="63.5" text-anchor="middle">1500</text>
<line x1="1701.2" y1="1493" x2="1701.2" y2="1521.5" stroke="#000" stroke-width="6.5"/>
<text x="1701.2" y="1589" font-size="63.5" text-anchor="middle">1000</text>
<line x1="1970.0" y1="1493" x2="1970.0" y2="1521.5" stroke="#000" stroke-width="6.5"/>
<text x="1970.0" y="1589" font-size="63.5" text-anchor="middle">500</text>
<g stroke="#047b0a" stroke-width="5.8" stroke-dasharray="29.4 27.6">
<line x1="1452.2" y1="330.4" x2="1452.2" y2="1499.8"/>
<line x1="1789.5" y1="366.2" x2="1789.5" y2="1499.8"/>
</g>
<text transform="translate(734.5,1718.6) scale(0.984,1)" font-size="78">Wavenumber</text>
<text x="1178.7" y="1718.6" font-size="78">(cm</text>
<text transform="translate(1298.5,1686.5) scale(1.2,1)" font-size="50">&#8722;</text>
<text transform="translate(1331.5,1686.3) scale(0.75,1)" font-size="54.4">1</text>
<text x="1355" y="1718.6" font-size="78">)</text>
<text transform="translate(77,772.5) rotate(-90) scale(0.981,1)" font-size="78.5" text-anchor="middle">Transmittance %</text>
<text transform="translate(155.59,251.82) scale(1.0130,1)" font-size="55.46">EHBPs</text>
<text transform="translate(155.54,491.03) scale(1.0068,1)" font-size="54.57">EGD</text>
<text transform="translate(158.81,778.00) scale(0.9420,1)" font-size="58.99">ESOG</text>
<text transform="translate(159.19,1093.40) scale(0.9952,1)" font-size="56.44">ESO</text>
<text transform="translate(270.08,431.00) scale(0.9502,1)" font-size="59.39">3466</text>
<text transform="translate(422.37,766.19) scale(0.9076,1)" font-size="61.97">3347</text>
<text transform="translate(397.05,977.97) scale(0.9399,1)" font-size="60.60">3450</text>
<text transform="translate(1099.22,1446.80) scale(0.9387,1)" font-size="59.07">1728</text>
<text transform="translate(1495.24,1341.61) scale(0.9346,1)" font-size="59.07">1462</text>
<text transform="translate(1835.07,1294.22) scale(0.9122,1)" font-size="61.51">837</text>
<text transform="translate(423.08,1073.61) scale(0.9786,1)" font-size="79.19">&#8722;OH</text>
<text transform="translate(1075.36,1374.77) scale(0.9658,1)" font-size="80.09">C=O</text>
<text transform="translate(1501.07,1434.21) scale(0.9774,1)" font-size="78.92">C&#8722;O</text>
<line x1="362.7" y1="378.7" x2="357.5" y2="357.5" stroke="#1a1a1a" stroke-width="1.6"/><polygon points="349.0,323.0 367.2,357.1 348.7,361.7" fill="#000"/>
<line x1="483.3" y1="694.6" x2="474.2" y2="661.8" stroke="#1a1a1a" stroke-width="1.6"/><polygon points="464.7,627.6 483.9,661.2 465.6,666.3" fill="#000"/>
<line x1="431.3" y1="920.5" x2="412.5" y2="890.7" stroke="#1a1a1a" stroke-width="1.6"/><polygon points="393.5,860.7 421.6,887.3 405.5,897.5" fill="#000"/>
<line x1="1225.9" y1="1430.6" x2="1264.9" y2="1409.3" stroke="#1a1a1a" stroke-width="1.6"/><polygon points="1296.1,1392.3 1267.7,1418.6 1258.6,1401.9" fill="#000"/>
<line x1="1524.8" y1="1281.3" x2="1492.1" y2="1245.2" stroke="#1a1a1a" stroke-width="1.6"/><polygon points="1468.2,1218.9 1500.4,1240.3 1486.4,1253.1" fill="#000"/>
<line x1="1858.4" y1="1240.9" x2="1823.0" y2="1189.4" stroke="#1a1a1a" stroke-width="1.6"/><polygon points="1802.9,1160.1 1832.0,1185.6 1816.3,1196.4" fill="#000"/>
</svg></body></html>
